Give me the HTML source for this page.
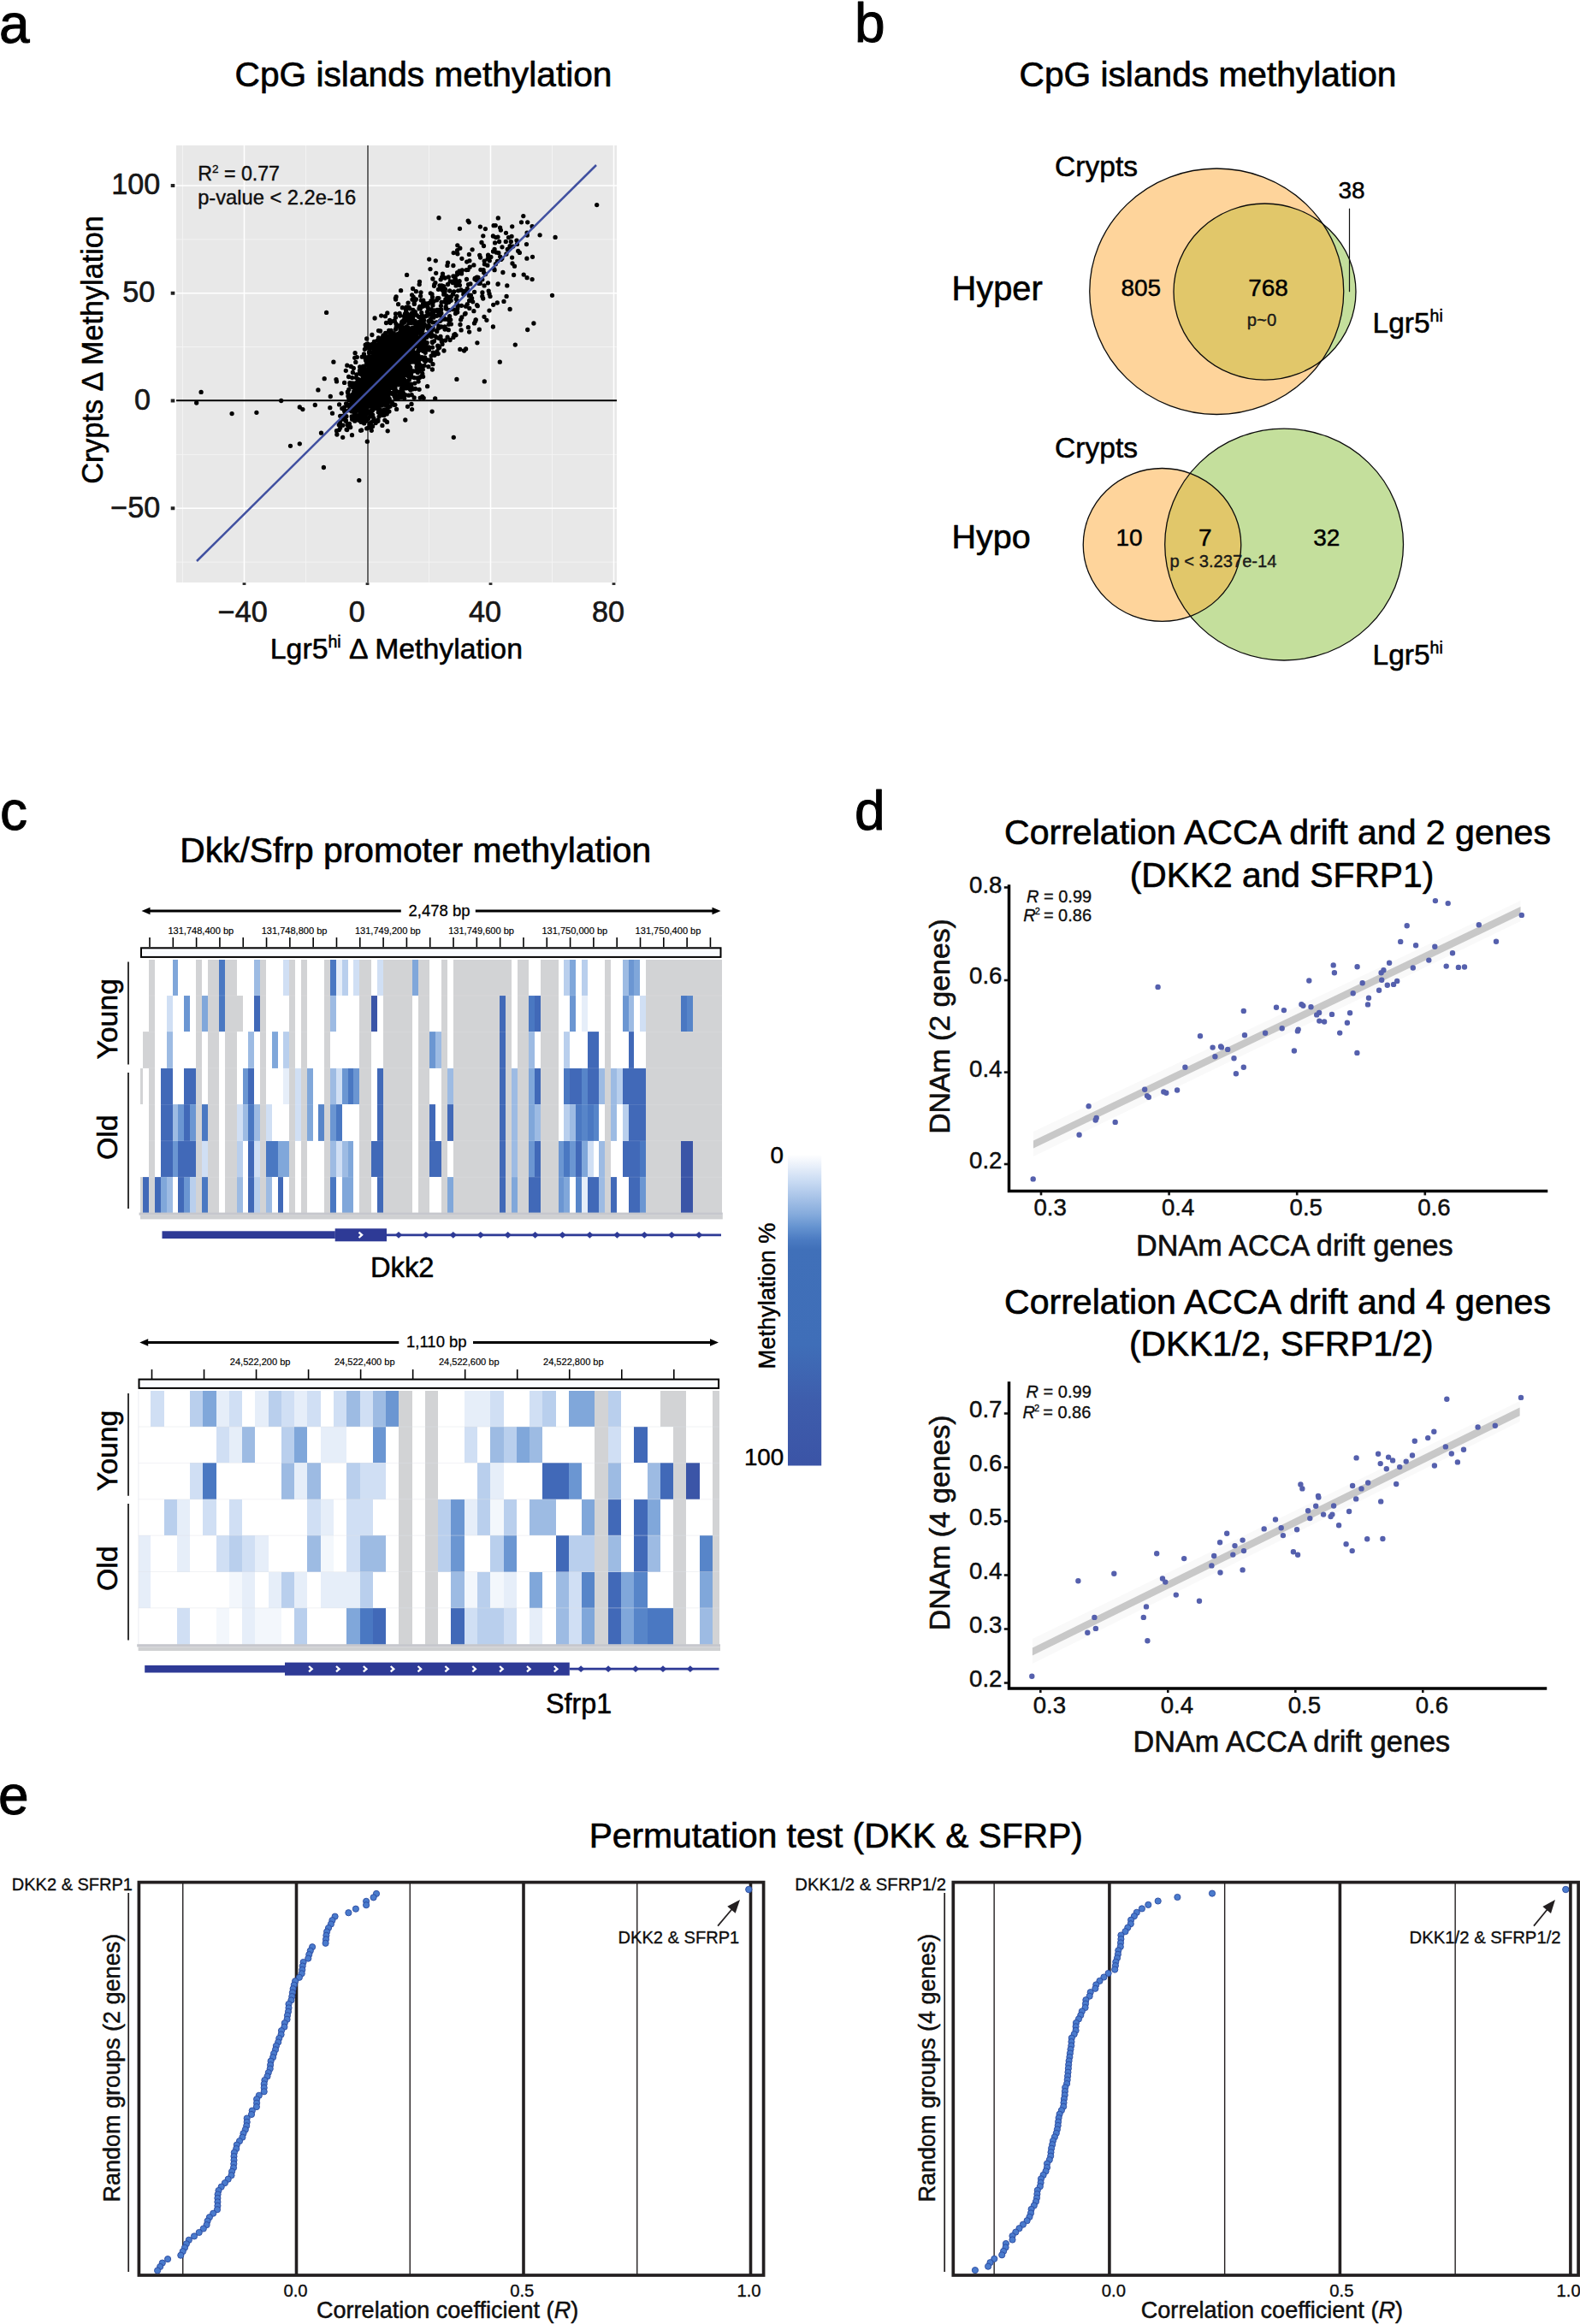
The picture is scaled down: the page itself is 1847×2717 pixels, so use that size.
<!DOCTYPE html>
<html><head><meta charset="utf-8"><title>Figure</title>
<style>html,body{margin:0;padding:0;background:#fff}svg{display:block}text{font-family:"Liberation Sans",Arial,Helvetica,sans-serif;stroke:#000;stroke-width:0.016em;stroke-linejoin:round}</style></head>
<body><svg width="1847" height="2717" viewBox="0 0 1847 2717">
<rect width="1847" height="2717" fill="#fff"/>
<text x="-1.00" y="50.00" font-size="64.00" text-anchor="start" fill="#000" >a</text>
<text x="495.00" y="100.60" font-size="40.70" text-anchor="middle" fill="#000" >CpG islands methylation</text>
<rect x="206.00" y="170.00" width="515.00" height="511.00" fill="#e8e8e8" />
<line x1="213.50" y1="170.00" x2="213.50" y2="681.00" stroke="#f4f4f4" stroke-width="0.90" />
<line x1="357.50" y1="170.00" x2="357.50" y2="681.00" stroke="#f4f4f4" stroke-width="0.90" />
<line x1="501.50" y1="170.00" x2="501.50" y2="681.00" stroke="#f4f4f4" stroke-width="0.90" />
<line x1="645.50" y1="170.00" x2="645.50" y2="681.00" stroke="#f4f4f4" stroke-width="0.90" />
<line x1="206.00" y1="279.88" x2="721.00" y2="279.88" stroke="#f4f4f4" stroke-width="0.90" />
<line x1="206.00" y1="405.62" x2="721.00" y2="405.62" stroke="#f4f4f4" stroke-width="0.90" />
<line x1="206.00" y1="531.38" x2="721.00" y2="531.38" stroke="#f4f4f4" stroke-width="0.90" />
<line x1="206.00" y1="657.12" x2="721.00" y2="657.12" stroke="#f4f4f4" stroke-width="0.90" />
<line x1="285.50" y1="170.00" x2="285.50" y2="681.00" stroke="#fff" stroke-width="1.50" />
<line x1="429.50" y1="170.00" x2="429.50" y2="681.00" stroke="#fff" stroke-width="1.50" />
<line x1="573.50" y1="170.00" x2="573.50" y2="681.00" stroke="#fff" stroke-width="1.50" />
<line x1="717.50" y1="170.00" x2="717.50" y2="681.00" stroke="#fff" stroke-width="1.50" />
<line x1="206.00" y1="217.00" x2="721.00" y2="217.00" stroke="#fff" stroke-width="1.50" />
<line x1="206.00" y1="342.75" x2="721.00" y2="342.75" stroke="#fff" stroke-width="1.50" />
<line x1="206.00" y1="468.50" x2="721.00" y2="468.50" stroke="#fff" stroke-width="1.50" />
<line x1="206.00" y1="594.25" x2="721.00" y2="594.25" stroke="#fff" stroke-width="1.50" />
<line x1="430.00" y1="170.00" x2="430.00" y2="681.00" stroke="#1a1a1a" stroke-width="1.30" />
<line x1="206.00" y1="468.30" x2="721.00" y2="468.30" stroke="#000" stroke-width="2.00" />
<path d="M442.2 429.9h0M442.7 446.4h0M430.0 456.8h0M466.8 407.4h0M465.4 412.3h0M453.9 425.0h0M416.8 447.9h0M455.9 416.6h0M407.6 440.5h0M480.9 390.5h0M444.3 427.2h0M458.2 412.7h0M451.4 443.3h0M424.4 472.4h0M431.0 432.8h0M452.6 427.4h0M454.2 398.6h0M432.7 441.9h0M429.8 464.3h0M436.9 410.7h0M442.5 454.7h0M427.2 466.6h0M467.4 439.1h0M434.9 391.5h0M460.6 407.7h0M447.2 447.3h0M441.7 440.5h0M431.7 481.3h0M413.8 487.1h0M436.0 417.3h0M427.1 470.5h0M413.6 457.9h0M466.0 424.9h0M443.5 445.4h0M439.0 472.0h0M480.2 404.6h0M442.9 419.8h0M444.9 441.6h0M436.2 443.4h0M451.4 426.5h0M447.9 445.6h0M447.0 415.1h0M451.9 437.0h0M425.2 449.0h0M471.5 437.0h0M456.3 439.0h0M432.2 440.5h0M480.6 437.0h0M453.3 419.0h0M448.3 419.5h0M422.9 456.9h0M446.6 434.2h0M431.7 441.1h0M406.1 496.7h0M438.9 466.8h0M426.8 476.5h0M483.2 385.2h0M453.6 470.4h0M452.1 450.3h0M440.0 436.9h0M442.5 445.6h0M458.0 419.0h0M455.4 411.4h0M447.1 435.4h0M451.6 423.3h0M444.1 435.0h0M464.3 438.8h0M454.9 415.2h0M436.9 429.5h0M471.9 383.2h0M466.9 417.0h0M439.2 442.5h0M460.0 411.5h0M443.6 400.4h0M448.8 430.1h0M467.8 422.8h0M460.4 401.9h0M468.5 410.1h0M482.4 406.3h0M442.1 455.6h0M439.5 433.8h0M449.8 458.1h0M449.7 451.1h0M452.3 393.3h0M481.8 405.1h0M458.3 460.3h0M446.0 451.5h0M430.0 454.6h0M451.0 430.8h0M444.2 422.7h0M430.9 499.9h0M406.8 459.6h0M491.5 395.6h0M438.4 433.2h0M448.5 420.7h0M453.9 401.2h0M474.7 431.5h0M420.8 457.7h0M449.1 441.8h0M425.7 494.9h0M452.8 463.6h0M435.6 445.1h0M450.7 450.0h0M461.9 473.3h0M432.3 437.5h0M474.1 419.8h0M451.3 422.0h0M469.5 377.1h0M450.3 443.3h0M470.1 464.1h0M437.6 461.0h0M437.7 448.2h0M494.5 383.9h0M433.8 469.1h0M464.3 427.5h0M470.1 440.7h0M450.1 417.4h0M443.2 424.7h0M434.8 455.9h0M438.4 438.8h0M461.0 432.2h0M423.8 451.5h0M462.3 432.8h0M465.2 429.7h0M425.3 462.1h0M466.0 414.3h0M447.4 433.6h0M450.1 444.6h0M418.2 458.6h0M431.8 457.1h0M424.0 461.4h0M448.6 443.6h0M434.1 454.1h0M441.6 406.1h0M423.7 460.0h0M449.3 478.9h0M423.6 448.9h0M425.2 458.0h0M439.8 463.9h0M426.7 460.6h0M472.8 421.7h0M477.5 440.1h0M445.4 410.9h0M479.1 417.8h0M452.7 422.0h0M440.3 439.5h0M447.2 427.5h0M431.5 482.5h0M455.1 434.9h0M441.2 471.0h0M470.0 379.5h0M459.2 426.6h0M464.1 424.9h0M451.1 425.5h0M437.5 467.6h0M455.8 434.2h0M456.8 439.7h0M473.0 384.0h0M449.6 436.8h0M448.0 448.8h0M468.7 421.7h0M446.3 400.2h0M443.8 429.3h0M445.3 437.9h0M451.9 427.9h0M432.7 434.9h0M460.5 390.0h0M429.2 453.9h0M457.0 402.4h0M435.4 449.9h0M439.4 413.8h0M456.5 433.4h0M449.9 405.7h0M437.1 442.7h0M439.6 438.2h0M441.5 426.3h0M431.7 464.6h0M466.1 402.2h0M440.5 424.8h0M462.8 419.4h0M455.4 423.8h0M451.7 425.7h0M461.6 433.0h0M475.4 413.7h0M467.3 407.3h0M461.7 405.6h0M448.3 401.0h0M449.6 445.8h0M443.1 487.1h0M453.4 399.4h0M467.4 437.5h0M455.5 416.8h0M431.3 482.6h0M445.6 418.2h0M445.0 421.7h0M422.3 473.9h0M433.0 453.5h0M451.7 425.6h0M451.8 431.8h0M433.0 445.0h0M453.2 406.9h0M416.2 474.1h0M433.9 447.7h0M461.8 432.8h0M449.4 448.5h0M451.5 377.5h0M435.3 462.0h0M442.9 422.4h0M443.5 439.8h0M447.4 452.5h0M460.6 436.0h0M446.6 438.1h0M446.7 436.7h0M454.6 433.1h0M449.9 415.4h0M448.9 430.8h0M470.5 446.2h0M441.3 459.2h0M422.9 444.6h0M434.5 475.5h0M493.0 370.7h0M470.1 416.7h0M442.6 417.8h0M414.1 491.5h0M425.8 452.3h0M437.7 469.0h0M443.6 420.1h0M418.8 450.9h0M425.6 432.3h0M429.8 457.9h0M434.6 437.1h0M448.7 440.3h0M453.3 415.9h0M427.0 475.5h0M428.6 463.9h0M427.9 417.7h0M447.5 435.5h0M425.5 486.4h0M441.0 410.8h0M458.6 424.3h0M453.9 432.1h0M475.7 397.9h0M475.2 384.1h0M443.6 456.5h0M460.6 436.5h0M418.7 485.6h0M429.5 442.7h0M451.5 432.0h0M476.5 415.5h0M468.7 406.9h0M447.3 439.0h0M473.5 420.5h0M421.5 467.1h0M467.8 437.7h0M451.2 399.4h0M472.6 392.5h0M494.0 385.6h0M445.5 474.1h0M455.3 405.4h0M442.9 441.4h0M459.0 410.4h0M442.6 449.9h0M441.9 491.1h0M440.1 416.8h0M471.5 454.5h0M444.7 442.2h0M434.3 429.2h0M434.3 446.5h0M447.0 458.2h0M447.8 438.5h0M456.2 436.6h0M459.8 422.4h0M445.9 436.6h0M412.4 435.5h0M474.9 418.3h0M409.1 478.1h0M463.6 478.4h0M487.9 411.8h0M437.7 459.7h0M453.1 420.5h0M449.3 424.8h0M434.1 434.1h0M441.4 443.6h0M468.2 407.4h0M463.0 378.7h0M436.6 434.9h0M423.3 417.2h0M424.6 489.1h0M438.0 412.6h0M455.7 459.9h0M455.9 437.3h0M435.1 402.4h0M459.2 407.3h0M461.4 431.1h0M459.4 427.3h0M397.7 486.3h0M473.0 418.2h0M468.6 424.2h0M453.5 421.8h0M457.2 405.5h0M435.0 439.1h0M485.3 375.3h0M446.3 427.7h0M455.8 411.1h0M455.7 414.3h0M454.0 430.2h0M470.1 386.8h0M427.3 473.3h0M456.5 446.1h0M444.1 442.4h0M452.3 439.8h0M493.2 372.8h0M461.9 449.1h0M420.7 458.2h0M460.8 421.9h0M465.0 466.2h0M461.7 396.8h0M417.0 460.0h0M447.4 446.3h0M409.7 499.5h0M450.8 411.4h0M446.8 401.3h0M431.9 416.7h0M408.8 473.3h0M455.4 413.2h0M464.8 438.4h0M407.7 479.7h0M421.2 459.0h0M427.0 461.0h0M445.2 434.5h0M434.0 422.5h0M434.3 451.8h0M455.7 427.4h0M472.4 413.8h0M438.5 421.4h0M456.2 444.3h0M437.9 440.0h0M470.8 394.7h0M447.8 485.4h0M457.9 451.2h0M417.3 479.9h0M448.8 432.9h0M492.6 395.7h0M432.0 426.5h0M449.7 442.9h0M430.1 453.8h0M473.5 396.4h0M440.9 423.4h0M450.3 459.9h0M459.8 411.2h0M477.2 407.5h0M425.5 441.8h0M492.5 405.1h0M477.6 403.7h0M459.4 422.3h0M431.8 427.7h0M440.5 436.4h0M458.6 450.7h0M460.0 411.8h0M443.6 450.2h0M454.5 417.0h0M445.2 430.6h0M448.8 468.4h0M470.7 387.4h0M427.2 407.4h0M446.1 442.8h0M456.9 394.5h0M435.1 417.6h0M452.1 445.1h0M458.8 430.2h0M456.3 409.7h0M447.0 466.3h0M482.9 362.3h0M479.4 398.6h0M463.1 403.1h0M416.7 471.6h0M449.1 453.2h0M449.7 421.2h0M441.1 470.4h0M475.7 386.5h0M450.3 419.1h0M418.4 458.6h0M448.0 391.9h0M462.3 422.1h0M476.6 391.3h0M437.0 452.8h0M491.6 403.5h0M437.4 448.9h0M431.4 451.3h0M448.3 432.7h0M414.6 465.3h0M467.1 366.5h0M434.8 459.6h0M455.7 448.8h0M455.7 415.3h0M441.8 429.9h0M418.9 447.8h0M419.0 477.7h0M436.8 454.0h0M462.2 418.9h0M439.6 431.7h0M475.2 407.6h0M453.4 403.8h0M451.6 457.6h0M491.6 346.1h0M411.1 472.0h0M454.3 408.6h0M458.8 429.6h0M427.8 452.5h0M465.4 440.0h0M428.3 454.6h0M411.9 475.7h0M438.9 434.3h0M434.1 466.5h0M439.7 443.9h0M434.8 447.4h0M460.3 398.1h0M477.5 421.7h0M439.2 494.5h0M481.0 417.1h0M446.2 425.7h0M422.3 450.5h0M446.3 474.0h0M452.0 406.1h0M413.2 452.4h0M450.5 422.4h0M454.7 401.1h0M442.8 421.8h0M439.4 428.2h0M432.1 452.6h0M477.9 395.9h0M443.9 462.3h0M432.6 445.9h0M463.7 410.4h0M456.2 427.4h0M471.1 419.9h0M436.9 427.3h0M447.9 440.5h0M436.4 451.4h0M458.0 417.5h0M425.0 448.6h0M450.0 453.3h0M460.7 427.9h0M440.7 425.4h0M470.6 426.6h0M454.7 446.2h0M488.4 404.9h0M468.3 428.0h0M461.4 375.7h0M401.0 490.0h0M455.8 428.9h0M434.7 403.4h0M448.2 468.4h0M462.2 456.2h0M467.5 427.3h0M449.4 407.3h0M448.9 462.5h0M416.3 441.6h0M460.1 439.5h0M462.3 410.4h0M458.4 471.0h0M441.3 422.7h0M460.0 404.7h0M402.5 476.1h0M455.6 374.5h0M429.6 459.6h0M447.4 417.0h0M438.8 420.1h0M432.6 444.4h0M437.3 442.0h0M434.3 481.1h0M466.5 410.2h0M436.7 441.7h0M464.6 438.4h0M444.8 426.7h0M456.3 433.4h0M408.9 447.7h0M452.7 429.8h0M441.8 435.4h0M439.1 464.6h0M433.5 461.3h0M435.8 470.7h0M458.2 451.6h0M458.7 445.1h0M453.1 401.3h0M450.4 447.3h0M447.6 432.0h0M415.6 479.2h0M449.7 442.7h0M448.2 419.3h0M460.6 403.6h0M457.4 431.4h0M446.4 441.8h0M441.1 445.2h0M415.7 473.4h0M446.3 456.4h0M446.3 425.7h0M443.8 396.0h0M399.9 486.5h0M413.9 448.1h0M494.6 440.3h0M449.1 422.9h0M441.3 429.9h0M406.4 458.2h0M453.5 428.8h0M436.2 433.2h0M438.0 439.9h0M437.6 491.3h0M446.2 432.3h0M460.4 440.5h0M446.2 423.7h0M449.4 407.7h0M482.6 419.2h0M412.2 452.4h0M474.3 389.7h0M461.4 434.2h0M433.9 430.2h0M430.4 489.5h0M428.8 402.2h0M481.4 415.9h0M433.7 444.1h0M433.3 422.2h0M445.4 459.7h0M470.3 424.6h0M450.8 432.2h0M441.1 434.8h0M434.3 486.2h0M433.1 444.0h0M446.8 419.0h0M466.9 438.6h0M455.7 418.4h0M440.9 437.4h0M472.7 408.8h0M447.0 441.7h0M453.5 438.4h0M456.8 449.8h0M434.7 439.6h0M470.9 423.0h0M448.3 420.2h0M441.6 435.6h0M453.3 456.4h0M419.0 459.2h0M428.9 453.8h0M449.5 449.4h0M428.5 471.4h0M467.7 460.7h0M461.4 423.0h0M433.2 444.2h0M443.7 459.6h0M443.2 438.9h0M453.0 429.2h0M444.0 485.2h0M433.3 440.6h0M456.1 445.7h0M433.3 473.0h0M421.2 453.1h0M460.6 424.3h0M452.2 402.9h0M426.6 456.3h0M444.8 418.8h0M422.1 493.4h0M453.2 443.7h0M450.6 420.3h0M454.8 409.8h0M450.7 432.1h0M419.0 444.9h0M423.3 461.7h0M469.5 446.9h0M459.2 439.7h0M444.7 471.5h0M410.5 463.0h0M483.1 384.1h0M448.1 431.6h0M476.4 374.5h0M436.6 465.6h0M479.6 410.7h0M458.5 400.0h0M432.8 460.4h0M421.8 437.5h0M444.1 421.5h0M423.2 445.3h0M431.7 455.0h0M423.7 463.7h0M458.4 430.4h0M441.7 431.1h0M441.4 431.5h0M448.2 417.4h0M439.6 439.8h0M450.2 401.9h0M453.9 450.1h0M426.0 457.0h0M440.2 458.9h0M437.6 429.3h0M416.4 459.9h0M442.6 409.2h0M417.3 455.8h0M443.8 436.0h0M455.2 388.5h0M454.3 417.4h0M423.2 446.0h0M424.1 460.5h0M454.8 399.6h0M464.3 413.6h0M461.9 424.7h0M448.5 434.9h0M461.4 425.6h0M429.9 475.4h0M488.7 434.8h0M446.0 440.5h0M443.7 457.8h0M456.8 423.2h0M430.3 459.3h0M425.3 448.5h0M481.8 369.1h0M464.8 417.6h0M447.6 424.7h0M475.9 405.2h0M446.5 460.1h0M448.0 430.9h0M435.8 465.8h0M447.3 427.4h0M434.6 432.1h0M441.7 433.9h0M474.0 418.9h0M446.9 441.3h0M441.2 433.9h0M419.7 455.9h0M422.1 473.1h0M461.1 455.9h0M470.1 375.9h0M466.2 402.9h0M448.7 437.7h0M485.4 417.9h0M446.6 424.8h0M438.0 469.2h0M452.2 429.6h0M416.7 477.2h0M433.5 454.5h0M456.0 410.0h0M424.7 458.3h0M435.8 479.6h0M458.4 433.8h0M442.3 482.0h0M455.6 426.1h0M458.5 434.5h0M473.4 403.0h0M438.1 435.8h0M458.1 436.3h0M466.2 407.0h0M460.4 401.6h0M492.2 392.3h0M438.5 434.8h0M444.8 482.1h0M481.2 392.6h0M418.7 476.1h0M451.5 437.6h0M440.3 436.8h0M464.0 398.6h0M450.6 424.0h0M420.0 491.5h0M446.7 447.1h0M449.1 450.3h0M435.7 449.4h0M407.5 499.0h0M456.8 426.1h0M428.0 450.0h0M475.3 381.8h0M425.5 469.3h0M413.3 481.6h0M423.5 476.0h0M451.2 438.0h0M440.9 473.2h0M462.0 427.5h0M422.1 460.3h0M465.7 444.8h0M453.8 455.0h0M461.3 409.6h0M441.9 460.9h0M421.0 479.7h0M460.2 416.9h0M446.0 448.4h0M443.9 429.0h0M404.9 486.7h0M445.8 459.8h0M436.6 450.9h0M425.7 481.6h0M420.8 482.5h0M444.3 425.0h0M442.8 448.1h0M430.3 451.3h0M437.6 425.7h0M445.1 422.0h0M451.8 433.7h0M448.5 453.0h0M456.0 432.9h0M430.9 453.0h0M459.6 425.9h0M404.2 492.3h0M444.6 431.5h0M429.8 450.1h0M456.0 420.5h0M414.5 483.2h0M431.6 464.5h0M441.9 422.0h0M443.0 464.1h0M421.3 451.7h0M428.3 461.3h0M468.6 386.7h0M470.9 436.6h0M474.6 410.6h0M464.2 419.2h0M465.7 416.6h0M448.0 437.6h0M432.4 449.5h0M462.0 442.5h0M449.2 453.2h0M426.7 486.5h0M478.2 400.5h0M441.9 419.6h0M412.2 467.6h0M437.1 431.2h0M424.5 454.7h0M447.0 406.9h0M438.9 443.6h0M455.1 418.3h0M457.0 422.6h0M430.4 426.4h0M478.7 401.1h0M436.2 424.4h0M431.2 445.3h0M420.5 433.2h0M427.2 448.0h0M436.7 454.8h0M426.1 457.5h0M427.5 435.5h0M431.4 452.5h0M459.9 407.6h0M462.9 398.4h0M454.0 414.0h0M463.3 445.3h0M447.0 434.1h0M445.2 424.9h0M429.8 480.9h0M436.6 435.2h0M432.1 496.2h0M469.1 387.7h0M458.5 427.6h0M443.5 463.2h0M429.4 436.2h0M440.1 418.0h0M444.3 482.1h0M450.5 400.2h0M452.8 443.1h0M435.2 434.6h0M433.7 473.7h0M450.3 430.6h0M434.5 467.9h0M454.2 464.9h0M435.6 457.3h0M479.3 423.8h0M458.9 427.2h0M468.0 385.3h0M442.7 435.1h0M431.2 458.4h0M460.6 447.3h0M433.6 447.7h0M441.8 448.2h0M409.8 478.7h0M445.2 438.2h0M448.7 416.9h0M484.5 422.0h0M430.1 441.3h0M408.5 495.5h0M430.7 474.0h0M426.9 481.1h0M431.3 444.0h0M472.7 444.0h0M454.8 417.5h0M453.6 394.6h0M453.9 403.0h0M433.3 475.3h0M471.3 405.6h0M424.3 459.0h0M462.0 436.8h0M454.2 455.3h0M457.7 418.8h0M444.3 443.6h0M444.7 410.4h0M469.1 455.0h0M428.4 457.3h0M447.8 455.9h0M462.5 366.8h0M427.5 476.0h0M449.6 409.3h0M462.3 417.8h0M456.8 424.0h0M447.0 440.0h0M438.4 435.5h0M445.2 430.1h0M439.9 410.0h0M450.0 431.1h0M476.0 404.5h0M452.1 425.7h0M418.6 443.1h0M423.8 433.5h0M459.6 429.0h0M427.4 440.6h0M441.1 409.5h0M440.4 438.6h0M447.0 457.9h0M419.8 446.9h0M454.2 430.1h0M436.0 431.2h0M430.9 433.2h0M453.1 449.4h0M438.0 449.7h0M437.8 439.1h0M430.4 469.9h0M426.7 473.4h0M455.5 416.0h0M404.6 471.8h0M424.0 460.3h0M452.9 398.1h0M442.2 431.7h0M432.5 494.7h0M416.2 452.4h0M425.5 464.8h0M464.5 403.0h0M435.5 458.2h0M424.4 428.3h0M426.9 455.7h0M447.8 436.6h0M465.6 449.8h0M429.6 448.2h0M443.3 420.5h0M418.3 446.0h0M429.4 459.0h0M481.5 390.6h0M421.2 444.9h0M438.2 421.8h0M458.4 420.3h0M435.3 447.2h0M405.1 474.2h0M471.3 421.8h0M428.7 449.5h0M460.1 422.5h0M414.9 475.9h0M448.7 421.6h0M417.8 461.6h0M470.3 378.4h0M424.2 481.4h0M444.0 450.0h0M440.6 437.4h0M457.4 431.3h0M430.5 471.2h0M439.6 454.6h0M445.7 369.1h0M463.8 425.9h0M452.8 454.3h0M423.3 443.6h0M467.0 430.0h0M464.8 412.7h0M447.4 394.0h0M444.6 464.6h0M448.8 436.5h0M478.0 449.7h0M466.3 412.5h0M413.7 453.2h0M443.6 425.6h0M449.6 429.4h0M453.6 404.2h0M454.0 413.0h0M432.3 407.4h0M433.9 423.0h0M456.3 434.8h0M452.2 415.1h0M443.3 466.5h0M436.6 416.4h0M439.5 460.6h0M459.0 395.0h0M486.2 382.4h0M446.1 421.1h0M450.1 459.2h0M477.9 372.7h0M427.4 420.3h0M456.0 434.3h0M421.6 453.7h0M446.2 415.2h0M470.6 383.6h0M436.7 454.1h0M469.7 412.7h0M438.3 451.4h0M459.2 406.8h0M461.3 414.1h0M458.4 405.1h0M468.0 382.3h0M449.0 431.8h0M451.4 418.3h0M441.2 403.5h0M432.2 441.6h0M440.4 451.0h0M449.4 397.5h0M431.8 466.3h0M432.5 470.5h0M475.1 436.6h0M450.3 423.3h0M456.7 395.5h0M456.7 437.0h0M443.5 428.0h0M436.5 456.2h0M452.3 435.7h0M480.9 408.5h0M456.2 444.6h0M447.7 426.7h0M441.7 433.9h0M446.0 412.5h0M430.4 446.4h0M466.7 419.8h0M460.3 416.6h0M463.1 346.9h0M443.2 431.1h0M443.1 450.3h0M483.9 368.1h0M457.0 441.2h0M494.8 351.2h0M450.1 438.8h0M455.1 388.7h0M447.2 448.5h0M444.9 479.5h0M462.5 415.1h0M469.7 404.8h0M455.4 423.2h0M418.6 460.9h0M453.7 405.0h0M459.7 439.7h0M447.2 427.7h0M470.6 422.2h0M415.0 479.2h0M440.8 411.1h0M458.5 451.9h0M462.5 385.0h0M458.0 445.0h0M476.5 390.7h0M431.0 406.4h0M450.6 473.5h0M452.1 432.0h0M458.3 414.9h0M431.8 440.4h0M461.6 422.9h0M445.8 459.1h0M444.4 448.7h0M445.9 445.1h0M414.4 455.8h0M434.9 452.5h0M429.7 452.7h0M440.4 406.5h0M414.8 492.2h0M447.5 460.3h0M442.5 386.6h0M452.9 427.7h0M458.0 412.2h0M455.0 425.7h0M442.7 413.6h0M462.7 418.9h0M450.0 454.7h0M433.0 481.3h0M442.8 406.6h0M468.7 415.6h0M441.4 424.0h0M461.4 438.1h0M446.7 420.8h0M459.5 405.3h0M465.0 410.4h0M439.0 474.2h0M433.6 429.1h0M475.7 388.4h0M440.0 477.3h0M463.3 440.0h0M443.9 405.4h0M435.5 455.1h0M458.1 435.9h0M463.3 382.5h0M443.0 407.3h0M429.5 449.0h0M441.9 492.3h0M441.8 426.5h0M441.3 467.0h0M458.8 440.8h0M463.4 399.5h0M454.9 432.1h0M446.7 401.1h0M483.3 391.7h0M405.1 502.2h0M422.4 455.8h0M443.6 449.2h0M435.8 453.9h0M433.8 493.9h0M436.0 457.8h0M437.3 467.0h0M444.3 422.1h0M442.3 450.5h0M471.2 391.6h0M463.4 395.7h0M440.9 444.4h0M466.8 427.5h0M444.6 430.2h0M453.5 435.0h0M464.5 422.1h0M459.8 400.9h0M458.6 409.0h0M425.9 483.5h0M435.6 437.1h0M473.8 434.4h0M452.3 448.0h0M433.6 454.6h0M459.2 419.2h0M468.0 435.2h0M462.8 400.9h0M448.0 424.8h0M436.6 468.4h0M439.5 456.3h0M498.8 394.5h0M476.5 402.4h0M452.4 415.0h0M432.8 430.8h0M453.6 460.5h0M457.6 413.8h0M454.9 395.2h0M439.3 432.7h0M460.3 441.1h0M468.4 444.5h0M423.4 448.2h0M427.2 457.6h0M417.2 463.7h0M426.4 449.0h0M419.2 453.9h0M442.0 439.3h0M445.6 434.4h0M447.4 466.7h0M462.3 400.9h0M429.1 469.8h0M460.3 454.4h0M454.3 433.9h0M464.0 437.9h0M440.7 457.7h0M475.3 393.6h0M429.6 465.2h0M450.7 435.8h0M456.3 450.7h0M435.9 407.1h0M468.0 432.7h0M477.8 377.9h0M408.1 467.9h0M465.0 415.3h0M445.4 411.8h0M453.6 475.5h0M447.5 431.4h0M424.6 432.9h0M446.6 467.3h0M443.8 453.7h0M457.6 441.1h0M437.4 415.8h0M438.1 453.8h0M445.5 451.9h0M459.7 448.1h0M437.9 405.8h0M414.9 489.5h0M448.4 483.0h0M404.5 491.7h0M465.2 412.6h0M436.7 469.5h0M492.1 379.7h0M427.6 421.2h0M471.2 425.9h0M415.8 423.4h0M444.5 448.7h0M451.8 437.1h0M467.7 428.6h0M446.4 424.3h0M469.9 428.4h0M436.6 416.6h0M445.8 416.4h0M451.6 426.9h0M431.8 451.3h0M445.3 450.6h0M479.4 430.0h0M433.0 441.5h0M466.7 431.5h0M442.1 455.8h0M429.1 426.4h0M446.4 445.2h0M451.6 411.8h0M472.1 403.5h0M451.9 418.8h0M466.0 404.3h0M424.6 455.3h0M440.7 406.6h0M449.2 447.9h0M472.4 418.2h0M455.5 428.3h0M455.0 405.4h0M433.3 462.3h0M462.8 425.3h0M450.8 410.9h0M431.7 429.3h0M441.9 452.1h0M437.4 399.3h0M458.1 413.7h0M434.4 417.6h0M427.1 464.6h0M469.9 389.7h0M441.5 426.4h0M442.6 465.3h0M465.1 414.6h0M462.0 404.0h0M432.2 446.2h0M433.8 439.7h0M461.8 399.7h0M491.0 398.9h0M469.1 394.7h0M461.5 437.1h0M458.8 414.3h0M450.5 423.4h0M431.9 450.2h0M458.5 427.5h0M459.7 393.4h0M452.6 436.7h0M455.6 429.7h0M439.1 448.2h0M480.7 386.9h0M460.8 402.8h0M418.9 453.0h0M460.9 425.4h0M429.5 439.3h0M443.6 415.7h0M440.3 439.1h0M466.3 394.6h0M467.4 418.5h0M485.3 414.7h0M437.8 444.1h0M471.4 401.8h0M482.3 383.1h0M461.8 436.8h0M443.0 436.8h0M429.2 467.9h0M427.3 462.8h0M463.4 408.4h0M452.6 419.4h0M434.0 453.6h0M439.4 461.2h0M440.3 459.6h0M446.7 419.6h0M453.0 428.1h0M456.0 430.2h0M432.4 487.1h0M469.3 407.0h0M410.0 465.2h0M439.4 444.0h0M451.1 444.6h0M422.8 472.3h0M461.7 438.4h0M423.3 458.7h0M481.6 418.8h0M467.1 411.6h0M454.9 399.2h0M431.5 452.4h0M441.7 429.0h0M449.4 427.6h0M461.3 425.8h0M450.2 443.4h0M470.6 395.5h0M477.9 434.8h0M434.6 448.6h0M466.0 424.6h0M431.5 411.9h0M447.0 432.9h0M432.2 411.3h0M456.2 431.6h0M443.3 439.0h0M455.5 423.6h0M434.8 418.2h0M431.4 423.8h0M461.1 448.6h0M465.3 409.7h0M433.9 406.5h0M470.1 455.1h0M465.9 429.1h0M419.3 449.1h0M424.6 464.4h0M448.5 441.1h0M428.7 500.9h0M443.7 414.6h0M468.7 383.3h0M454.4 422.9h0M433.6 501.0h0M433.1 466.2h0M429.6 452.8h0M453.1 443.0h0M461.2 416.3h0M461.6 400.1h0M468.1 422.1h0M435.1 446.1h0M468.4 460.0h0M461.1 432.1h0M459.0 415.3h0M440.2 459.5h0M440.5 431.7h0M426.0 455.6h0M435.8 460.6h0M425.7 490.8h0M454.2 423.6h0M439.0 448.3h0M463.3 417.6h0M452.9 432.5h0M458.5 431.1h0M428.1 440.5h0M457.2 444.8h0M450.1 428.7h0M452.8 365.9h0M450.6 432.1h0M439.2 455.2h0M397.4 493.7h0M443.4 461.2h0M448.1 425.0h0M467.7 369.0h0M448.9 451.6h0M426.8 428.0h0M436.4 446.2h0M460.3 419.4h0M450.0 426.6h0M412.7 473.3h0M457.8 450.7h0M420.2 450.9h0M441.9 432.3h0M413.7 469.5h0M430.8 436.3h0M477.6 413.9h0M462.4 439.3h0M441.3 433.8h0M435.2 421.6h0M452.7 456.4h0M422.7 471.9h0M409.2 450.3h0M439.7 455.0h0M446.8 444.2h0M469.4 386.0h0M460.1 411.3h0M463.5 410.6h0M445.3 415.8h0M451.6 419.1h0M473.6 369.8h0M447.4 413.0h0M421.8 475.6h0M453.4 442.4h0M428.4 470.5h0M454.6 456.5h0M456.8 405.5h0M412.2 461.2h0M459.7 448.0h0M454.9 435.7h0M456.5 410.6h0M454.9 481.1h0M458.6 389.5h0M427.2 403.2h0M439.4 470.6h0M424.3 429.3h0M456.7 439.5h0M437.2 491.3h0M427.6 484.4h0M449.9 438.6h0M462.5 416.7h0M444.0 427.0h0M471.9 419.3h0M449.2 444.1h0M432.1 469.1h0M437.7 471.0h0M442.4 448.3h0M452.2 412.3h0M481.1 411.7h0M444.2 428.2h0M436.3 425.3h0M459.2 423.8h0M467.6 429.2h0M442.5 449.2h0M442.9 467.1h0M444.8 419.4h0M455.7 407.2h0M455.4 410.3h0M429.6 460.5h0M417.3 417.6h0M483.1 401.7h0M438.6 434.1h0M431.1 426.6h0M487.0 429.0h0M434.8 424.4h0M470.4 398.4h0M451.5 433.8h0M449.0 445.5h0M439.8 452.7h0M473.6 448.0h0M463.7 449.5h0M421.6 503.3h0M431.3 434.4h0M472.7 429.3h0M472.4 426.8h0M416.3 451.7h0M458.9 427.9h0M403.1 480.1h0M441.5 448.6h0M441.8 476.3h0M437.0 409.9h0M473.5 416.7h0M434.5 440.2h0M465.1 403.4h0M426.6 452.6h0M449.2 405.0h0M467.5 405.1h0M467.8 423.0h0M473.4 418.1h0M453.6 411.0h0M431.0 465.4h0M416.4 462.6h0M445.8 443.3h0M455.4 469.3h0M446.4 434.6h0M442.2 424.7h0M477.1 414.8h0M430.5 463.9h0M448.4 422.7h0M431.9 430.8h0M429.1 437.0h0M454.2 419.4h0M484.1 404.3h0M443.9 429.3h0M461.7 447.7h0M451.5 445.9h0M457.7 398.0h0M447.7 437.1h0M449.9 491.3h0M460.1 411.6h0M449.6 440.9h0M434.2 451.9h0M467.7 417.2h0M470.1 463.8h0M438.8 438.3h0M446.5 469.0h0M435.3 422.5h0M424.5 477.5h0M427.8 465.5h0M457.9 413.2h0M411.7 441.6h0M436.5 457.6h0M475.6 409.0h0M425.4 469.7h0M434.2 468.3h0M441.0 424.2h0M452.8 457.2h0M494.9 407.9h0M448.8 433.3h0M459.9 429.4h0M454.7 386.4h0M448.4 455.7h0M452.5 446.2h0M440.4 438.5h0M452.6 435.8h0M461.4 425.2h0M424.2 440.8h0M440.5 418.1h0M435.5 435.7h0M452.2 483.9h0M421.0 483.5h0M471.1 449.3h0M462.6 398.7h0M455.3 414.1h0M438.2 444.6h0M450.7 423.7h0M459.0 427.9h0M434.7 459.0h0M453.9 461.8h0M425.1 465.4h0M437.2 450.7h0M400.8 488.1h0M442.4 424.8h0M412.6 475.7h0M455.0 418.1h0M467.5 394.6h0M428.6 441.2h0M441.0 457.5h0M473.3 422.2h0M432.0 458.6h0M432.0 430.5h0M453.4 401.6h0M453.9 441.1h0M464.9 431.0h0M438.8 447.1h0M447.5 411.5h0M436.3 439.3h0M446.3 461.3h0M427.8 459.0h0M453.8 422.6h0M455.1 426.7h0M439.0 435.1h0M429.4 479.7h0M441.0 470.0h0M437.9 459.5h0M437.2 446.3h0M432.9 458.0h0M417.1 462.3h0M431.5 442.9h0M397.7 500.3h0M451.0 480.3h0M440.5 440.2h0M448.6 463.9h0M450.8 429.0h0M429.9 437.7h0M445.9 436.4h0M439.0 432.7h0M448.5 411.6h0M454.6 440.4h0M442.9 421.4h0M440.4 434.5h0M455.9 430.5h0M406.3 473.2h0M450.5 429.5h0M433.6 424.8h0M444.4 450.6h0M434.3 441.1h0M427.8 474.6h0M481.6 375.4h0M465.1 390.5h0M457.1 459.3h0M467.6 390.6h0M455.3 466.5h0M468.4 387.3h0M438.2 441.8h0M460.3 424.2h0M465.9 415.4h0M458.8 422.3h0M421.0 481.2h0M502.0 375.8h0M469.6 390.6h0M476.7 395.3h0M436.4 445.8h0M413.3 472.7h0M462.6 463.5h0M450.2 416.0h0M470.0 431.5h0M435.4 484.6h0M429.0 442.8h0M482.9 423.1h0M470.9 403.6h0M438.1 400.5h0M402.7 480.7h0M450.6 389.4h0M478.2 359.5h0M449.1 413.9h0M470.6 402.1h0M453.1 433.3h0M439.6 467.6h0M480.9 411.2h0M410.4 466.5h0M446.2 432.9h0M478.5 406.7h0M442.1 455.4h0M446.4 445.1h0M450.4 369.7h0M453.7 446.3h0M480.6 385.2h0M461.1 407.4h0M461.1 408.2h0M471.5 391.3h0M470.4 422.6h0M446.7 450.6h0M463.6 402.6h0M438.6 432.2h0M492.8 365.6h0M427.2 457.0h0M457.9 425.6h0M453.6 405.5h0M452.5 452.2h0M459.3 425.5h0M448.8 445.3h0M422.5 484.9h0M440.6 463.5h0M399.2 459.8h0M426.4 470.5h0M456.1 475.1h0M470.3 428.1h0M458.4 434.1h0M452.1 428.5h0M446.8 472.6h0M421.0 462.2h0M471.5 422.4h0M456.1 423.4h0M455.3 407.6h0M420.5 456.3h0M443.7 445.2h0M431.8 466.5h0M428.7 475.8h0M490.8 358.3h0M447.0 420.8h0M414.8 490.8h0M425.2 480.8h0M466.4 436.3h0M460.4 446.0h0M429.2 466.0h0M469.6 427.5h0M443.4 451.6h0M437.6 425.3h0M435.7 451.3h0M425.3 471.6h0M448.6 404.4h0M478.9 428.9h0M442.8 477.0h0M441.1 440.6h0M457.8 415.0h0M428.8 478.2h0M420.7 429.0h0M424.4 438.5h0M451.5 412.4h0M417.9 455.9h0M454.0 428.8h0M455.2 450.7h0M472.2 433.2h0M444.1 420.9h0M456.3 394.7h0M446.3 458.8h0M453.2 419.1h0M417.8 446.2h0M468.8 430.9h0M463.0 418.3h0M464.1 429.7h0M461.7 407.5h0M448.1 441.0h0M444.1 424.2h0M472.6 413.2h0M462.5 418.3h0M480.9 377.6h0M460.7 413.4h0M437.4 477.5h0M461.6 435.9h0M435.1 426.0h0M452.1 452.5h0M467.8 421.0h0M464.5 440.9h0M420.4 474.1h0M461.0 463.1h0M427.3 435.4h0M491.6 396.4h0M429.9 461.9h0M432.9 418.3h0M459.8 441.3h0M461.9 465.3h0M447.6 434.9h0M442.7 459.1h0M435.7 485.1h0M454.9 448.0h0M457.2 408.5h0M434.5 472.7h0M448.0 420.8h0M422.9 460.8h0M428.6 423.7h0M453.6 462.4h0M436.5 444.7h0M437.8 443.2h0M453.9 425.0h0M439.2 414.1h0M462.6 426.6h0M444.4 451.9h0M421.0 468.2h0M447.4 443.0h0M429.3 516.2h0M414.7 459.5h0M439.5 455.7h0M465.6 355.7h0M448.8 436.4h0M460.7 428.3h0M459.5 406.7h0M429.0 474.9h0M445.5 420.5h0M451.6 406.2h0M422.7 449.8h0M435.9 444.6h0M452.4 449.8h0M442.8 463.1h0M451.4 448.3h0M438.2 440.0h0M435.4 424.2h0M435.6 429.9h0M451.7 451.7h0M443.0 456.4h0M440.5 447.5h0M478.5 412.9h0M474.2 399.9h0M458.6 419.1h0M442.5 467.1h0M457.2 386.5h0M457.6 400.2h0M457.4 405.6h0M483.6 433.8h0M434.7 478.7h0M447.1 443.4h0M433.4 439.6h0M480.1 374.9h0M478.7 401.8h0M454.8 398.1h0M464.5 398.0h0M441.1 450.1h0M435.1 421.4h0M431.5 447.0h0M451.9 432.9h0M441.8 431.9h0M433.9 445.6h0M470.4 423.6h0M467.7 389.4h0M479.5 421.4h0M477.6 384.1h0M473.1 389.5h0M444.5 418.4h0M450.4 441.6h0M436.9 454.4h0M444.5 470.6h0M453.2 457.6h0M458.4 395.3h0M469.0 380.3h0M475.1 359.1h0M445.7 453.8h0M444.3 458.1h0M471.3 459.2h0M447.7 415.2h0M458.2 406.3h0M428.5 462.6h0M444.8 427.3h0M457.8 393.8h0M425.1 450.6h0M487.3 368.6h0M451.7 412.5h0M443.4 410.9h0M437.8 427.1h0M451.8 445.7h0M451.0 432.3h0M435.5 443.0h0M432.1 426.5h0M456.5 404.7h0M459.7 416.6h0M423.2 464.4h0M447.9 444.1h0M446.1 443.2h0M439.1 460.4h0M438.9 465.2h0M465.6 410.8h0M456.2 409.3h0M441.0 418.6h0M416.2 477.7h0M448.0 399.4h0M467.4 397.6h0M460.9 432.0h0M444.8 450.0h0M448.9 457.7h0M442.1 449.7h0M455.6 438.6h0M453.7 418.4h0M456.3 409.6h0M431.4 448.3h0M444.8 415.5h0M439.5 436.2h0M424.2 463.8h0M434.7 447.8h0M436.4 446.6h0M451.3 451.0h0M460.3 433.8h0M483.3 376.4h0M458.7 421.3h0M470.9 405.2h0M419.1 448.9h0M451.9 478.6h0M416.8 437.8h0M453.2 443.1h0M415.9 486.9h0M474.3 453.9h0M456.4 377.5h0M449.7 451.0h0M456.4 413.2h0M453.9 432.1h0M419.8 451.5h0M460.2 413.9h0M456.0 423.3h0M462.6 350.1h0M437.5 439.0h0M426.9 491.4h0M447.3 406.5h0M430.4 461.1h0M437.7 473.0h0M422.1 458.1h0M439.1 447.4h0M430.4 423.9h0M486.6 412.5h0M420.4 436.3h0M472.1 369.6h0M431.8 452.0h0M412.8 460.6h0M424.0 493.7h0M460.1 413.8h0M411.2 486.9h0M490.5 441.6h0M438.2 403.9h0M478.3 401.1h0M433.4 441.2h0M435.7 439.5h0M465.6 415.2h0M467.7 389.0h0M431.8 455.7h0M429.4 445.3h0M415.5 486.9h0M407.6 464.9h0M430.4 426.4h0M460.4 412.7h0M432.7 482.2h0M427.6 454.3h0M445.1 441.2h0M447.0 406.7h0M467.9 439.6h0M458.8 442.0h0M451.1 427.3h0M463.2 403.7h0M426.0 458.7h0M454.2 432.7h0M474.5 436.8h0M456.2 422.9h0M438.2 446.8h0M442.0 434.8h0M436.5 453.0h0M491.6 401.1h0M456.5 404.4h0M431.0 435.2h0M435.6 498.4h0M446.9 497.4h0M444.5 423.7h0M478.3 391.6h0M465.5 404.5h0M446.8 414.5h0M440.1 436.8h0M434.0 454.2h0M453.4 468.2h0M435.1 467.4h0M445.3 398.0h0M430.2 456.3h0M440.6 457.9h0M433.1 430.6h0M442.3 455.7h0M425.2 475.0h0M462.2 440.7h0M411.6 490.2h0M447.0 428.7h0M445.9 420.9h0M423.3 480.1h0M439.9 442.4h0M408.9 477.9h0M417.1 447.4h0M450.3 399.2h0M480.5 393.6h0M440.4 465.2h0M434.4 428.4h0M452.0 431.2h0M421.0 468.1h0M476.7 412.9h0M468.6 464.4h0M470.6 434.5h0M420.6 470.7h0M431.0 419.9h0M440.3 448.4h0M433.3 435.0h0M466.8 399.3h0M418.4 470.4h0M454.9 469.9h0M443.1 421.8h0M471.9 402.6h0M460.5 406.0h0M451.8 470.9h0M478.3 391.8h0M444.0 456.6h0M487.0 390.3h0M461.8 430.2h0M450.0 434.0h0M464.8 458.1h0M477.3 407.2h0M458.9 405.0h0M436.1 431.1h0M424.9 454.3h0M431.4 431.1h0M471.5 437.4h0M451.1 448.1h0M420.4 465.1h0M463.7 397.2h0M435.8 453.6h0M471.4 413.7h0M477.6 368.1h0M455.4 445.0h0M440.0 427.6h0M441.6 440.7h0M527.6 346.6h0M556.3 324.9h0M493.8 406.2h0M560.3 385.2h0M577.1 263.7h0M504.3 393.5h0M522.9 346.9h0M497.6 420.0h0M533.1 333.9h0M532.3 322.9h0M554.5 377.9h0M519.6 324.8h0M615.9 302.2h0M563.9 341.9h0M466.1 435.7h0M483.3 363.1h0M500.1 359.5h0M466.8 419.9h0M543.9 340.1h0M490.2 433.2h0M484.5 387.7h0M497.8 408.1h0M525.6 369.7h0M520.2 325.0h0M570.6 299.0h0M505.2 399.8h0M605.7 293.4h0M496.5 357.0h0M474.4 395.6h0M557.5 356.6h0M480.7 396.8h0M491.0 398.0h0M510.4 413.3h0M563.8 326.8h0M563.0 283.5h0M579.2 263.6h0M544.1 366.5h0M499.6 451.7h0M493.7 463.7h0M479.1 360.8h0M512.7 406.9h0M471.2 408.2h0M600.6 321.5h0M471.4 435.6h0M510.2 376.9h0M503.2 373.5h0M456.7 442.8h0M534.6 292.6h0M596.1 287.6h0M462.5 434.6h0M495.8 392.6h0M546.3 337.3h0M503.0 314.6h0M535.7 339.8h0M534.6 318.7h0M564.8 275.8h0M464.2 400.4h0M505.3 385.9h0M548.8 360.4h0M515.2 335.1h0M465.5 442.9h0M504.2 361.7h0M469.6 455.8h0M463.4 401.9h0M554.6 341.3h0M546.1 341.8h0M457.9 409.3h0M470.8 419.7h0M521.4 384.3h0M596.5 288.7h0M616.1 272.2h0M541.8 340.7h0M464.2 433.2h0M492.0 341.8h0M459.2 423.7h0M482.6 371.4h0M471.6 442.0h0M469.6 424.2h0M470.5 432.3h0M476.0 359.2h0M472.0 444.5h0M512.8 395.3h0M539.9 302.3h0M601.5 311.2h0M460.4 405.3h0M564.7 349.0h0M493.1 399.0h0M511.0 362.5h0M549.9 331.9h0M490.1 455.3h0M506.9 371.2h0M524.8 348.9h0M543.4 367.2h0M525.7 340.0h0M548.9 304.8h0M483.2 398.1h0M488.5 400.1h0M510.3 394.6h0M581.3 354.0h0M560.0 331.4h0M547.2 258.2h0M550.4 345.1h0M457.1 453.4h0M558.9 324.3h0M470.3 455.6h0M511.3 348.7h0M469.7 448.3h0M460.4 375.2h0M484.7 385.6h0M480.7 449.2h0M477.1 447.9h0M479.7 430.0h0M470.0 449.4h0M531.5 324.1h0M500.9 366.8h0M502.8 367.8h0M484.5 395.2h0M500.8 354.7h0M515.2 326.8h0M460.2 410.7h0M472.3 416.6h0M472.5 426.6h0M478.9 421.3h0M466.2 413.5h0M514.8 382.6h0M484.3 405.4h0M530.2 295.6h0M471.6 428.4h0M523.5 332.5h0M483.2 347.2h0M489.1 446.1h0M467.1 406.0h0M495.1 406.2h0M472.7 438.2h0M516.7 323.8h0M521.9 361.1h0M515.0 393.4h0M519.3 372.1h0M549.2 312.2h0M576.4 382.0h0M501.1 375.4h0M537.1 328.7h0M468.1 384.4h0M475.1 402.8h0M579.7 277.6h0M516.0 381.9h0M483.6 365.1h0M513.0 254.7h0M506.1 383.1h0M501.9 389.9h0M539.1 385.9h0M566.4 308.8h0M486.3 382.1h0M474.7 415.2h0M533.8 331.0h0M478.2 399.3h0M512.4 338.3h0M489.5 426.1h0M506.2 367.0h0M457.8 435.1h0M491.8 371.4h0M524.3 385.7h0M607.4 295.4h0M486.7 400.3h0M534.8 286.8h0M481.0 452.4h0M479.8 406.6h0M500.9 361.8h0M576.7 356.3h0M515.7 362.0h0M565.5 287.5h0M509.3 304.8h0M482.6 337.5h0M485.4 416.4h0M500.1 384.0h0M484.3 417.7h0M474.6 422.0h0M534.0 346.3h0M532.9 362.9h0M479.1 438.8h0M457.8 411.5h0M545.2 315.6h0M586.8 302.2h0M537.8 290.2h0M525.2 362.6h0M485.1 388.7h0M566.2 305.1h0M476.1 407.6h0M523.1 394.2h0M488.3 379.6h0M468.3 380.2h0M561.6 301.1h0M599.0 308.0h0M480.5 374.4h0M529.8 329.0h0M503.3 342.8h0M485.1 396.1h0M534.7 364.8h0M565.1 315.7h0M469.5 438.0h0M530.7 340.9h0M471.3 375.3h0M486.4 433.7h0M570.6 298.2h0M492.0 409.4h0M494.3 431.9h0M488.6 389.1h0M494.2 393.5h0M539.5 357.3h0M463.5 379.6h0M481.6 344.8h0M520.6 398.0h0M524.3 324.0h0M503.6 383.1h0M484.2 354.7h0M515.9 366.2h0M511.6 404.5h0M470.9 431.1h0M461.6 443.0h0M514.3 375.4h0M580.4 295.2h0M510.2 386.7h0M491.7 385.4h0M474.5 394.0h0M524.7 353.3h0M478.4 404.1h0M497.5 421.3h0M486.6 381.0h0M576.5 294.0h0M491.7 404.8h0M473.9 461.6h0M476.1 391.0h0M495.5 391.2h0M480.4 433.9h0M616.3 275.0h0M585.6 303.4h0M496.2 379.2h0M500.9 407.4h0M499.3 369.2h0M545.5 326.5h0M582.3 254.9h0M582.0 332.3h0M487.7 442.0h0M474.3 370.2h0M497.3 422.6h0M475.0 360.5h0M577.8 314.7h0M512.8 381.2h0M594.5 277.6h0M497.8 403.9h0M470.4 359.7h0M484.8 391.7h0M466.1 408.1h0M505.5 347.3h0M544.6 408.0h0M573.9 300.4h0M471.1 396.3h0M517.0 402.4h0M482.7 454.8h0M561.4 265.1h0M535.7 357.4h0M469.4 448.7h0M615.5 285.6h0M578.1 291.3h0M483.9 368.2h0M502.7 384.7h0M493.2 394.8h0M527.3 378.9h0M529.9 394.4h0M480.0 456.0h0M459.0 443.1h0M475.5 399.2h0M538.0 379.5h0M490.3 430.6h0M497.8 391.0h0M579.4 308.7h0M479.1 368.6h0M534.6 351.9h0M566.0 370.3h0M464.0 433.9h0M466.4 414.3h0M556.1 373.9h0M587.0 288.8h0M481.7 440.8h0M493.4 369.0h0M483.9 392.2h0M520.2 340.2h0M516.4 333.9h0M481.6 410.1h0M475.6 366.1h0M499.4 364.7h0M499.2 400.7h0M454.8 419.1h0M572.0 363.1h0M505.4 432.0h0M492.8 419.6h0M500.9 428.7h0M598.6 301.1h0M505.6 406.1h0M472.2 411.0h0M495.7 397.0h0M518.8 344.2h0M524.7 379.3h0M546.3 355.6h0M539.5 319.9h0M488.6 419.9h0M490.3 376.1h0M481.1 398.5h0M484.9 417.4h0M488.9 409.7h0M481.0 472.4h0M469.5 415.0h0M464.5 463.3h0M458.7 437.1h0M477.6 419.2h0M539.5 317.7h0M504.0 387.5h0M485.4 351.1h0M479.1 408.1h0M476.5 410.0h0M524.4 372.6h0M460.9 414.0h0M512.2 413.6h0M537.8 408.4h0M529.9 310.5h0M479.0 407.6h0M604.5 285.4h0M521.9 354.6h0M553.9 363.7h0M494.9 410.4h0M489.5 381.7h0M616.1 324.7h0M559.1 326.3h0M539.8 371.0h0M490.2 332.6h0M584.6 266.2h0M508.9 330.6h0M470.7 386.4h0M472.0 460.8h0M488.1 379.5h0M548.6 388.1h0M483.4 400.3h0M490.5 329.3h0M531.9 390.6h0M583.6 282.5h0M472.6 437.0h0M475.6 321.4h0M526.3 328.9h0M474.1 428.4h0M516.1 353.3h0M461.1 473.4h0M572.3 304.8h0M474.7 396.1h0M519.5 352.8h0M477.8 462.2h0M487.4 389.3h0M484.2 465.0h0M589.0 352.4h0M524.9 374.7h0M557.4 324.2h0M485.4 364.7h0M557.9 400.8h0M505.9 356.9h0M518.4 340.8h0M501.1 381.6h0M477.6 449.8h0M501.1 367.6h0M534.0 354.3h0M503.3 385.5h0M482.3 396.3h0M491.2 465.1h0M558.3 357.7h0M526.7 373.8h0M538.6 373.8h0M455.9 419.2h0M472.5 377.0h0M556.3 373.8h0M508.8 392.9h0M455.6 392.1h0M482.1 396.3h0M495.8 402.7h0M505.9 326.0h0M578.6 283.9h0M476.0 450.5h0M542.6 410.0h0M477.5 436.2h0M475.3 419.6h0M476.2 403.6h0M519.9 383.8h0M529.8 361.7h0M464.8 422.1h0M485.9 396.8h0M486.4 340.7h0M516.0 397.4h0M484.3 355.4h0M520.0 381.9h0M496.7 401.1h0M548.6 351.4h0M476.8 373.6h0M495.9 399.0h0M473.0 444.5h0M548.4 345.8h0M520.6 373.2h0M470.6 422.6h0M478.3 444.1h0M509.7 319.3h0M505.0 344.0h0M468.8 388.3h0M489.2 397.6h0M484.3 413.9h0M476.9 439.6h0M526.7 346.9h0M519.9 373.2h0M481.2 461.6h0M492.1 392.1h0M611.8 252.6h0M473.6 383.9h0M561.9 315.3h0M567.5 320.6h0M471.9 374.4h0M570.1 302.8h0M561.3 331.3h0M571.2 340.1h0M545.7 306.1h0M472.2 449.3h0M462.4 348.7h0M495.2 465.3h0M596.1 361.5h0M547.4 382.7h0M530.8 391.3h0M497.4 392.6h0M521.2 360.6h0M520.0 341.2h0M507.7 363.0h0M490.3 359.9h0M563.8 346.5h0M502.1 386.4h0M505.5 365.4h0M573.0 346.6h0M512.3 384.0h0M582.0 277.1h0M482.6 393.2h0M555.7 375.6h0M560.7 298.3h0M460.7 413.5h0M523.5 307.1h0M485.1 412.4h0M471.4 417.0h0M501.3 420.8h0M517.5 320.2h0M508.0 415.3h0M477.1 354.1h0M496.7 418.0h0M481.0 415.8h0M504.9 369.8h0M503.9 351.7h0M584.7 300.1h0M556.7 327.5h0M555.2 325.4h0M492.3 351.1h0M485.5 454.5h0M532.5 326.6h0M547.5 332.6h0M521.1 358.7h0M507.4 352.1h0M534.9 296.8h0M591.3 282.4h0M502.7 421.8h0M503.6 420.9h0M470.9 414.0h0M513.7 406.2h0M469.2 450.4h0M491.8 378.5h0M522.1 345.8h0M518.5 334.7h0M497.2 412.3h0M468.4 427.0h0M501.3 406.0h0M496.3 421.8h0M507.5 398.9h0M477.6 383.5h0M552.7 352.8h0M598.1 276.3h0M484.0 421.1h0M519.0 410.0h0M481.5 433.7h0M488.3 435.6h0M474.6 393.2h0M494.7 358.0h0M474.4 423.7h0M494.0 403.0h0M527.2 351.3h0M484.3 441.6h0M622.1 264.7h0M511.8 404.1h0M460.9 397.7h0M489.3 370.3h0M522.9 310.4h0M622.1 326.6h0M482.2 416.3h0M497.6 394.2h0M466.8 408.7h0M472.8 419.4h0M510.6 350.8h0M490.9 375.9h0M484.9 448.1h0M540.2 316.0h0M514.0 333.8h0M512.9 348.6h0M578.1 315.7h0M487.1 416.3h0M483.7 388.3h0M501.2 392.0h0M581.5 305.4h0M482.9 407.9h0M506.0 425.7h0M476.7 445.7h0M569.9 310.2h0M490.3 425.8h0M533.2 349.6h0M622.5 300.3h0M473.4 438.4h0M492.1 382.9h0M612.2 321.1h0M555.0 326.2h0M506.8 365.7h0M476.1 388.6h0M476.1 432.6h0M533.0 391.8h0M510.6 369.3h0M461.7 459.0h0M483.8 418.5h0M493.8 386.4h0M548.4 297.4h0M516.4 399.6h0M476.6 446.7h0M463.7 401.0h0M468.6 404.7h0M487.4 427.7h0M597.3 282.5h0M472.0 385.4h0M471.3 412.7h0M593.3 291.5h0M582.9 295.7h0M494.5 355.6h0M510.7 387.4h0M587.9 318.5h0M506.0 376.9h0M506.2 412.2h0M532.5 366.6h0M529.2 330.5h0M456.8 414.0h0M544.6 358.2h0M493.1 389.6h0M572.0 343.5h0M510.8 411.0h0M537.0 316.9h0M491.5 360.4h0M493.7 386.5h0M570.5 330.8h0M479.6 438.6h0M473.0 412.7h0M493.1 417.7h0M484.9 378.2h0M495.6 374.6h0M582.2 331.9h0M511.9 364.3h0M585.4 269.1h0M476.5 475.3h0M529.9 322.8h0M461.0 401.3h0M534.7 365.1h0M465.5 399.3h0M502.1 366.9h0M515.4 357.6h0M468.0 399.3h0M481.2 366.4h0M507.5 334.3h0M486.4 349.8h0M470.0 400.4h0M506.3 370.2h0M465.6 430.7h0M535.0 357.7h0M480.3 369.0h0M490.9 402.4h0M547.0 315.4h0M604.0 281.1h0M520.9 349.8h0M568.9 374.3h0M490.0 360.9h0M529.4 344.1h0M488.4 412.1h0M481.2 407.7h0M551.6 348.7h0M515.8 373.9h0M480.8 413.4h0M504.1 416.1h0M576.4 276.0h0M505.5 400.6h0M591.9 297.0h0M514.3 368.7h0M567.4 267.6h0M489.4 423.2h0M501.2 380.4h0M553.9 309.9h0M483.2 368.7h0M470.6 419.4h0M489.3 418.3h0M456.5 432.5h0M451.9 429.9h0M485.0 386.5h0M565.7 318.8h0M520.1 385.0h0M501.7 303.1h0M566.1 333.9h0M526.1 397.5h0M505.1 391.4h0M592.8 333.9h0M537.4 333.4h0M496.1 427.3h0M501.5 408.9h0M552.1 291.8h0M592.1 346.4h0M495.1 378.1h0M541.8 344.1h0M474.6 363.2h0M497.1 354.6h0M599.7 288.1h0M478.9 401.0h0M512.4 362.5h0M516.5 338.4h0M534.8 360.7h0M493.6 428.0h0M520.4 338.0h0M539.0 339.0h0M464.4 393.8h0M534.7 320.8h0M488.7 394.6h0M465.8 445.5h0M505.8 354.3h0M434.3 503.3h0M428.6 463.7h0M488.7 400.0h0M497.0 370.0h0M428.5 476.1h0M487.5 424.1h0M457.5 440.5h0M415.4 481.8h0M426.4 408.3h0M421.1 480.7h0M471.7 406.4h0M396.4 502.6h0M479.8 412.8h0M399.8 477.6h0M396.3 496.8h0M444.9 440.7h0M415.1 412.7h0M487.7 377.2h0M481.1 394.8h0M446.9 458.2h0M425.1 443.8h0M430.4 488.9h0M420.2 479.9h0M453.2 503.8h0M440.9 406.6h0M420.3 445.0h0M446.2 455.4h0M393.9 508.0h0M445.4 440.8h0M435.9 413.0h0M456.1 434.9h0M455.9 453.6h0M464.0 409.6h0M448.9 421.6h0M425.5 413.9h0M427.5 463.7h0M451.2 466.8h0M473.5 367.0h0M449.0 454.0h0M489.1 415.8h0M440.5 442.0h0M476.5 449.6h0M480.5 374.3h0M446.2 480.0h0M481.6 478.6h0M414.7 418.3h0M462.3 434.3h0M422.6 503.0h0M462.0 453.9h0M436.8 424.3h0M425.3 462.6h0M478.7 454.5h0M442.5 394.8h0M433.5 463.9h0M449.0 485.6h0M435.8 435.2h0M430.5 402.4h0M388.5 483.2h0M447.7 424.2h0M405.8 427.2h0M446.2 427.7h0M440.5 456.5h0M434.4 460.4h0M441.1 398.2h0M461.0 445.2h0M433.4 448.0h0M428.7 436.0h0M451.3 479.1h0M447.9 472.3h0M435.6 463.1h0M422.3 444.7h0M430.8 404.4h0M446.0 411.8h0M428.7 396.0h0M419.0 490.9h0M393.0 443.6h0M469.5 426.9h0M439.4 421.1h0M467.4 395.3h0M442.2 459.1h0M412.2 467.8h0M472.7 465.5h0M429.8 443.1h0M477.8 427.1h0M428.0 421.7h0M432.9 418.9h0M494.9 428.0h0M482.0 350.2h0M495.5 379.9h0M452.1 458.4h0M449.8 452.6h0M440.8 477.0h0M424.1 448.9h0M454.7 475.8h0M507.8 332.7h0M445.3 409.8h0M407.8 455.4h0M493.8 436.9h0M421.9 483.1h0M448.8 428.0h0M402.5 485.6h0M417.4 451.7h0M424.9 449.6h0M476.0 423.3h0M411.1 480.9h0M440.3 417.3h0M409.0 473.1h0M477.0 412.3h0M442.9 431.4h0M454.6 406.0h0M452.5 493.4h0M444.6 387.0h0M406.9 463.1h0M432.0 453.6h0M479.4 386.8h0M429.8 481.3h0M486.9 424.8h0M436.9 436.3h0M400.7 497.2h0M441.7 433.3h0M432.7 450.4h0M436.9 489.0h0M434.6 416.9h0M442.3 422.3h0M462.4 371.3h0M396.6 472.9h0M410.3 428.4h0M405.7 502.6h0M411.4 447.9h0M468.6 339.7h0M423.6 492.9h0M431.8 462.6h0M429.7 435.1h0M442.9 445.1h0M385.8 476.7h0M449.6 481.4h0M433.6 429.3h0M433.4 474.7h0M435.8 475.6h0M442.8 480.4h0M473.8 491.0h0M379.2 442.7h0M499.2 381.5h0M475.8 401.4h0M402.6 447.4h0M432.5 432.3h0M448.0 473.2h0M441.5 477.3h0M488.5 384.2h0M446.8 403.7h0M462.6 421.4h0M419.9 488.4h0M435.7 492.7h0M450.0 398.0h0M448.3 411.0h0M433.2 439.3h0M413.3 430.5h0M424.6 467.7h0M438.6 460.1h0M440.4 460.5h0M458.3 412.6h0M417.6 468.3h0M491.0 440.9h0M430.3 404.3h0M427.9 492.3h0M438.1 372.0h0M444.8 440.4h0M428.1 432.3h0M450.0 403.6h0M445.4 442.5h0M381.6 365.4h0M530.3 511.3h0M419.8 561.6h0M378.4 546.5h0M350.3 518.8h0M339.5 521.3h0M271.1 483.6h0M299.9 482.3h0M229.7 471.0h0M235.1 458.4h0M697.7 239.6h0M649.1 277.4h0M645.5 345.3h0M623.9 378.0h0M616.7 385.5h0M602.3 403.1h0M584.3 423.2h0M548.3 259.8h0M537.5 267.3h0M328.7 468.5h0M350.3 476.0h0M353.9 478.6h0M375.5 506.2h0M393.5 503.7h0M400.7 511.3h0M411.5 508.7h0M368.3 473.5h0M386.3 463.5h0M393.5 445.9h0M371.9 455.9h0M389.9 423.2h0M404.3 433.3h0M566.3 445.9h0M533.9 443.4h0M508.7 466.0h0M505.1 481.1h0M631.1 274.8h0M616.7 259.8h0M609.5 259.8h0M598.7 264.8h0M591.5 272.3h0" stroke="#000" stroke-width="5.3" stroke-linecap="round" fill="none"/>
<line x1="230.00" y1="656.00" x2="697.00" y2="193.00" stroke="#4050a0" stroke-width="2.50" />
<rect x="199.70" y="215.00" width="4.60" height="4.00" fill="#222" />
<rect x="199.70" y="340.75" width="4.60" height="4.00" fill="#222" />
<rect x="199.70" y="466.50" width="4.60" height="4.00" fill="#222" />
<rect x="199.70" y="592.25" width="4.60" height="4.00" fill="#222" />
<rect x="283.60" y="681.30" width="3.80" height="2.60" fill="#222" />
<rect x="427.60" y="681.30" width="3.80" height="2.60" fill="#222" />
<rect x="571.60" y="681.30" width="3.80" height="2.60" fill="#222" />
<rect x="715.60" y="681.30" width="3.80" height="2.60" fill="#222" />
<text x="187.30" y="227.40" font-size="34.20" text-anchor="end" fill="#1a1a1a" >100</text>
<text x="181.30" y="353.15" font-size="34.20" text-anchor="end" fill="#1a1a1a" >50</text>
<text x="175.90" y="478.90" font-size="34.20" text-anchor="end" fill="#1a1a1a" >0</text>
<text x="187.30" y="604.65" font-size="34.20" text-anchor="end" fill="#1a1a1a" >−50</text>
<text x="283.75" y="727.00" font-size="34.20" text-anchor="middle" fill="#1a1a1a" >−40</text>
<text x="417.20" y="727.00" font-size="34.20" text-anchor="middle" fill="#1a1a1a" >0</text>
<text x="567.00" y="727.00" font-size="34.20" text-anchor="middle" fill="#1a1a1a" >40</text>
<text x="711.00" y="727.00" font-size="34.20" text-anchor="middle" fill="#1a1a1a" >80</text>
<text x="315.8" y="770" font-size="33.8" fill="#000" >Lgr5<tspan font-size="19.5" dy="-13">hi</tspan><tspan dy="13"> Δ Methylation</tspan></text>
<text x="119.60" y="409.00" font-size="34.20" text-anchor="middle" fill="#000" transform="rotate(-90 119.60 409.00)" >Crypts Δ Methylation</text>
<text x="231.2" y="210.8" font-size="23.2" fill="#111">R<tspan font-size="13.5" dy="-9">2</tspan><tspan dy="9"> = 0.77</tspan></text>
<text x="231.20" y="238.80" font-size="23.20" text-anchor="start" fill="#111" textLength="185.0" lengthAdjust="spacingAndGlyphs" >p-value &lt; 2.2e-16</text>
<text x="999.00" y="48.50" font-size="64.00" text-anchor="start" fill="#000" >b</text>
<text x="1412.00" y="100.50" font-size="40.70" text-anchor="middle" fill="#000" >CpG islands methylation</text>
<defs><clipPath id="cv1"><ellipse cx="1478.5" cy="341.1" rx="106.5" ry="103.1"/></clipPath><clipPath id="cv2"><ellipse cx="1501.1" cy="636.6" rx="139.4" ry="135.4"/></clipPath></defs>
<ellipse cx="1478.5" cy="341.1" rx="106.5" ry="103.1" fill="#c4df9c"/>
<ellipse cx="1422.25" cy="340.75" rx="148.5" ry="143.75" fill="#fed49b"/>
<ellipse cx="1422.25" cy="340.75" rx="148.5" ry="143.75" fill="#e1c76a" clip-path="url(#cv1)"/>
<ellipse cx="1422.25" cy="340.75" rx="148.5" ry="143.75" fill="none" stroke="#0a0a0a" stroke-width="1.3"/>
<ellipse cx="1478.5" cy="341.1" rx="106.5" ry="103.1" fill="none" stroke="#0a0a0a" stroke-width="1.3"/>
<ellipse cx="1501.1" cy="636.6" rx="139.4" ry="135.4" fill="#c4df9c"/>
<ellipse cx="1358.5" cy="636.9" rx="92.25" ry="89.4" fill="#fed49b"/>
<ellipse cx="1358.5" cy="636.9" rx="92.25" ry="89.4" fill="#e1c76a" clip-path="url(#cv2)"/>
<ellipse cx="1358.5" cy="636.9" rx="92.25" ry="89.4" fill="none" stroke="#0a0a0a" stroke-width="1.3"/>
<ellipse cx="1501.1" cy="636.6" rx="139.4" ry="135.4" fill="none" stroke="#0a0a0a" stroke-width="1.3"/>
<text x="1330.00" y="205.80" font-size="33.60" text-anchor="end" fill="#000" >Crypts</text>
<text x="1330.00" y="535.00" font-size="33.60" text-anchor="end" fill="#000" >Crypts</text>
<text x="1112.50" y="351.00" font-size="39.80" text-anchor="start" fill="#000" >Hyper</text>
<text x="1112.50" y="641.40" font-size="39.50" text-anchor="start" fill="#000" >Hypo</text>
<text x="1604.5" y="388.5" font-size="33.5" fill="#000">Lgr5<tspan font-size="19.5" dy="-13">hi</tspan></text>
<text x="1604.5" y="777" font-size="33.5" fill="#000">Lgr5<tspan font-size="19.5" dy="-13">hi</tspan></text>
<text x="1580.00" y="232.00" font-size="28.00" text-anchor="middle" fill="#000" >38</text>
<line x1="1577.50" y1="243.70" x2="1577.50" y2="341.20" stroke="#111" stroke-width="1.20" />
<text x="1333.80" y="345.50" font-size="28.00" text-anchor="middle" fill="#000" >805</text>
<text x="1482.50" y="345.50" font-size="28.00" text-anchor="middle" fill="#000" >768</text>
<text x="1475.00" y="381.00" font-size="20.30" text-anchor="middle" fill="#222" >p~0</text>
<text x="1320.00" y="637.50" font-size="28.00" text-anchor="middle" fill="#000" >10</text>
<text x="1408.80" y="637.50" font-size="28.00" text-anchor="middle" fill="#000" >7</text>
<text x="1550.80" y="637.50" font-size="28.00" text-anchor="middle" fill="#000" >32</text>
<text x="1367.50" y="663.00" font-size="20.00" text-anchor="start" fill="#222" textLength="125.0" lengthAdjust="spacingAndGlyphs" >p &lt; 3.237e-14</text>
<text x="0.00" y="970.00" font-size="64.00" text-anchor="start" fill="#000" >c</text>
<text x="485.70" y="1007.50" font-size="40.80" text-anchor="middle" fill="#000" >Dkk/Sfrp promoter methylation</text>
<line x1="173.50" y1="1065.00" x2="468.80" y2="1065.00" stroke="#000" stroke-width="3.00" />
<line x1="555.80" y1="1065.00" x2="834.50" y2="1065.00" stroke="#000" stroke-width="3.00" />
<path d="M165.5 1065.0 l10 -4.2 v8.4z M842.5 1065.0 l-10 -4.2 v8.4z" fill="#000"/>
<text x="477.50" y="1070.50" font-size="18.50" text-anchor="start" fill="#000" >2,478 bp</text>
<line x1="175.00" y1="1096.00" x2="175.00" y2="1107.00" stroke="#000" stroke-width="1.60" />
<line x1="202.31" y1="1096.00" x2="202.31" y2="1107.00" stroke="#000" stroke-width="1.60" />
<line x1="229.62" y1="1096.00" x2="229.62" y2="1107.00" stroke="#000" stroke-width="1.60" />
<line x1="256.93" y1="1096.00" x2="256.93" y2="1107.00" stroke="#000" stroke-width="1.60" />
<line x1="284.24" y1="1096.00" x2="284.24" y2="1107.00" stroke="#000" stroke-width="1.60" />
<line x1="311.55" y1="1096.00" x2="311.55" y2="1107.00" stroke="#000" stroke-width="1.60" />
<line x1="338.86" y1="1096.00" x2="338.86" y2="1107.00" stroke="#000" stroke-width="1.60" />
<line x1="366.17" y1="1096.00" x2="366.17" y2="1107.00" stroke="#000" stroke-width="1.60" />
<line x1="393.48" y1="1096.00" x2="393.48" y2="1107.00" stroke="#000" stroke-width="1.60" />
<line x1="420.79" y1="1096.00" x2="420.79" y2="1107.00" stroke="#000" stroke-width="1.60" />
<line x1="448.10" y1="1096.00" x2="448.10" y2="1107.00" stroke="#000" stroke-width="1.60" />
<line x1="475.41" y1="1096.00" x2="475.41" y2="1107.00" stroke="#000" stroke-width="1.60" />
<line x1="502.72" y1="1096.00" x2="502.72" y2="1107.00" stroke="#000" stroke-width="1.60" />
<line x1="530.03" y1="1096.00" x2="530.03" y2="1107.00" stroke="#000" stroke-width="1.60" />
<line x1="557.34" y1="1096.00" x2="557.34" y2="1107.00" stroke="#000" stroke-width="1.60" />
<line x1="584.65" y1="1096.00" x2="584.65" y2="1107.00" stroke="#000" stroke-width="1.60" />
<line x1="611.96" y1="1096.00" x2="611.96" y2="1107.00" stroke="#000" stroke-width="1.60" />
<line x1="639.27" y1="1096.00" x2="639.27" y2="1107.00" stroke="#000" stroke-width="1.60" />
<line x1="666.58" y1="1096.00" x2="666.58" y2="1107.00" stroke="#000" stroke-width="1.60" />
<line x1="693.89" y1="1096.00" x2="693.89" y2="1107.00" stroke="#000" stroke-width="1.60" />
<line x1="721.20" y1="1096.00" x2="721.20" y2="1107.00" stroke="#000" stroke-width="1.60" />
<line x1="748.51" y1="1096.00" x2="748.51" y2="1107.00" stroke="#000" stroke-width="1.60" />
<line x1="775.82" y1="1096.00" x2="775.82" y2="1107.00" stroke="#000" stroke-width="1.60" />
<line x1="803.13" y1="1096.00" x2="803.13" y2="1107.00" stroke="#000" stroke-width="1.60" />
<line x1="830.44" y1="1096.00" x2="830.44" y2="1107.00" stroke="#000" stroke-width="1.60" />
<text x="234.82" y="1091.80" font-size="11.05" text-anchor="middle" fill="#000" >131,748,400 bp</text>
<text x="344.06" y="1091.80" font-size="11.05" text-anchor="middle" fill="#000" >131,748,800 bp</text>
<text x="453.30" y="1091.80" font-size="11.05" text-anchor="middle" fill="#000" >131,749,200 bp</text>
<text x="562.54" y="1091.80" font-size="11.05" text-anchor="middle" fill="#000" >131,749,600 bp</text>
<text x="671.78" y="1091.80" font-size="11.05" text-anchor="middle" fill="#000" >131,750,000 bp</text>
<text x="781.02" y="1091.80" font-size="11.05" text-anchor="middle" fill="#000" >131,750,400 bp</text>
<rect x="165" y="1108.3" width="677.5" height="10.6" fill="#f9fbfe" stroke="#000" stroke-width="2"/>
<rect x="164.40" y="1121.50" width="10.08" height="42.75" fill="#ffffff" shape-rendering="crispEdges"/>
<rect x="174.18" y="1121.50" width="7.13" height="42.75" fill="#d2d3d5" shape-rendering="crispEdges"/>
<rect x="181.01" y="1121.50" width="20.80" height="42.75" fill="#ffffff" shape-rendering="crispEdges"/>
<rect x="201.51" y="1121.50" width="7.14" height="42.75" fill="#80a7da" shape-rendering="crispEdges"/>
<rect x="208.35" y="1121.50" width="20.81" height="42.75" fill="#ffffff" shape-rendering="crispEdges"/>
<rect x="228.86" y="1121.50" width="7.13" height="42.75" fill="#d2d3d5" shape-rendering="crispEdges"/>
<rect x="235.69" y="1121.50" width="7.14" height="42.75" fill="#ffffff" shape-rendering="crispEdges"/>
<rect x="242.53" y="1121.50" width="13.97" height="42.75" fill="#d2d3d5" shape-rendering="crispEdges"/>
<rect x="256.19" y="1121.50" width="7.13" height="42.75" fill="#4a78c2" shape-rendering="crispEdges"/>
<rect x="263.03" y="1121.50" width="13.97" height="42.75" fill="#d2d3d5" shape-rendering="crispEdges"/>
<rect x="276.70" y="1121.50" width="20.81" height="42.75" fill="#ffffff" shape-rendering="crispEdges"/>
<rect x="297.21" y="1121.50" width="7.13" height="42.75" fill="#9dbbe3" shape-rendering="crispEdges"/>
<rect x="304.04" y="1121.50" width="7.14" height="42.75" fill="#d2d3d5" shape-rendering="crispEdges"/>
<rect x="310.88" y="1121.50" width="20.80" height="42.75" fill="#ffffff" shape-rendering="crispEdges"/>
<rect x="331.38" y="1121.50" width="7.14" height="42.75" fill="#d0dff4" shape-rendering="crispEdges"/>
<rect x="338.22" y="1121.50" width="7.13" height="42.75" fill="#d2d3d5" shape-rendering="crispEdges"/>
<rect x="345.05" y="1121.50" width="7.13" height="42.75" fill="#ffffff" shape-rendering="crispEdges"/>
<rect x="351.88" y="1121.50" width="7.14" height="42.75" fill="#d2d3d5" shape-rendering="crispEdges"/>
<rect x="358.72" y="1121.50" width="20.80" height="42.75" fill="#ffffff" shape-rendering="crispEdges"/>
<rect x="379.23" y="1121.50" width="7.13" height="42.75" fill="#d2d3d5" shape-rendering="crispEdges"/>
<rect x="386.06" y="1121.50" width="7.13" height="42.75" fill="#4a78c2" shape-rendering="crispEdges"/>
<rect x="392.89" y="1121.50" width="7.14" height="42.75" fill="#e6eef9" shape-rendering="crispEdges"/>
<rect x="399.73" y="1121.50" width="7.13" height="42.75" fill="#b9cfed" shape-rendering="crispEdges"/>
<rect x="406.56" y="1121.50" width="7.13" height="42.75" fill="#ffffff" shape-rendering="crispEdges"/>
<rect x="413.40" y="1121.50" width="7.14" height="42.75" fill="#d0dff4" shape-rendering="crispEdges"/>
<rect x="420.24" y="1121.50" width="13.97" height="42.75" fill="#d2d3d5" shape-rendering="crispEdges"/>
<rect x="433.90" y="1121.50" width="7.14" height="42.75" fill="#ffffff" shape-rendering="crispEdges"/>
<rect x="440.74" y="1121.50" width="7.14" height="42.75" fill="#d0dff4" shape-rendering="crispEdges"/>
<rect x="447.58" y="1121.50" width="34.47" height="42.75" fill="#d2d3d5" shape-rendering="crispEdges"/>
<rect x="481.75" y="1121.50" width="7.14" height="42.75" fill="#80a7da" shape-rendering="crispEdges"/>
<rect x="488.59" y="1121.50" width="13.97" height="42.75" fill="#d2d3d5" shape-rendering="crispEdges"/>
<rect x="502.25" y="1121.50" width="13.97" height="42.75" fill="#ffffff" shape-rendering="crispEdges"/>
<rect x="515.92" y="1121.50" width="7.14" height="42.75" fill="#d2d3d5" shape-rendering="crispEdges"/>
<rect x="522.76" y="1121.50" width="7.14" height="42.75" fill="#ffffff" shape-rendering="crispEdges"/>
<rect x="529.60" y="1121.50" width="68.65" height="42.75" fill="#d2d3d5" shape-rendering="crispEdges"/>
<rect x="597.95" y="1121.50" width="7.13" height="42.75" fill="#ffffff" shape-rendering="crispEdges"/>
<rect x="604.78" y="1121.50" width="13.97" height="42.75" fill="#d2d3d5" shape-rendering="crispEdges"/>
<rect x="618.45" y="1121.50" width="13.97" height="42.75" fill="#ffffff" shape-rendering="crispEdges"/>
<rect x="632.12" y="1121.50" width="20.80" height="42.75" fill="#d2d3d5" shape-rendering="crispEdges"/>
<rect x="652.62" y="1121.50" width="7.14" height="42.75" fill="#ffffff" shape-rendering="crispEdges"/>
<rect x="659.46" y="1121.50" width="7.13" height="42.75" fill="#b9cfed" shape-rendering="crispEdges"/>
<rect x="666.29" y="1121.50" width="7.14" height="42.75" fill="#80a7da" shape-rendering="crispEdges"/>
<rect x="673.13" y="1121.50" width="7.14" height="42.75" fill="#ffffff" shape-rendering="crispEdges"/>
<rect x="679.97" y="1121.50" width="7.14" height="42.75" fill="#b9cfed" shape-rendering="crispEdges"/>
<rect x="686.80" y="1121.50" width="20.80" height="42.75" fill="#ffffff" shape-rendering="crispEdges"/>
<rect x="707.31" y="1121.50" width="7.13" height="42.75" fill="#d2d3d5" shape-rendering="crispEdges"/>
<rect x="714.14" y="1121.50" width="13.97" height="42.75" fill="#ffffff" shape-rendering="crispEdges"/>
<rect x="727.81" y="1121.50" width="7.13" height="42.75" fill="#9dbbe3" shape-rendering="crispEdges"/>
<rect x="734.64" y="1121.50" width="7.14" height="42.75" fill="#6b96d2" shape-rendering="crispEdges"/>
<rect x="741.48" y="1121.50" width="7.14" height="42.75" fill="#80a7da" shape-rendering="crispEdges"/>
<rect x="748.32" y="1121.50" width="7.13" height="42.75" fill="#ffffff" shape-rendering="crispEdges"/>
<rect x="755.15" y="1121.50" width="89.15" height="42.75" fill="#d2d3d5" shape-rendering="crispEdges"/>
<rect x="164.40" y="1163.95" width="10.08" height="42.75" fill="#ffffff" shape-rendering="crispEdges"/>
<rect x="174.18" y="1163.95" width="7.13" height="42.75" fill="#d2d3d5" shape-rendering="crispEdges"/>
<rect x="181.01" y="1163.95" width="13.97" height="42.75" fill="#ffffff" shape-rendering="crispEdges"/>
<rect x="194.68" y="1163.95" width="7.13" height="42.75" fill="#d0dff4" shape-rendering="crispEdges"/>
<rect x="201.51" y="1163.95" width="13.97" height="42.75" fill="#ffffff" shape-rendering="crispEdges"/>
<rect x="215.19" y="1163.95" width="7.14" height="42.75" fill="#6b96d2" shape-rendering="crispEdges"/>
<rect x="222.02" y="1163.95" width="7.14" height="42.75" fill="#ffffff" shape-rendering="crispEdges"/>
<rect x="228.86" y="1163.95" width="7.13" height="42.75" fill="#d2d3d5" shape-rendering="crispEdges"/>
<rect x="235.69" y="1163.95" width="7.14" height="42.75" fill="#80a7da" shape-rendering="crispEdges"/>
<rect x="242.53" y="1163.95" width="13.97" height="42.75" fill="#d2d3d5" shape-rendering="crispEdges"/>
<rect x="256.19" y="1163.95" width="7.13" height="42.75" fill="#4a78c2" shape-rendering="crispEdges"/>
<rect x="263.03" y="1163.95" width="20.80" height="42.75" fill="#d2d3d5" shape-rendering="crispEdges"/>
<rect x="283.53" y="1163.95" width="13.97" height="42.75" fill="#ffffff" shape-rendering="crispEdges"/>
<rect x="297.21" y="1163.95" width="7.13" height="42.75" fill="#4169b8" shape-rendering="crispEdges"/>
<rect x="304.04" y="1163.95" width="7.14" height="42.75" fill="#d2d3d5" shape-rendering="crispEdges"/>
<rect x="310.88" y="1163.95" width="27.64" height="42.75" fill="#ffffff" shape-rendering="crispEdges"/>
<rect x="338.22" y="1163.95" width="7.13" height="42.75" fill="#d2d3d5" shape-rendering="crispEdges"/>
<rect x="345.05" y="1163.95" width="7.13" height="42.75" fill="#ffffff" shape-rendering="crispEdges"/>
<rect x="351.88" y="1163.95" width="7.14" height="42.75" fill="#d2d3d5" shape-rendering="crispEdges"/>
<rect x="358.72" y="1163.95" width="20.80" height="42.75" fill="#ffffff" shape-rendering="crispEdges"/>
<rect x="379.23" y="1163.95" width="7.13" height="42.75" fill="#d2d3d5" shape-rendering="crispEdges"/>
<rect x="386.06" y="1163.95" width="7.13" height="42.75" fill="#9dbbe3" shape-rendering="crispEdges"/>
<rect x="392.89" y="1163.95" width="27.64" height="42.75" fill="#ffffff" shape-rendering="crispEdges"/>
<rect x="420.24" y="1163.95" width="13.97" height="42.75" fill="#d2d3d5" shape-rendering="crispEdges"/>
<rect x="433.90" y="1163.95" width="7.14" height="42.75" fill="#3b55a7" shape-rendering="crispEdges"/>
<rect x="440.74" y="1163.95" width="7.14" height="42.75" fill="#ffffff" shape-rendering="crispEdges"/>
<rect x="447.58" y="1163.95" width="34.47" height="42.75" fill="#d2d3d5" shape-rendering="crispEdges"/>
<rect x="481.75" y="1163.95" width="7.14" height="42.75" fill="#ffffff" shape-rendering="crispEdges"/>
<rect x="488.59" y="1163.95" width="13.97" height="42.75" fill="#d2d3d5" shape-rendering="crispEdges"/>
<rect x="502.25" y="1163.95" width="13.97" height="42.75" fill="#ffffff" shape-rendering="crispEdges"/>
<rect x="515.92" y="1163.95" width="7.14" height="42.75" fill="#d2d3d5" shape-rendering="crispEdges"/>
<rect x="522.76" y="1163.95" width="7.14" height="42.75" fill="#ffffff" shape-rendering="crispEdges"/>
<rect x="529.60" y="1163.95" width="54.98" height="42.75" fill="#d2d3d5" shape-rendering="crispEdges"/>
<rect x="584.27" y="1163.95" width="7.14" height="42.75" fill="#4169b8" shape-rendering="crispEdges"/>
<rect x="591.11" y="1163.95" width="7.14" height="42.75" fill="#d2d3d5" shape-rendering="crispEdges"/>
<rect x="597.95" y="1163.95" width="7.13" height="42.75" fill="#ffffff" shape-rendering="crispEdges"/>
<rect x="604.78" y="1163.95" width="13.97" height="42.75" fill="#d2d3d5" shape-rendering="crispEdges"/>
<rect x="618.45" y="1163.95" width="7.13" height="42.75" fill="#4a78c2" shape-rendering="crispEdges"/>
<rect x="625.28" y="1163.95" width="7.14" height="42.75" fill="#4169b8" shape-rendering="crispEdges"/>
<rect x="632.12" y="1163.95" width="20.80" height="42.75" fill="#d2d3d5" shape-rendering="crispEdges"/>
<rect x="652.62" y="1163.95" width="13.97" height="42.75" fill="#ffffff" shape-rendering="crispEdges"/>
<rect x="666.29" y="1163.95" width="7.14" height="42.75" fill="#6b96d2" shape-rendering="crispEdges"/>
<rect x="673.13" y="1163.95" width="7.14" height="42.75" fill="#ffffff" shape-rendering="crispEdges"/>
<rect x="679.97" y="1163.95" width="7.14" height="42.75" fill="#e6eef9" shape-rendering="crispEdges"/>
<rect x="686.80" y="1163.95" width="20.80" height="42.75" fill="#ffffff" shape-rendering="crispEdges"/>
<rect x="707.31" y="1163.95" width="7.13" height="42.75" fill="#d2d3d5" shape-rendering="crispEdges"/>
<rect x="714.14" y="1163.95" width="13.97" height="42.75" fill="#ffffff" shape-rendering="crispEdges"/>
<rect x="727.81" y="1163.95" width="7.13" height="42.75" fill="#6b96d2" shape-rendering="crispEdges"/>
<rect x="734.64" y="1163.95" width="7.14" height="42.75" fill="#9dbbe3" shape-rendering="crispEdges"/>
<rect x="741.48" y="1163.95" width="7.14" height="42.75" fill="#ffffff" shape-rendering="crispEdges"/>
<rect x="748.32" y="1163.95" width="7.13" height="42.75" fill="#d0dff4" shape-rendering="crispEdges"/>
<rect x="755.15" y="1163.95" width="41.31" height="42.75" fill="#d2d3d5" shape-rendering="crispEdges"/>
<rect x="796.16" y="1163.95" width="7.13" height="42.75" fill="#4a78c2" shape-rendering="crispEdges"/>
<rect x="803.00" y="1163.95" width="7.14" height="42.75" fill="#5785c9" shape-rendering="crispEdges"/>
<rect x="809.83" y="1163.95" width="34.47" height="42.75" fill="#d2d3d5" shape-rendering="crispEdges"/>
<rect x="164.40" y="1206.40" width="3.24" height="42.75" fill="#ffffff" shape-rendering="crispEdges"/>
<rect x="167.34" y="1206.40" width="13.97" height="42.75" fill="#d2d3d5" shape-rendering="crispEdges"/>
<rect x="181.01" y="1206.40" width="13.97" height="42.75" fill="#ffffff" shape-rendering="crispEdges"/>
<rect x="194.68" y="1206.40" width="7.13" height="42.75" fill="#9dbbe3" shape-rendering="crispEdges"/>
<rect x="201.51" y="1206.40" width="27.64" height="42.75" fill="#ffffff" shape-rendering="crispEdges"/>
<rect x="228.86" y="1206.40" width="7.13" height="42.75" fill="#d2d3d5" shape-rendering="crispEdges"/>
<rect x="235.69" y="1206.40" width="7.14" height="42.75" fill="#ffffff" shape-rendering="crispEdges"/>
<rect x="242.53" y="1206.40" width="13.97" height="42.75" fill="#d2d3d5" shape-rendering="crispEdges"/>
<rect x="256.19" y="1206.40" width="7.13" height="42.75" fill="#ffffff" shape-rendering="crispEdges"/>
<rect x="263.03" y="1206.40" width="13.97" height="42.75" fill="#d2d3d5" shape-rendering="crispEdges"/>
<rect x="276.70" y="1206.40" width="13.97" height="42.75" fill="#ffffff" shape-rendering="crispEdges"/>
<rect x="290.37" y="1206.40" width="7.14" height="42.75" fill="#9dbbe3" shape-rendering="crispEdges"/>
<rect x="297.21" y="1206.40" width="7.13" height="42.75" fill="#ffffff" shape-rendering="crispEdges"/>
<rect x="304.04" y="1206.40" width="7.14" height="42.75" fill="#d2d3d5" shape-rendering="crispEdges"/>
<rect x="310.88" y="1206.40" width="7.14" height="42.75" fill="#ffffff" shape-rendering="crispEdges"/>
<rect x="317.71" y="1206.40" width="7.13" height="42.75" fill="#80a7da" shape-rendering="crispEdges"/>
<rect x="324.55" y="1206.40" width="7.13" height="42.75" fill="#ffffff" shape-rendering="crispEdges"/>
<rect x="331.38" y="1206.40" width="7.14" height="42.75" fill="#b9cfed" shape-rendering="crispEdges"/>
<rect x="338.22" y="1206.40" width="7.13" height="42.75" fill="#d2d3d5" shape-rendering="crispEdges"/>
<rect x="345.05" y="1206.40" width="7.13" height="42.75" fill="#ffffff" shape-rendering="crispEdges"/>
<rect x="351.88" y="1206.40" width="7.14" height="42.75" fill="#d2d3d5" shape-rendering="crispEdges"/>
<rect x="358.72" y="1206.40" width="20.80" height="42.75" fill="#ffffff" shape-rendering="crispEdges"/>
<rect x="379.23" y="1206.40" width="7.13" height="42.75" fill="#d2d3d5" shape-rendering="crispEdges"/>
<rect x="386.06" y="1206.40" width="34.48" height="42.75" fill="#ffffff" shape-rendering="crispEdges"/>
<rect x="420.24" y="1206.40" width="13.97" height="42.75" fill="#d2d3d5" shape-rendering="crispEdges"/>
<rect x="433.90" y="1206.40" width="13.97" height="42.75" fill="#ffffff" shape-rendering="crispEdges"/>
<rect x="447.58" y="1206.40" width="34.47" height="42.75" fill="#d2d3d5" shape-rendering="crispEdges"/>
<rect x="481.75" y="1206.40" width="7.14" height="42.75" fill="#ffffff" shape-rendering="crispEdges"/>
<rect x="488.59" y="1206.40" width="13.97" height="42.75" fill="#d2d3d5" shape-rendering="crispEdges"/>
<rect x="502.25" y="1206.40" width="7.14" height="42.75" fill="#6b96d2" shape-rendering="crispEdges"/>
<rect x="509.09" y="1206.40" width="7.13" height="42.75" fill="#9dbbe3" shape-rendering="crispEdges"/>
<rect x="515.92" y="1206.40" width="7.14" height="42.75" fill="#d2d3d5" shape-rendering="crispEdges"/>
<rect x="522.76" y="1206.40" width="7.14" height="42.75" fill="#ffffff" shape-rendering="crispEdges"/>
<rect x="529.60" y="1206.40" width="54.98" height="42.75" fill="#d2d3d5" shape-rendering="crispEdges"/>
<rect x="584.27" y="1206.40" width="7.14" height="42.75" fill="#4169b8" shape-rendering="crispEdges"/>
<rect x="591.11" y="1206.40" width="7.14" height="42.75" fill="#d2d3d5" shape-rendering="crispEdges"/>
<rect x="597.95" y="1206.40" width="7.13" height="42.75" fill="#ffffff" shape-rendering="crispEdges"/>
<rect x="604.78" y="1206.40" width="13.97" height="42.75" fill="#d2d3d5" shape-rendering="crispEdges"/>
<rect x="618.45" y="1206.40" width="7.13" height="42.75" fill="#9dbbe3" shape-rendering="crispEdges"/>
<rect x="625.28" y="1206.40" width="7.14" height="42.75" fill="#ffffff" shape-rendering="crispEdges"/>
<rect x="632.12" y="1206.40" width="20.80" height="42.75" fill="#d2d3d5" shape-rendering="crispEdges"/>
<rect x="652.62" y="1206.40" width="7.14" height="42.75" fill="#ffffff" shape-rendering="crispEdges"/>
<rect x="659.46" y="1206.40" width="7.13" height="42.75" fill="#b9cfed" shape-rendering="crispEdges"/>
<rect x="666.29" y="1206.40" width="20.81" height="42.75" fill="#ffffff" shape-rendering="crispEdges"/>
<rect x="686.80" y="1206.40" width="13.97" height="42.75" fill="#4169b8" shape-rendering="crispEdges"/>
<rect x="700.47" y="1206.40" width="7.14" height="42.75" fill="#ffffff" shape-rendering="crispEdges"/>
<rect x="707.31" y="1206.40" width="7.13" height="42.75" fill="#d2d3d5" shape-rendering="crispEdges"/>
<rect x="714.14" y="1206.40" width="20.80" height="42.75" fill="#ffffff" shape-rendering="crispEdges"/>
<rect x="734.64" y="1206.40" width="7.14" height="42.75" fill="#4169b8" shape-rendering="crispEdges"/>
<rect x="741.48" y="1206.40" width="13.97" height="42.75" fill="#ffffff" shape-rendering="crispEdges"/>
<rect x="755.15" y="1206.40" width="89.15" height="42.75" fill="#d2d3d5" shape-rendering="crispEdges"/>
<rect x="164.40" y="1248.85" width="3.24" height="42.75" fill="#d2d3d5" shape-rendering="crispEdges"/>
<rect x="167.34" y="1248.85" width="7.14" height="42.75" fill="#ffffff" shape-rendering="crispEdges"/>
<rect x="174.18" y="1248.85" width="7.13" height="42.75" fill="#d2d3d5" shape-rendering="crispEdges"/>
<rect x="181.01" y="1248.85" width="7.14" height="42.75" fill="#ffffff" shape-rendering="crispEdges"/>
<rect x="187.84" y="1248.85" width="13.97" height="42.75" fill="#4169b8" shape-rendering="crispEdges"/>
<rect x="201.51" y="1248.85" width="13.97" height="42.75" fill="#ffffff" shape-rendering="crispEdges"/>
<rect x="215.19" y="1248.85" width="13.97" height="42.75" fill="#4169b8" shape-rendering="crispEdges"/>
<rect x="228.86" y="1248.85" width="7.13" height="42.75" fill="#d2d3d5" shape-rendering="crispEdges"/>
<rect x="235.69" y="1248.85" width="7.14" height="42.75" fill="#ffffff" shape-rendering="crispEdges"/>
<rect x="242.53" y="1248.85" width="13.97" height="42.75" fill="#d2d3d5" shape-rendering="crispEdges"/>
<rect x="256.19" y="1248.85" width="7.13" height="42.75" fill="#ffffff" shape-rendering="crispEdges"/>
<rect x="263.03" y="1248.85" width="13.97" height="42.75" fill="#d2d3d5" shape-rendering="crispEdges"/>
<rect x="276.70" y="1248.85" width="7.13" height="42.75" fill="#ffffff" shape-rendering="crispEdges"/>
<rect x="283.53" y="1248.85" width="7.14" height="42.75" fill="#6b96d2" shape-rendering="crispEdges"/>
<rect x="290.37" y="1248.85" width="7.14" height="42.75" fill="#4169b8" shape-rendering="crispEdges"/>
<rect x="297.21" y="1248.85" width="7.13" height="42.75" fill="#ffffff" shape-rendering="crispEdges"/>
<rect x="304.04" y="1248.85" width="7.14" height="42.75" fill="#d2d3d5" shape-rendering="crispEdges"/>
<rect x="310.88" y="1248.85" width="20.80" height="42.75" fill="#ffffff" shape-rendering="crispEdges"/>
<rect x="331.38" y="1248.85" width="7.14" height="42.75" fill="#e6eef9" shape-rendering="crispEdges"/>
<rect x="338.22" y="1248.85" width="7.13" height="42.75" fill="#d2d3d5" shape-rendering="crispEdges"/>
<rect x="345.05" y="1248.85" width="7.13" height="42.75" fill="#d0dff4" shape-rendering="crispEdges"/>
<rect x="351.88" y="1248.85" width="7.14" height="42.75" fill="#d2d3d5" shape-rendering="crispEdges"/>
<rect x="358.72" y="1248.85" width="7.13" height="42.75" fill="#80a7da" shape-rendering="crispEdges"/>
<rect x="365.56" y="1248.85" width="13.97" height="42.75" fill="#ffffff" shape-rendering="crispEdges"/>
<rect x="379.23" y="1248.85" width="7.13" height="42.75" fill="#d2d3d5" shape-rendering="crispEdges"/>
<rect x="386.06" y="1248.85" width="7.13" height="42.75" fill="#9dbbe3" shape-rendering="crispEdges"/>
<rect x="392.89" y="1248.85" width="7.14" height="42.75" fill="#d0dff4" shape-rendering="crispEdges"/>
<rect x="399.73" y="1248.85" width="7.13" height="42.75" fill="#6b96d2" shape-rendering="crispEdges"/>
<rect x="406.56" y="1248.85" width="7.13" height="42.75" fill="#4a78c2" shape-rendering="crispEdges"/>
<rect x="413.40" y="1248.85" width="7.14" height="42.75" fill="#6b96d2" shape-rendering="crispEdges"/>
<rect x="420.24" y="1248.85" width="13.97" height="42.75" fill="#d2d3d5" shape-rendering="crispEdges"/>
<rect x="433.90" y="1248.85" width="7.14" height="42.75" fill="#ffffff" shape-rendering="crispEdges"/>
<rect x="440.74" y="1248.85" width="7.14" height="42.75" fill="#4169b8" shape-rendering="crispEdges"/>
<rect x="447.58" y="1248.85" width="34.47" height="42.75" fill="#d2d3d5" shape-rendering="crispEdges"/>
<rect x="481.75" y="1248.85" width="7.14" height="42.75" fill="#ffffff" shape-rendering="crispEdges"/>
<rect x="488.59" y="1248.85" width="13.97" height="42.75" fill="#d2d3d5" shape-rendering="crispEdges"/>
<rect x="502.25" y="1248.85" width="13.97" height="42.75" fill="#ffffff" shape-rendering="crispEdges"/>
<rect x="515.92" y="1248.85" width="7.14" height="42.75" fill="#d2d3d5" shape-rendering="crispEdges"/>
<rect x="522.76" y="1248.85" width="7.14" height="42.75" fill="#9dbbe3" shape-rendering="crispEdges"/>
<rect x="529.60" y="1248.85" width="54.98" height="42.75" fill="#d2d3d5" shape-rendering="crispEdges"/>
<rect x="584.27" y="1248.85" width="7.14" height="42.75" fill="#4169b8" shape-rendering="crispEdges"/>
<rect x="591.11" y="1248.85" width="7.14" height="42.75" fill="#d2d3d5" shape-rendering="crispEdges"/>
<rect x="597.95" y="1248.85" width="7.13" height="42.75" fill="#9dbbe3" shape-rendering="crispEdges"/>
<rect x="604.78" y="1248.85" width="13.97" height="42.75" fill="#d2d3d5" shape-rendering="crispEdges"/>
<rect x="618.45" y="1248.85" width="7.13" height="42.75" fill="#80a7da" shape-rendering="crispEdges"/>
<rect x="625.28" y="1248.85" width="7.14" height="42.75" fill="#4169b8" shape-rendering="crispEdges"/>
<rect x="632.12" y="1248.85" width="20.80" height="42.75" fill="#d2d3d5" shape-rendering="crispEdges"/>
<rect x="652.62" y="1248.85" width="7.14" height="42.75" fill="#ffffff" shape-rendering="crispEdges"/>
<rect x="659.46" y="1248.85" width="7.13" height="42.75" fill="#4a78c2" shape-rendering="crispEdges"/>
<rect x="666.29" y="1248.85" width="13.97" height="42.75" fill="#4169b8" shape-rendering="crispEdges"/>
<rect x="679.97" y="1248.85" width="7.14" height="42.75" fill="#5785c9" shape-rendering="crispEdges"/>
<rect x="686.80" y="1248.85" width="13.97" height="42.75" fill="#4169b8" shape-rendering="crispEdges"/>
<rect x="700.47" y="1248.85" width="7.14" height="42.75" fill="#9dbbe3" shape-rendering="crispEdges"/>
<rect x="707.31" y="1248.85" width="7.13" height="42.75" fill="#d2d3d5" shape-rendering="crispEdges"/>
<rect x="714.14" y="1248.85" width="7.14" height="42.75" fill="#9dbbe3" shape-rendering="crispEdges"/>
<rect x="720.98" y="1248.85" width="7.14" height="42.75" fill="#b9cfed" shape-rendering="crispEdges"/>
<rect x="727.81" y="1248.85" width="27.64" height="42.75" fill="#4169b8" shape-rendering="crispEdges"/>
<rect x="755.15" y="1248.85" width="89.15" height="42.75" fill="#d2d3d5" shape-rendering="crispEdges"/>
<rect x="164.40" y="1291.30" width="10.08" height="42.75" fill="#ffffff" shape-rendering="crispEdges"/>
<rect x="174.18" y="1291.30" width="7.13" height="42.75" fill="#d2d3d5" shape-rendering="crispEdges"/>
<rect x="181.01" y="1291.30" width="7.14" height="42.75" fill="#ffffff" shape-rendering="crispEdges"/>
<rect x="187.84" y="1291.30" width="13.97" height="42.75" fill="#4169b8" shape-rendering="crispEdges"/>
<rect x="201.51" y="1291.30" width="7.14" height="42.75" fill="#9dbbe3" shape-rendering="crispEdges"/>
<rect x="208.35" y="1291.30" width="7.14" height="42.75" fill="#6b96d2" shape-rendering="crispEdges"/>
<rect x="215.19" y="1291.30" width="7.14" height="42.75" fill="#4169b8" shape-rendering="crispEdges"/>
<rect x="222.02" y="1291.30" width="7.14" height="42.75" fill="#6b96d2" shape-rendering="crispEdges"/>
<rect x="228.86" y="1291.30" width="7.13" height="42.75" fill="#d2d3d5" shape-rendering="crispEdges"/>
<rect x="235.69" y="1291.30" width="7.14" height="42.75" fill="#4a78c2" shape-rendering="crispEdges"/>
<rect x="242.53" y="1291.30" width="13.97" height="42.75" fill="#d2d3d5" shape-rendering="crispEdges"/>
<rect x="256.19" y="1291.30" width="7.13" height="42.75" fill="#ffffff" shape-rendering="crispEdges"/>
<rect x="263.03" y="1291.30" width="13.97" height="42.75" fill="#d2d3d5" shape-rendering="crispEdges"/>
<rect x="276.70" y="1291.30" width="7.13" height="42.75" fill="#d0dff4" shape-rendering="crispEdges"/>
<rect x="283.53" y="1291.30" width="7.14" height="42.75" fill="#9dbbe3" shape-rendering="crispEdges"/>
<rect x="290.37" y="1291.30" width="7.14" height="42.75" fill="#4a78c2" shape-rendering="crispEdges"/>
<rect x="297.21" y="1291.30" width="7.13" height="42.75" fill="#9dbbe3" shape-rendering="crispEdges"/>
<rect x="304.04" y="1291.30" width="7.14" height="42.75" fill="#d2d3d5" shape-rendering="crispEdges"/>
<rect x="310.88" y="1291.30" width="7.14" height="42.75" fill="#d0dff4" shape-rendering="crispEdges"/>
<rect x="317.71" y="1291.30" width="20.80" height="42.75" fill="#ffffff" shape-rendering="crispEdges"/>
<rect x="338.22" y="1291.30" width="7.13" height="42.75" fill="#d2d3d5" shape-rendering="crispEdges"/>
<rect x="345.05" y="1291.30" width="7.13" height="42.75" fill="#d0dff4" shape-rendering="crispEdges"/>
<rect x="351.88" y="1291.30" width="7.14" height="42.75" fill="#d2d3d5" shape-rendering="crispEdges"/>
<rect x="358.72" y="1291.30" width="7.13" height="42.75" fill="#80a7da" shape-rendering="crispEdges"/>
<rect x="365.56" y="1291.30" width="7.13" height="42.75" fill="#ffffff" shape-rendering="crispEdges"/>
<rect x="372.39" y="1291.30" width="7.14" height="42.75" fill="#5785c9" shape-rendering="crispEdges"/>
<rect x="379.23" y="1291.30" width="7.13" height="42.75" fill="#d2d3d5" shape-rendering="crispEdges"/>
<rect x="386.06" y="1291.30" width="7.13" height="42.75" fill="#6b96d2" shape-rendering="crispEdges"/>
<rect x="392.89" y="1291.30" width="7.14" height="42.75" fill="#4a78c2" shape-rendering="crispEdges"/>
<rect x="399.73" y="1291.30" width="20.80" height="42.75" fill="#ffffff" shape-rendering="crispEdges"/>
<rect x="420.24" y="1291.30" width="13.97" height="42.75" fill="#d2d3d5" shape-rendering="crispEdges"/>
<rect x="433.90" y="1291.30" width="7.14" height="42.75" fill="#ffffff" shape-rendering="crispEdges"/>
<rect x="440.74" y="1291.30" width="7.14" height="42.75" fill="#4169b8" shape-rendering="crispEdges"/>
<rect x="447.58" y="1291.30" width="34.47" height="42.75" fill="#d2d3d5" shape-rendering="crispEdges"/>
<rect x="481.75" y="1291.30" width="7.14" height="42.75" fill="#ffffff" shape-rendering="crispEdges"/>
<rect x="488.59" y="1291.30" width="13.97" height="42.75" fill="#d2d3d5" shape-rendering="crispEdges"/>
<rect x="502.25" y="1291.30" width="7.14" height="42.75" fill="#4169b8" shape-rendering="crispEdges"/>
<rect x="509.09" y="1291.30" width="7.13" height="42.75" fill="#ffffff" shape-rendering="crispEdges"/>
<rect x="515.92" y="1291.30" width="7.14" height="42.75" fill="#d2d3d5" shape-rendering="crispEdges"/>
<rect x="522.76" y="1291.30" width="7.14" height="42.75" fill="#4169b8" shape-rendering="crispEdges"/>
<rect x="529.60" y="1291.30" width="54.98" height="42.75" fill="#d2d3d5" shape-rendering="crispEdges"/>
<rect x="584.27" y="1291.30" width="7.14" height="42.75" fill="#4169b8" shape-rendering="crispEdges"/>
<rect x="591.11" y="1291.30" width="7.14" height="42.75" fill="#d2d3d5" shape-rendering="crispEdges"/>
<rect x="597.95" y="1291.30" width="7.13" height="42.75" fill="#9dbbe3" shape-rendering="crispEdges"/>
<rect x="604.78" y="1291.30" width="13.97" height="42.75" fill="#d2d3d5" shape-rendering="crispEdges"/>
<rect x="618.45" y="1291.30" width="7.13" height="42.75" fill="#80a7da" shape-rendering="crispEdges"/>
<rect x="625.28" y="1291.30" width="7.14" height="42.75" fill="#9dbbe3" shape-rendering="crispEdges"/>
<rect x="632.12" y="1291.30" width="20.80" height="42.75" fill="#d2d3d5" shape-rendering="crispEdges"/>
<rect x="652.62" y="1291.30" width="7.14" height="42.75" fill="#ffffff" shape-rendering="crispEdges"/>
<rect x="659.46" y="1291.30" width="7.13" height="42.75" fill="#b9cfed" shape-rendering="crispEdges"/>
<rect x="666.29" y="1291.30" width="7.14" height="42.75" fill="#9dbbe3" shape-rendering="crispEdges"/>
<rect x="673.13" y="1291.30" width="7.14" height="42.75" fill="#4a78c2" shape-rendering="crispEdges"/>
<rect x="679.97" y="1291.30" width="7.14" height="42.75" fill="#5785c9" shape-rendering="crispEdges"/>
<rect x="686.80" y="1291.30" width="7.13" height="42.75" fill="#4a78c2" shape-rendering="crispEdges"/>
<rect x="693.63" y="1291.30" width="7.14" height="42.75" fill="#5785c9" shape-rendering="crispEdges"/>
<rect x="700.47" y="1291.30" width="7.14" height="42.75" fill="#ffffff" shape-rendering="crispEdges"/>
<rect x="707.31" y="1291.30" width="7.13" height="42.75" fill="#d2d3d5" shape-rendering="crispEdges"/>
<rect x="714.14" y="1291.30" width="7.14" height="42.75" fill="#9dbbe3" shape-rendering="crispEdges"/>
<rect x="720.98" y="1291.30" width="7.14" height="42.75" fill="#ffffff" shape-rendering="crispEdges"/>
<rect x="727.81" y="1291.30" width="7.13" height="42.75" fill="#b9cfed" shape-rendering="crispEdges"/>
<rect x="734.64" y="1291.30" width="20.80" height="42.75" fill="#4169b8" shape-rendering="crispEdges"/>
<rect x="755.15" y="1291.30" width="89.15" height="42.75" fill="#d2d3d5" shape-rendering="crispEdges"/>
<rect x="164.40" y="1333.75" width="10.08" height="42.75" fill="#ffffff" shape-rendering="crispEdges"/>
<rect x="174.18" y="1333.75" width="7.13" height="42.75" fill="#d2d3d5" shape-rendering="crispEdges"/>
<rect x="181.01" y="1333.75" width="7.14" height="42.75" fill="#ffffff" shape-rendering="crispEdges"/>
<rect x="187.84" y="1333.75" width="13.97" height="42.75" fill="#4169b8" shape-rendering="crispEdges"/>
<rect x="201.51" y="1333.75" width="7.14" height="42.75" fill="#6b96d2" shape-rendering="crispEdges"/>
<rect x="208.35" y="1333.75" width="20.81" height="42.75" fill="#4169b8" shape-rendering="crispEdges"/>
<rect x="228.86" y="1333.75" width="7.13" height="42.75" fill="#d2d3d5" shape-rendering="crispEdges"/>
<rect x="235.69" y="1333.75" width="7.14" height="42.75" fill="#d0dff4" shape-rendering="crispEdges"/>
<rect x="242.53" y="1333.75" width="13.97" height="42.75" fill="#d2d3d5" shape-rendering="crispEdges"/>
<rect x="256.19" y="1333.75" width="7.13" height="42.75" fill="#ffffff" shape-rendering="crispEdges"/>
<rect x="263.03" y="1333.75" width="13.97" height="42.75" fill="#d2d3d5" shape-rendering="crispEdges"/>
<rect x="276.70" y="1333.75" width="7.13" height="42.75" fill="#b9cfed" shape-rendering="crispEdges"/>
<rect x="283.53" y="1333.75" width="7.14" height="42.75" fill="#ffffff" shape-rendering="crispEdges"/>
<rect x="290.37" y="1333.75" width="7.14" height="42.75" fill="#4169b8" shape-rendering="crispEdges"/>
<rect x="297.21" y="1333.75" width="7.13" height="42.75" fill="#d0dff4" shape-rendering="crispEdges"/>
<rect x="304.04" y="1333.75" width="7.14" height="42.75" fill="#d2d3d5" shape-rendering="crispEdges"/>
<rect x="310.88" y="1333.75" width="13.97" height="42.75" fill="#4a78c2" shape-rendering="crispEdges"/>
<rect x="324.55" y="1333.75" width="13.97" height="42.75" fill="#80a7da" shape-rendering="crispEdges"/>
<rect x="338.22" y="1333.75" width="7.13" height="42.75" fill="#d2d3d5" shape-rendering="crispEdges"/>
<rect x="345.05" y="1333.75" width="7.13" height="42.75" fill="#ffffff" shape-rendering="crispEdges"/>
<rect x="351.88" y="1333.75" width="7.14" height="42.75" fill="#d2d3d5" shape-rendering="crispEdges"/>
<rect x="358.72" y="1333.75" width="20.80" height="42.75" fill="#ffffff" shape-rendering="crispEdges"/>
<rect x="379.23" y="1333.75" width="7.13" height="42.75" fill="#d2d3d5" shape-rendering="crispEdges"/>
<rect x="386.06" y="1333.75" width="7.13" height="42.75" fill="#9dbbe3" shape-rendering="crispEdges"/>
<rect x="392.89" y="1333.75" width="7.14" height="42.75" fill="#d0dff4" shape-rendering="crispEdges"/>
<rect x="399.73" y="1333.75" width="7.13" height="42.75" fill="#9dbbe3" shape-rendering="crispEdges"/>
<rect x="406.56" y="1333.75" width="7.13" height="42.75" fill="#80a7da" shape-rendering="crispEdges"/>
<rect x="413.40" y="1333.75" width="7.14" height="42.75" fill="#ffffff" shape-rendering="crispEdges"/>
<rect x="420.24" y="1333.75" width="13.97" height="42.75" fill="#d2d3d5" shape-rendering="crispEdges"/>
<rect x="433.90" y="1333.75" width="13.97" height="42.75" fill="#4169b8" shape-rendering="crispEdges"/>
<rect x="447.58" y="1333.75" width="34.47" height="42.75" fill="#d2d3d5" shape-rendering="crispEdges"/>
<rect x="481.75" y="1333.75" width="7.14" height="42.75" fill="#ffffff" shape-rendering="crispEdges"/>
<rect x="488.59" y="1333.75" width="13.97" height="42.75" fill="#d2d3d5" shape-rendering="crispEdges"/>
<rect x="502.25" y="1333.75" width="13.97" height="42.75" fill="#4169b8" shape-rendering="crispEdges"/>
<rect x="515.92" y="1333.75" width="7.14" height="42.75" fill="#d2d3d5" shape-rendering="crispEdges"/>
<rect x="522.76" y="1333.75" width="7.14" height="42.75" fill="#ffffff" shape-rendering="crispEdges"/>
<rect x="529.60" y="1333.75" width="54.98" height="42.75" fill="#d2d3d5" shape-rendering="crispEdges"/>
<rect x="584.27" y="1333.75" width="7.14" height="42.75" fill="#4169b8" shape-rendering="crispEdges"/>
<rect x="591.11" y="1333.75" width="7.14" height="42.75" fill="#d2d3d5" shape-rendering="crispEdges"/>
<rect x="597.95" y="1333.75" width="7.13" height="42.75" fill="#9dbbe3" shape-rendering="crispEdges"/>
<rect x="604.78" y="1333.75" width="13.97" height="42.75" fill="#d2d3d5" shape-rendering="crispEdges"/>
<rect x="618.45" y="1333.75" width="7.13" height="42.75" fill="#6b96d2" shape-rendering="crispEdges"/>
<rect x="625.28" y="1333.75" width="7.14" height="42.75" fill="#4169b8" shape-rendering="crispEdges"/>
<rect x="632.12" y="1333.75" width="20.80" height="42.75" fill="#d2d3d5" shape-rendering="crispEdges"/>
<rect x="652.62" y="1333.75" width="7.14" height="42.75" fill="#6b96d2" shape-rendering="crispEdges"/>
<rect x="659.46" y="1333.75" width="7.13" height="42.75" fill="#4a78c2" shape-rendering="crispEdges"/>
<rect x="666.29" y="1333.75" width="7.14" height="42.75" fill="#6b96d2" shape-rendering="crispEdges"/>
<rect x="673.13" y="1333.75" width="7.14" height="42.75" fill="#4169b8" shape-rendering="crispEdges"/>
<rect x="679.97" y="1333.75" width="7.14" height="42.75" fill="#80a7da" shape-rendering="crispEdges"/>
<rect x="686.80" y="1333.75" width="7.13" height="42.75" fill="#d0dff4" shape-rendering="crispEdges"/>
<rect x="693.63" y="1333.75" width="7.14" height="42.75" fill="#ffffff" shape-rendering="crispEdges"/>
<rect x="700.47" y="1333.75" width="7.14" height="42.75" fill="#9dbbe3" shape-rendering="crispEdges"/>
<rect x="707.31" y="1333.75" width="7.13" height="42.75" fill="#d2d3d5" shape-rendering="crispEdges"/>
<rect x="714.14" y="1333.75" width="13.97" height="42.75" fill="#ffffff" shape-rendering="crispEdges"/>
<rect x="727.81" y="1333.75" width="20.80" height="42.75" fill="#4169b8" shape-rendering="crispEdges"/>
<rect x="748.32" y="1333.75" width="7.13" height="42.75" fill="#4a78c2" shape-rendering="crispEdges"/>
<rect x="755.15" y="1333.75" width="41.31" height="42.75" fill="#d2d3d5" shape-rendering="crispEdges"/>
<rect x="796.16" y="1333.75" width="13.97" height="42.75" fill="#3b55a7" shape-rendering="crispEdges"/>
<rect x="809.83" y="1333.75" width="34.47" height="42.75" fill="#d2d3d5" shape-rendering="crispEdges"/>
<rect x="164.40" y="1376.20" width="3.24" height="42.75" fill="#d2d3d5" shape-rendering="crispEdges"/>
<rect x="167.34" y="1376.20" width="7.14" height="42.75" fill="#4169b8" shape-rendering="crispEdges"/>
<rect x="174.18" y="1376.20" width="7.13" height="42.75" fill="#d2d3d5" shape-rendering="crispEdges"/>
<rect x="181.01" y="1376.20" width="7.14" height="42.75" fill="#4169b8" shape-rendering="crispEdges"/>
<rect x="187.84" y="1376.20" width="7.14" height="42.75" fill="#80a7da" shape-rendering="crispEdges"/>
<rect x="194.68" y="1376.20" width="7.13" height="42.75" fill="#9dbbe3" shape-rendering="crispEdges"/>
<rect x="201.51" y="1376.20" width="7.14" height="42.75" fill="#ffffff" shape-rendering="crispEdges"/>
<rect x="208.35" y="1376.20" width="7.14" height="42.75" fill="#4169b8" shape-rendering="crispEdges"/>
<rect x="215.19" y="1376.20" width="7.14" height="42.75" fill="#6b96d2" shape-rendering="crispEdges"/>
<rect x="222.02" y="1376.20" width="7.14" height="42.75" fill="#b9cfed" shape-rendering="crispEdges"/>
<rect x="228.86" y="1376.20" width="7.13" height="42.75" fill="#d2d3d5" shape-rendering="crispEdges"/>
<rect x="235.69" y="1376.20" width="7.14" height="42.75" fill="#4a78c2" shape-rendering="crispEdges"/>
<rect x="242.53" y="1376.20" width="13.97" height="42.75" fill="#d2d3d5" shape-rendering="crispEdges"/>
<rect x="256.19" y="1376.20" width="7.13" height="42.75" fill="#ffffff" shape-rendering="crispEdges"/>
<rect x="263.03" y="1376.20" width="13.97" height="42.75" fill="#d2d3d5" shape-rendering="crispEdges"/>
<rect x="276.70" y="1376.20" width="7.13" height="42.75" fill="#9dbbe3" shape-rendering="crispEdges"/>
<rect x="283.53" y="1376.20" width="7.14" height="42.75" fill="#ffffff" shape-rendering="crispEdges"/>
<rect x="290.37" y="1376.20" width="7.14" height="42.75" fill="#4169b8" shape-rendering="crispEdges"/>
<rect x="297.21" y="1376.20" width="7.13" height="42.75" fill="#b9cfed" shape-rendering="crispEdges"/>
<rect x="304.04" y="1376.20" width="7.14" height="42.75" fill="#d2d3d5" shape-rendering="crispEdges"/>
<rect x="310.88" y="1376.20" width="7.14" height="42.75" fill="#9dbbe3" shape-rendering="crispEdges"/>
<rect x="317.71" y="1376.20" width="7.13" height="42.75" fill="#ffffff" shape-rendering="crispEdges"/>
<rect x="324.55" y="1376.20" width="7.13" height="42.75" fill="#4169b8" shape-rendering="crispEdges"/>
<rect x="331.38" y="1376.20" width="7.14" height="42.75" fill="#ffffff" shape-rendering="crispEdges"/>
<rect x="338.22" y="1376.20" width="7.13" height="42.75" fill="#d2d3d5" shape-rendering="crispEdges"/>
<rect x="345.05" y="1376.20" width="7.13" height="42.75" fill="#ffffff" shape-rendering="crispEdges"/>
<rect x="351.88" y="1376.20" width="7.14" height="42.75" fill="#d2d3d5" shape-rendering="crispEdges"/>
<rect x="358.72" y="1376.20" width="20.80" height="42.75" fill="#ffffff" shape-rendering="crispEdges"/>
<rect x="379.23" y="1376.20" width="7.13" height="42.75" fill="#d2d3d5" shape-rendering="crispEdges"/>
<rect x="386.06" y="1376.20" width="7.13" height="42.75" fill="#4a78c2" shape-rendering="crispEdges"/>
<rect x="392.89" y="1376.20" width="7.14" height="42.75" fill="#ffffff" shape-rendering="crispEdges"/>
<rect x="399.73" y="1376.20" width="13.97" height="42.75" fill="#80a7da" shape-rendering="crispEdges"/>
<rect x="413.40" y="1376.20" width="7.14" height="42.75" fill="#ffffff" shape-rendering="crispEdges"/>
<rect x="420.24" y="1376.20" width="13.97" height="42.75" fill="#d2d3d5" shape-rendering="crispEdges"/>
<rect x="433.90" y="1376.20" width="7.14" height="42.75" fill="#ffffff" shape-rendering="crispEdges"/>
<rect x="440.74" y="1376.20" width="7.14" height="42.75" fill="#4169b8" shape-rendering="crispEdges"/>
<rect x="447.58" y="1376.20" width="34.47" height="42.75" fill="#d2d3d5" shape-rendering="crispEdges"/>
<rect x="481.75" y="1376.20" width="7.14" height="42.75" fill="#ffffff" shape-rendering="crispEdges"/>
<rect x="488.59" y="1376.20" width="13.97" height="42.75" fill="#d2d3d5" shape-rendering="crispEdges"/>
<rect x="502.25" y="1376.20" width="13.97" height="42.75" fill="#ffffff" shape-rendering="crispEdges"/>
<rect x="515.92" y="1376.20" width="7.14" height="42.75" fill="#d2d3d5" shape-rendering="crispEdges"/>
<rect x="522.76" y="1376.20" width="7.14" height="42.75" fill="#80a7da" shape-rendering="crispEdges"/>
<rect x="529.60" y="1376.20" width="54.98" height="42.75" fill="#d2d3d5" shape-rendering="crispEdges"/>
<rect x="584.27" y="1376.20" width="7.14" height="42.75" fill="#4169b8" shape-rendering="crispEdges"/>
<rect x="591.11" y="1376.20" width="7.14" height="42.75" fill="#d2d3d5" shape-rendering="crispEdges"/>
<rect x="597.95" y="1376.20" width="7.13" height="42.75" fill="#80a7da" shape-rendering="crispEdges"/>
<rect x="604.78" y="1376.20" width="13.97" height="42.75" fill="#d2d3d5" shape-rendering="crispEdges"/>
<rect x="618.45" y="1376.20" width="13.97" height="42.75" fill="#4169b8" shape-rendering="crispEdges"/>
<rect x="632.12" y="1376.20" width="20.80" height="42.75" fill="#d2d3d5" shape-rendering="crispEdges"/>
<rect x="652.62" y="1376.20" width="7.14" height="42.75" fill="#6b96d2" shape-rendering="crispEdges"/>
<rect x="659.46" y="1376.20" width="7.13" height="42.75" fill="#80a7da" shape-rendering="crispEdges"/>
<rect x="666.29" y="1376.20" width="7.14" height="42.75" fill="#ffffff" shape-rendering="crispEdges"/>
<rect x="673.13" y="1376.20" width="7.14" height="42.75" fill="#5785c9" shape-rendering="crispEdges"/>
<rect x="679.97" y="1376.20" width="7.14" height="42.75" fill="#e6eef9" shape-rendering="crispEdges"/>
<rect x="686.80" y="1376.20" width="13.97" height="42.75" fill="#4169b8" shape-rendering="crispEdges"/>
<rect x="700.47" y="1376.20" width="7.14" height="42.75" fill="#9dbbe3" shape-rendering="crispEdges"/>
<rect x="707.31" y="1376.20" width="7.13" height="42.75" fill="#d2d3d5" shape-rendering="crispEdges"/>
<rect x="714.14" y="1376.20" width="7.14" height="42.75" fill="#4169b8" shape-rendering="crispEdges"/>
<rect x="720.98" y="1376.20" width="13.97" height="42.75" fill="#ffffff" shape-rendering="crispEdges"/>
<rect x="734.64" y="1376.20" width="13.97" height="42.75" fill="#4169b8" shape-rendering="crispEdges"/>
<rect x="748.32" y="1376.20" width="7.13" height="42.75" fill="#6b96d2" shape-rendering="crispEdges"/>
<rect x="755.15" y="1376.20" width="41.31" height="42.75" fill="#d2d3d5" shape-rendering="crispEdges"/>
<rect x="796.16" y="1376.20" width="13.97" height="42.75" fill="#3b55a7" shape-rendering="crispEdges"/>
<rect x="809.83" y="1376.20" width="34.47" height="42.75" fill="#d2d3d5" shape-rendering="crispEdges"/>
<line x1="164.40" y1="1163.95" x2="844.00" y2="1163.95" stroke="#ffffff" stroke-width="0.60" opacity="0.2"/>
<line x1="164.40" y1="1206.40" x2="844.00" y2="1206.40" stroke="#ffffff" stroke-width="0.60" opacity="0.2"/>
<line x1="164.40" y1="1248.85" x2="844.00" y2="1248.85" stroke="#ffffff" stroke-width="0.60" opacity="0.2"/>
<line x1="164.40" y1="1291.30" x2="844.00" y2="1291.30" stroke="#ffffff" stroke-width="0.60" opacity="0.2"/>
<line x1="164.40" y1="1333.75" x2="844.00" y2="1333.75" stroke="#ffffff" stroke-width="0.60" opacity="0.2"/>
<line x1="164.40" y1="1376.20" x2="844.00" y2="1376.20" stroke="#ffffff" stroke-width="0.60" opacity="0.2"/>
<rect x="162.60" y="1417.60" width="682.20" height="3.20" fill="#c6c7cd" />
<rect x="164.00" y="1420.80" width="680.80" height="4.60" fill="#cfd0d2" />
<line x1="150.00" y1="1124.60" x2="150.00" y2="1244.60" stroke="#000" stroke-width="1.60" />
<line x1="150.00" y1="1254.00" x2="150.00" y2="1413.00" stroke="#000" stroke-width="1.60" />
<text x="136.80" y="1191.30" font-size="33.80" text-anchor="middle" fill="#000" transform="rotate(-90 136.80 1191.30)" >Young</text>
<text x="136.80" y="1329.70" font-size="33.80" text-anchor="middle" fill="#000" transform="rotate(-90 136.80 1329.70)" >Old</text>
<rect x="189.50" y="1439.30" width="202.30" height="8.70" fill="#2e3a96" />
<rect x="391.70" y="1436.30" width="60.30" height="15.00" fill="#2e3a96" />
<line x1="452.00" y1="1443.80" x2="843.00" y2="1443.80" stroke="#2e3a96" stroke-width="2.70" />
<path d="M419.5 1440.6l3.6 3.2l-3.6 3.2" stroke="#fff" stroke-width="2.3" fill="none"/>
<path d="M461.8 1443.8l4.2 -3.9l4.2 3.9l-4.2 3.9zM493.7 1443.8l4.2 -3.9l4.2 3.9l-4.2 3.9zM525.6 1443.8l4.2 -3.9l4.2 3.9l-4.2 3.9zM557.6 1443.8l4.2 -3.9l4.2 3.9l-4.2 3.9zM589.5 1443.8l4.2 -3.9l4.2 3.9l-4.2 3.9zM621.4 1443.8l4.2 -3.9l4.2 3.9l-4.2 3.9zM653.3 1443.8l4.2 -3.9l4.2 3.9l-4.2 3.9zM685.2 1443.8l4.2 -3.9l4.2 3.9l-4.2 3.9zM717.2 1443.8l4.2 -3.9l4.2 3.9l-4.2 3.9zM749.1 1443.8l4.2 -3.9l4.2 3.9l-4.2 3.9zM781.0 1443.8l4.2 -3.9l4.2 3.9l-4.2 3.9zM812.9 1443.8l4.2 -3.9l4.2 3.9l-4.2 3.9z" fill="#2e3a96"/>
<text x="433.00" y="1493.00" font-size="32.70" text-anchor="start" fill="#000" >Dkk2</text>
<line x1="171.20" y1="1569.50" x2="466.30" y2="1569.50" stroke="#000" stroke-width="3.00" />
<line x1="553.00" y1="1569.50" x2="832.00" y2="1569.50" stroke="#000" stroke-width="3.00" />
<path d="M163.2 1569.5 l10 -4.2 v8.4z M840.0 1569.5 l-10 -4.2 v8.4z" fill="#000"/>
<text x="475.00" y="1575.00" font-size="18.50" text-anchor="start" fill="#000" >1,110 bp</text>
<line x1="177.50" y1="1601.00" x2="177.50" y2="1612.00" stroke="#000" stroke-width="1.60" />
<line x1="238.53" y1="1601.00" x2="238.53" y2="1612.00" stroke="#000" stroke-width="1.60" />
<line x1="299.56" y1="1601.00" x2="299.56" y2="1612.00" stroke="#000" stroke-width="1.60" />
<line x1="360.59" y1="1601.00" x2="360.59" y2="1612.00" stroke="#000" stroke-width="1.60" />
<line x1="421.62" y1="1601.00" x2="421.62" y2="1612.00" stroke="#000" stroke-width="1.60" />
<line x1="482.65" y1="1601.00" x2="482.65" y2="1612.00" stroke="#000" stroke-width="1.60" />
<line x1="543.68" y1="1601.00" x2="543.68" y2="1612.00" stroke="#000" stroke-width="1.60" />
<line x1="604.71" y1="1601.00" x2="604.71" y2="1612.00" stroke="#000" stroke-width="1.60" />
<line x1="665.74" y1="1601.00" x2="665.74" y2="1612.00" stroke="#000" stroke-width="1.60" />
<line x1="726.77" y1="1601.00" x2="726.77" y2="1612.00" stroke="#000" stroke-width="1.60" />
<line x1="787.80" y1="1601.00" x2="787.80" y2="1612.00" stroke="#000" stroke-width="1.60" />
<text x="304.16" y="1595.60" font-size="11.05" text-anchor="middle" fill="#000" >24,522,200 bp</text>
<text x="426.22" y="1595.60" font-size="11.05" text-anchor="middle" fill="#000" >24,522,400 bp</text>
<text x="548.28" y="1595.60" font-size="11.05" text-anchor="middle" fill="#000" >24,522,600 bp</text>
<text x="670.34" y="1595.60" font-size="11.05" text-anchor="middle" fill="#000" >24,522,800 bp</text>
<rect x="162.5" y="1612.6" width="677.6" height="10.3" fill="#f9fbfe" stroke="#000" stroke-width="2"/>
<rect x="161.75" y="1625.70" width="14.80" height="42.66" fill="#ffffff" shape-rendering="crispEdges"/>
<rect x="176.25" y="1625.70" width="15.57" height="42.66" fill="#d0dff4" shape-rendering="crispEdges"/>
<rect x="191.52" y="1625.70" width="30.84" height="42.66" fill="#ffffff" shape-rendering="crispEdges"/>
<rect x="222.06" y="1625.70" width="15.57" height="42.66" fill="#b9cfed" shape-rendering="crispEdges"/>
<rect x="237.33" y="1625.70" width="15.57" height="42.66" fill="#80a7da" shape-rendering="crispEdges"/>
<rect x="252.60" y="1625.70" width="15.57" height="42.66" fill="#e6eef9" shape-rendering="crispEdges"/>
<rect x="267.87" y="1625.70" width="15.57" height="42.66" fill="#d0dff4" shape-rendering="crispEdges"/>
<rect x="283.14" y="1625.70" width="15.57" height="42.66" fill="#ffffff" shape-rendering="crispEdges"/>
<rect x="298.41" y="1625.70" width="15.57" height="42.66" fill="#e6eef9" shape-rendering="crispEdges"/>
<rect x="313.68" y="1625.70" width="15.57" height="42.66" fill="#b9cfed" shape-rendering="crispEdges"/>
<rect x="328.95" y="1625.70" width="15.57" height="42.66" fill="#d0dff4" shape-rendering="crispEdges"/>
<rect x="344.22" y="1625.70" width="15.57" height="42.66" fill="#e6eef9" shape-rendering="crispEdges"/>
<rect x="359.49" y="1625.70" width="15.57" height="42.66" fill="#d0dff4" shape-rendering="crispEdges"/>
<rect x="374.76" y="1625.70" width="15.57" height="42.66" fill="#ffffff" shape-rendering="crispEdges"/>
<rect x="390.03" y="1625.70" width="15.57" height="42.66" fill="#d0dff4" shape-rendering="crispEdges"/>
<rect x="405.30" y="1625.70" width="15.57" height="42.66" fill="#9dbbe3" shape-rendering="crispEdges"/>
<rect x="420.57" y="1625.70" width="15.57" height="42.66" fill="#d0dff4" shape-rendering="crispEdges"/>
<rect x="435.84" y="1625.70" width="15.57" height="42.66" fill="#9dbbe3" shape-rendering="crispEdges"/>
<rect x="451.11" y="1625.70" width="15.57" height="42.66" fill="#6b96d2" shape-rendering="crispEdges"/>
<rect x="466.38" y="1625.70" width="15.57" height="42.66" fill="#d2d3d5" shape-rendering="crispEdges"/>
<rect x="481.65" y="1625.70" width="15.57" height="42.66" fill="#ffffff" shape-rendering="crispEdges"/>
<rect x="496.92" y="1625.70" width="15.57" height="42.66" fill="#d2d3d5" shape-rendering="crispEdges"/>
<rect x="512.19" y="1625.70" width="30.84" height="42.66" fill="#ffffff" shape-rendering="crispEdges"/>
<rect x="542.73" y="1625.70" width="30.84" height="42.66" fill="#e6eef9" shape-rendering="crispEdges"/>
<rect x="573.27" y="1625.70" width="15.57" height="42.66" fill="#d0dff4" shape-rendering="crispEdges"/>
<rect x="588.54" y="1625.70" width="30.84" height="42.66" fill="#ffffff" shape-rendering="crispEdges"/>
<rect x="619.08" y="1625.70" width="15.57" height="42.66" fill="#d0dff4" shape-rendering="crispEdges"/>
<rect x="634.35" y="1625.70" width="15.57" height="42.66" fill="#b9cfed" shape-rendering="crispEdges"/>
<rect x="649.62" y="1625.70" width="15.57" height="42.66" fill="#ffffff" shape-rendering="crispEdges"/>
<rect x="664.89" y="1625.70" width="30.84" height="42.66" fill="#80a7da" shape-rendering="crispEdges"/>
<rect x="695.43" y="1625.70" width="15.57" height="42.66" fill="#d2d3d5" shape-rendering="crispEdges"/>
<rect x="710.70" y="1625.70" width="15.57" height="42.66" fill="#b9cfed" shape-rendering="crispEdges"/>
<rect x="725.97" y="1625.70" width="46.11" height="42.66" fill="#ffffff" shape-rendering="crispEdges"/>
<rect x="771.78" y="1625.70" width="30.84" height="42.66" fill="#d2d3d5" shape-rendering="crispEdges"/>
<rect x="802.32" y="1625.70" width="30.84" height="42.66" fill="#ffffff" shape-rendering="crispEdges"/>
<rect x="832.86" y="1625.70" width="8.19" height="42.66" fill="#d2d3d5" shape-rendering="crispEdges"/>
<rect x="161.75" y="1668.06" width="91.15" height="42.66" fill="#ffffff" shape-rendering="crispEdges"/>
<rect x="252.60" y="1668.06" width="15.57" height="42.66" fill="#d0dff4" shape-rendering="crispEdges"/>
<rect x="267.87" y="1668.06" width="15.57" height="42.66" fill="#e6eef9" shape-rendering="crispEdges"/>
<rect x="283.14" y="1668.06" width="15.57" height="42.66" fill="#9dbbe3" shape-rendering="crispEdges"/>
<rect x="298.41" y="1668.06" width="30.84" height="42.66" fill="#ffffff" shape-rendering="crispEdges"/>
<rect x="328.95" y="1668.06" width="15.57" height="42.66" fill="#b9cfed" shape-rendering="crispEdges"/>
<rect x="344.22" y="1668.06" width="15.57" height="42.66" fill="#80a7da" shape-rendering="crispEdges"/>
<rect x="359.49" y="1668.06" width="15.57" height="42.66" fill="#ffffff" shape-rendering="crispEdges"/>
<rect x="374.76" y="1668.06" width="30.84" height="42.66" fill="#e6eef9" shape-rendering="crispEdges"/>
<rect x="405.30" y="1668.06" width="30.84" height="42.66" fill="#ffffff" shape-rendering="crispEdges"/>
<rect x="435.84" y="1668.06" width="15.57" height="42.66" fill="#6b96d2" shape-rendering="crispEdges"/>
<rect x="451.11" y="1668.06" width="15.57" height="42.66" fill="#ffffff" shape-rendering="crispEdges"/>
<rect x="466.38" y="1668.06" width="15.57" height="42.66" fill="#d2d3d5" shape-rendering="crispEdges"/>
<rect x="481.65" y="1668.06" width="15.57" height="42.66" fill="#ffffff" shape-rendering="crispEdges"/>
<rect x="496.92" y="1668.06" width="15.57" height="42.66" fill="#d2d3d5" shape-rendering="crispEdges"/>
<rect x="512.19" y="1668.06" width="30.84" height="42.66" fill="#ffffff" shape-rendering="crispEdges"/>
<rect x="542.73" y="1668.06" width="15.57" height="42.66" fill="#d0dff4" shape-rendering="crispEdges"/>
<rect x="558.00" y="1668.06" width="15.57" height="42.66" fill="#ffffff" shape-rendering="crispEdges"/>
<rect x="573.27" y="1668.06" width="15.57" height="42.66" fill="#9dbbe3" shape-rendering="crispEdges"/>
<rect x="588.54" y="1668.06" width="15.57" height="42.66" fill="#b9cfed" shape-rendering="crispEdges"/>
<rect x="603.81" y="1668.06" width="15.57" height="42.66" fill="#80a7da" shape-rendering="crispEdges"/>
<rect x="619.08" y="1668.06" width="15.57" height="42.66" fill="#9dbbe3" shape-rendering="crispEdges"/>
<rect x="634.35" y="1668.06" width="61.38" height="42.66" fill="#ffffff" shape-rendering="crispEdges"/>
<rect x="695.43" y="1668.06" width="15.57" height="42.66" fill="#d2d3d5" shape-rendering="crispEdges"/>
<rect x="710.70" y="1668.06" width="15.57" height="42.66" fill="#d0dff4" shape-rendering="crispEdges"/>
<rect x="725.97" y="1668.06" width="15.57" height="42.66" fill="#ffffff" shape-rendering="crispEdges"/>
<rect x="741.24" y="1668.06" width="15.57" height="42.66" fill="#4169b8" shape-rendering="crispEdges"/>
<rect x="756.51" y="1668.06" width="30.84" height="42.66" fill="#ffffff" shape-rendering="crispEdges"/>
<rect x="787.05" y="1668.06" width="15.57" height="42.66" fill="#d2d3d5" shape-rendering="crispEdges"/>
<rect x="802.32" y="1668.06" width="30.84" height="42.66" fill="#ffffff" shape-rendering="crispEdges"/>
<rect x="832.86" y="1668.06" width="8.19" height="42.66" fill="#d2d3d5" shape-rendering="crispEdges"/>
<rect x="161.75" y="1710.42" width="60.61" height="42.66" fill="#ffffff" shape-rendering="crispEdges"/>
<rect x="222.06" y="1710.42" width="15.57" height="42.66" fill="#d0dff4" shape-rendering="crispEdges"/>
<rect x="237.33" y="1710.42" width="15.57" height="42.66" fill="#4a78c2" shape-rendering="crispEdges"/>
<rect x="252.60" y="1710.42" width="76.65" height="42.66" fill="#ffffff" shape-rendering="crispEdges"/>
<rect x="328.95" y="1710.42" width="15.57" height="42.66" fill="#9dbbe3" shape-rendering="crispEdges"/>
<rect x="344.22" y="1710.42" width="15.57" height="42.66" fill="#e6eef9" shape-rendering="crispEdges"/>
<rect x="359.49" y="1710.42" width="15.57" height="42.66" fill="#9dbbe3" shape-rendering="crispEdges"/>
<rect x="374.76" y="1710.42" width="30.84" height="42.66" fill="#ffffff" shape-rendering="crispEdges"/>
<rect x="405.30" y="1710.42" width="15.57" height="42.66" fill="#b9cfed" shape-rendering="crispEdges"/>
<rect x="420.57" y="1710.42" width="30.84" height="42.66" fill="#d0dff4" shape-rendering="crispEdges"/>
<rect x="451.11" y="1710.42" width="15.57" height="42.66" fill="#ffffff" shape-rendering="crispEdges"/>
<rect x="466.38" y="1710.42" width="15.57" height="42.66" fill="#d2d3d5" shape-rendering="crispEdges"/>
<rect x="481.65" y="1710.42" width="15.57" height="42.66" fill="#ffffff" shape-rendering="crispEdges"/>
<rect x="496.92" y="1710.42" width="15.57" height="42.66" fill="#d2d3d5" shape-rendering="crispEdges"/>
<rect x="512.19" y="1710.42" width="46.11" height="42.66" fill="#ffffff" shape-rendering="crispEdges"/>
<rect x="558.00" y="1710.42" width="15.57" height="42.66" fill="#b9cfed" shape-rendering="crispEdges"/>
<rect x="573.27" y="1710.42" width="15.57" height="42.66" fill="#e6eef9" shape-rendering="crispEdges"/>
<rect x="588.54" y="1710.42" width="46.11" height="42.66" fill="#ffffff" shape-rendering="crispEdges"/>
<rect x="634.35" y="1710.42" width="30.84" height="42.66" fill="#4169b8" shape-rendering="crispEdges"/>
<rect x="664.89" y="1710.42" width="15.57" height="42.66" fill="#6b96d2" shape-rendering="crispEdges"/>
<rect x="680.16" y="1710.42" width="15.57" height="42.66" fill="#ffffff" shape-rendering="crispEdges"/>
<rect x="695.43" y="1710.42" width="15.57" height="42.66" fill="#d2d3d5" shape-rendering="crispEdges"/>
<rect x="710.70" y="1710.42" width="15.57" height="42.66" fill="#9dbbe3" shape-rendering="crispEdges"/>
<rect x="725.97" y="1710.42" width="30.84" height="42.66" fill="#ffffff" shape-rendering="crispEdges"/>
<rect x="756.51" y="1710.42" width="15.57" height="42.66" fill="#9dbbe3" shape-rendering="crispEdges"/>
<rect x="771.78" y="1710.42" width="15.57" height="42.66" fill="#4169b8" shape-rendering="crispEdges"/>
<rect x="787.05" y="1710.42" width="15.57" height="42.66" fill="#d2d3d5" shape-rendering="crispEdges"/>
<rect x="802.32" y="1710.42" width="15.57" height="42.66" fill="#3b55a7" shape-rendering="crispEdges"/>
<rect x="817.59" y="1710.42" width="15.57" height="42.66" fill="#ffffff" shape-rendering="crispEdges"/>
<rect x="832.86" y="1710.42" width="8.19" height="42.66" fill="#d2d3d5" shape-rendering="crispEdges"/>
<rect x="161.75" y="1752.78" width="30.07" height="42.66" fill="#ffffff" shape-rendering="crispEdges"/>
<rect x="191.52" y="1752.78" width="15.57" height="42.66" fill="#b9cfed" shape-rendering="crispEdges"/>
<rect x="206.79" y="1752.78" width="15.57" height="42.66" fill="#e6eef9" shape-rendering="crispEdges"/>
<rect x="222.06" y="1752.78" width="15.57" height="42.66" fill="#ffffff" shape-rendering="crispEdges"/>
<rect x="237.33" y="1752.78" width="15.57" height="42.66" fill="#d0dff4" shape-rendering="crispEdges"/>
<rect x="252.60" y="1752.78" width="15.57" height="42.66" fill="#ffffff" shape-rendering="crispEdges"/>
<rect x="267.87" y="1752.78" width="15.57" height="42.66" fill="#d0dff4" shape-rendering="crispEdges"/>
<rect x="283.14" y="1752.78" width="76.65" height="42.66" fill="#ffffff" shape-rendering="crispEdges"/>
<rect x="359.49" y="1752.78" width="15.57" height="42.66" fill="#d0dff4" shape-rendering="crispEdges"/>
<rect x="374.76" y="1752.78" width="15.57" height="42.66" fill="#e6eef9" shape-rendering="crispEdges"/>
<rect x="390.03" y="1752.78" width="15.57" height="42.66" fill="#ffffff" shape-rendering="crispEdges"/>
<rect x="405.30" y="1752.78" width="30.84" height="42.66" fill="#d0dff4" shape-rendering="crispEdges"/>
<rect x="435.84" y="1752.78" width="30.84" height="42.66" fill="#ffffff" shape-rendering="crispEdges"/>
<rect x="466.38" y="1752.78" width="15.57" height="42.66" fill="#d2d3d5" shape-rendering="crispEdges"/>
<rect x="481.65" y="1752.78" width="15.57" height="42.66" fill="#ffffff" shape-rendering="crispEdges"/>
<rect x="496.92" y="1752.78" width="15.57" height="42.66" fill="#d2d3d5" shape-rendering="crispEdges"/>
<rect x="512.19" y="1752.78" width="15.57" height="42.66" fill="#b9cfed" shape-rendering="crispEdges"/>
<rect x="527.46" y="1752.78" width="15.57" height="42.66" fill="#6b96d2" shape-rendering="crispEdges"/>
<rect x="542.73" y="1752.78" width="15.57" height="42.66" fill="#e6eef9" shape-rendering="crispEdges"/>
<rect x="558.00" y="1752.78" width="15.57" height="42.66" fill="#b9cfed" shape-rendering="crispEdges"/>
<rect x="573.27" y="1752.78" width="15.57" height="42.66" fill="#f3f7fc" shape-rendering="crispEdges"/>
<rect x="588.54" y="1752.78" width="15.57" height="42.66" fill="#b9cfed" shape-rendering="crispEdges"/>
<rect x="603.81" y="1752.78" width="15.57" height="42.66" fill="#ffffff" shape-rendering="crispEdges"/>
<rect x="619.08" y="1752.78" width="30.84" height="42.66" fill="#9dbbe3" shape-rendering="crispEdges"/>
<rect x="649.62" y="1752.78" width="30.84" height="42.66" fill="#ffffff" shape-rendering="crispEdges"/>
<rect x="680.16" y="1752.78" width="15.57" height="42.66" fill="#80a7da" shape-rendering="crispEdges"/>
<rect x="695.43" y="1752.78" width="15.57" height="42.66" fill="#d2d3d5" shape-rendering="crispEdges"/>
<rect x="710.70" y="1752.78" width="15.57" height="42.66" fill="#4169b8" shape-rendering="crispEdges"/>
<rect x="725.97" y="1752.78" width="15.57" height="42.66" fill="#ffffff" shape-rendering="crispEdges"/>
<rect x="741.24" y="1752.78" width="15.57" height="42.66" fill="#4169b8" shape-rendering="crispEdges"/>
<rect x="756.51" y="1752.78" width="15.57" height="42.66" fill="#80a7da" shape-rendering="crispEdges"/>
<rect x="771.78" y="1752.78" width="15.57" height="42.66" fill="#ffffff" shape-rendering="crispEdges"/>
<rect x="787.05" y="1752.78" width="15.57" height="42.66" fill="#d2d3d5" shape-rendering="crispEdges"/>
<rect x="802.32" y="1752.78" width="30.84" height="42.66" fill="#ffffff" shape-rendering="crispEdges"/>
<rect x="832.86" y="1752.78" width="8.19" height="42.66" fill="#d2d3d5" shape-rendering="crispEdges"/>
<rect x="161.75" y="1795.14" width="14.80" height="42.66" fill="#e6eef9" shape-rendering="crispEdges"/>
<rect x="176.25" y="1795.14" width="30.84" height="42.66" fill="#ffffff" shape-rendering="crispEdges"/>
<rect x="206.79" y="1795.14" width="15.57" height="42.66" fill="#e6eef9" shape-rendering="crispEdges"/>
<rect x="222.06" y="1795.14" width="30.84" height="42.66" fill="#ffffff" shape-rendering="crispEdges"/>
<rect x="252.60" y="1795.14" width="15.57" height="42.66" fill="#d0dff4" shape-rendering="crispEdges"/>
<rect x="267.87" y="1795.14" width="15.57" height="42.66" fill="#b9cfed" shape-rendering="crispEdges"/>
<rect x="283.14" y="1795.14" width="15.57" height="42.66" fill="#d0dff4" shape-rendering="crispEdges"/>
<rect x="298.41" y="1795.14" width="15.57" height="42.66" fill="#e6eef9" shape-rendering="crispEdges"/>
<rect x="313.68" y="1795.14" width="46.11" height="42.66" fill="#ffffff" shape-rendering="crispEdges"/>
<rect x="359.49" y="1795.14" width="15.57" height="42.66" fill="#9dbbe3" shape-rendering="crispEdges"/>
<rect x="374.76" y="1795.14" width="15.57" height="42.66" fill="#f3f7fc" shape-rendering="crispEdges"/>
<rect x="390.03" y="1795.14" width="15.57" height="42.66" fill="#ffffff" shape-rendering="crispEdges"/>
<rect x="405.30" y="1795.14" width="15.57" height="42.66" fill="#d0dff4" shape-rendering="crispEdges"/>
<rect x="420.57" y="1795.14" width="30.84" height="42.66" fill="#9dbbe3" shape-rendering="crispEdges"/>
<rect x="451.11" y="1795.14" width="15.57" height="42.66" fill="#ffffff" shape-rendering="crispEdges"/>
<rect x="466.38" y="1795.14" width="15.57" height="42.66" fill="#d2d3d5" shape-rendering="crispEdges"/>
<rect x="481.65" y="1795.14" width="15.57" height="42.66" fill="#ffffff" shape-rendering="crispEdges"/>
<rect x="496.92" y="1795.14" width="15.57" height="42.66" fill="#d2d3d5" shape-rendering="crispEdges"/>
<rect x="512.19" y="1795.14" width="15.57" height="42.66" fill="#b9cfed" shape-rendering="crispEdges"/>
<rect x="527.46" y="1795.14" width="15.57" height="42.66" fill="#6b96d2" shape-rendering="crispEdges"/>
<rect x="542.73" y="1795.14" width="30.84" height="42.66" fill="#ffffff" shape-rendering="crispEdges"/>
<rect x="573.27" y="1795.14" width="15.57" height="42.66" fill="#b9cfed" shape-rendering="crispEdges"/>
<rect x="588.54" y="1795.14" width="15.57" height="42.66" fill="#6b96d2" shape-rendering="crispEdges"/>
<rect x="603.81" y="1795.14" width="46.11" height="42.66" fill="#ffffff" shape-rendering="crispEdges"/>
<rect x="649.62" y="1795.14" width="15.57" height="42.66" fill="#4169b8" shape-rendering="crispEdges"/>
<rect x="664.89" y="1795.14" width="30.84" height="42.66" fill="#b9cfed" shape-rendering="crispEdges"/>
<rect x="695.43" y="1795.14" width="15.57" height="42.66" fill="#d2d3d5" shape-rendering="crispEdges"/>
<rect x="710.70" y="1795.14" width="15.57" height="42.66" fill="#9dbbe3" shape-rendering="crispEdges"/>
<rect x="725.97" y="1795.14" width="15.57" height="42.66" fill="#ffffff" shape-rendering="crispEdges"/>
<rect x="741.24" y="1795.14" width="15.57" height="42.66" fill="#4169b8" shape-rendering="crispEdges"/>
<rect x="756.51" y="1795.14" width="15.57" height="42.66" fill="#9dbbe3" shape-rendering="crispEdges"/>
<rect x="771.78" y="1795.14" width="15.57" height="42.66" fill="#ffffff" shape-rendering="crispEdges"/>
<rect x="787.05" y="1795.14" width="15.57" height="42.66" fill="#d2d3d5" shape-rendering="crispEdges"/>
<rect x="802.32" y="1795.14" width="15.57" height="42.66" fill="#ffffff" shape-rendering="crispEdges"/>
<rect x="817.59" y="1795.14" width="15.57" height="42.66" fill="#5785c9" shape-rendering="crispEdges"/>
<rect x="832.86" y="1795.14" width="8.19" height="42.66" fill="#d2d3d5" shape-rendering="crispEdges"/>
<rect x="161.75" y="1837.50" width="14.80" height="42.66" fill="#e6eef9" shape-rendering="crispEdges"/>
<rect x="176.25" y="1837.50" width="91.92" height="42.66" fill="#ffffff" shape-rendering="crispEdges"/>
<rect x="267.87" y="1837.50" width="15.57" height="42.66" fill="#f3f7fc" shape-rendering="crispEdges"/>
<rect x="283.14" y="1837.50" width="15.57" height="42.66" fill="#e6eef9" shape-rendering="crispEdges"/>
<rect x="298.41" y="1837.50" width="15.57" height="42.66" fill="#ffffff" shape-rendering="crispEdges"/>
<rect x="313.68" y="1837.50" width="15.57" height="42.66" fill="#e6eef9" shape-rendering="crispEdges"/>
<rect x="328.95" y="1837.50" width="15.57" height="42.66" fill="#b9cfed" shape-rendering="crispEdges"/>
<rect x="344.22" y="1837.50" width="15.57" height="42.66" fill="#e6eef9" shape-rendering="crispEdges"/>
<rect x="359.49" y="1837.50" width="15.57" height="42.66" fill="#ffffff" shape-rendering="crispEdges"/>
<rect x="374.76" y="1837.50" width="46.11" height="42.66" fill="#e6eef9" shape-rendering="crispEdges"/>
<rect x="420.57" y="1837.50" width="15.57" height="42.66" fill="#b9cfed" shape-rendering="crispEdges"/>
<rect x="435.84" y="1837.50" width="30.84" height="42.66" fill="#ffffff" shape-rendering="crispEdges"/>
<rect x="466.38" y="1837.50" width="15.57" height="42.66" fill="#d2d3d5" shape-rendering="crispEdges"/>
<rect x="481.65" y="1837.50" width="15.57" height="42.66" fill="#ffffff" shape-rendering="crispEdges"/>
<rect x="496.92" y="1837.50" width="15.57" height="42.66" fill="#d2d3d5" shape-rendering="crispEdges"/>
<rect x="512.19" y="1837.50" width="15.57" height="42.66" fill="#ffffff" shape-rendering="crispEdges"/>
<rect x="527.46" y="1837.50" width="15.57" height="42.66" fill="#9dbbe3" shape-rendering="crispEdges"/>
<rect x="542.73" y="1837.50" width="15.57" height="42.66" fill="#f3f7fc" shape-rendering="crispEdges"/>
<rect x="558.00" y="1837.50" width="15.57" height="42.66" fill="#b9cfed" shape-rendering="crispEdges"/>
<rect x="573.27" y="1837.50" width="15.57" height="42.66" fill="#f3f7fc" shape-rendering="crispEdges"/>
<rect x="588.54" y="1837.50" width="15.57" height="42.66" fill="#e6eef9" shape-rendering="crispEdges"/>
<rect x="603.81" y="1837.50" width="15.57" height="42.66" fill="#ffffff" shape-rendering="crispEdges"/>
<rect x="619.08" y="1837.50" width="15.57" height="42.66" fill="#80a7da" shape-rendering="crispEdges"/>
<rect x="634.35" y="1837.50" width="15.57" height="42.66" fill="#ffffff" shape-rendering="crispEdges"/>
<rect x="649.62" y="1837.50" width="15.57" height="42.66" fill="#9dbbe3" shape-rendering="crispEdges"/>
<rect x="664.89" y="1837.50" width="15.57" height="42.66" fill="#d0dff4" shape-rendering="crispEdges"/>
<rect x="680.16" y="1837.50" width="15.57" height="42.66" fill="#5785c9" shape-rendering="crispEdges"/>
<rect x="695.43" y="1837.50" width="15.57" height="42.66" fill="#d2d3d5" shape-rendering="crispEdges"/>
<rect x="710.70" y="1837.50" width="15.57" height="42.66" fill="#4169b8" shape-rendering="crispEdges"/>
<rect x="725.97" y="1837.50" width="15.57" height="42.66" fill="#80a7da" shape-rendering="crispEdges"/>
<rect x="741.24" y="1837.50" width="15.57" height="42.66" fill="#5785c9" shape-rendering="crispEdges"/>
<rect x="756.51" y="1837.50" width="30.84" height="42.66" fill="#ffffff" shape-rendering="crispEdges"/>
<rect x="787.05" y="1837.50" width="15.57" height="42.66" fill="#d2d3d5" shape-rendering="crispEdges"/>
<rect x="802.32" y="1837.50" width="15.57" height="42.66" fill="#ffffff" shape-rendering="crispEdges"/>
<rect x="817.59" y="1837.50" width="15.57" height="42.66" fill="#80a7da" shape-rendering="crispEdges"/>
<rect x="832.86" y="1837.50" width="8.19" height="42.66" fill="#d2d3d5" shape-rendering="crispEdges"/>
<rect x="161.75" y="1879.86" width="45.34" height="42.66" fill="#ffffff" shape-rendering="crispEdges"/>
<rect x="206.79" y="1879.86" width="15.57" height="42.66" fill="#d0dff4" shape-rendering="crispEdges"/>
<rect x="222.06" y="1879.86" width="30.84" height="42.66" fill="#ffffff" shape-rendering="crispEdges"/>
<rect x="252.60" y="1879.86" width="15.57" height="42.66" fill="#f3f7fc" shape-rendering="crispEdges"/>
<rect x="267.87" y="1879.86" width="15.57" height="42.66" fill="#ffffff" shape-rendering="crispEdges"/>
<rect x="283.14" y="1879.86" width="15.57" height="42.66" fill="#e6eef9" shape-rendering="crispEdges"/>
<rect x="298.41" y="1879.86" width="30.84" height="42.66" fill="#f3f7fc" shape-rendering="crispEdges"/>
<rect x="328.95" y="1879.86" width="15.57" height="42.66" fill="#ffffff" shape-rendering="crispEdges"/>
<rect x="344.22" y="1879.86" width="15.57" height="42.66" fill="#b9cfed" shape-rendering="crispEdges"/>
<rect x="359.49" y="1879.86" width="46.11" height="42.66" fill="#ffffff" shape-rendering="crispEdges"/>
<rect x="405.30" y="1879.86" width="15.57" height="42.66" fill="#80a7da" shape-rendering="crispEdges"/>
<rect x="420.57" y="1879.86" width="15.57" height="42.66" fill="#4a78c2" shape-rendering="crispEdges"/>
<rect x="435.84" y="1879.86" width="15.57" height="42.66" fill="#4169b8" shape-rendering="crispEdges"/>
<rect x="451.11" y="1879.86" width="15.57" height="42.66" fill="#ffffff" shape-rendering="crispEdges"/>
<rect x="466.38" y="1879.86" width="15.57" height="42.66" fill="#d2d3d5" shape-rendering="crispEdges"/>
<rect x="481.65" y="1879.86" width="15.57" height="42.66" fill="#ffffff" shape-rendering="crispEdges"/>
<rect x="496.92" y="1879.86" width="15.57" height="42.66" fill="#d2d3d5" shape-rendering="crispEdges"/>
<rect x="512.19" y="1879.86" width="15.57" height="42.66" fill="#ffffff" shape-rendering="crispEdges"/>
<rect x="527.46" y="1879.86" width="15.57" height="42.66" fill="#4169b8" shape-rendering="crispEdges"/>
<rect x="542.73" y="1879.86" width="15.57" height="42.66" fill="#d0dff4" shape-rendering="crispEdges"/>
<rect x="558.00" y="1879.86" width="30.84" height="42.66" fill="#b9cfed" shape-rendering="crispEdges"/>
<rect x="588.54" y="1879.86" width="15.57" height="42.66" fill="#d0dff4" shape-rendering="crispEdges"/>
<rect x="603.81" y="1879.86" width="15.57" height="42.66" fill="#ffffff" shape-rendering="crispEdges"/>
<rect x="619.08" y="1879.86" width="15.57" height="42.66" fill="#e6eef9" shape-rendering="crispEdges"/>
<rect x="634.35" y="1879.86" width="15.57" height="42.66" fill="#ffffff" shape-rendering="crispEdges"/>
<rect x="649.62" y="1879.86" width="15.57" height="42.66" fill="#9dbbe3" shape-rendering="crispEdges"/>
<rect x="664.89" y="1879.86" width="15.57" height="42.66" fill="#d0dff4" shape-rendering="crispEdges"/>
<rect x="680.16" y="1879.86" width="15.57" height="42.66" fill="#80a7da" shape-rendering="crispEdges"/>
<rect x="695.43" y="1879.86" width="15.57" height="42.66" fill="#d2d3d5" shape-rendering="crispEdges"/>
<rect x="710.70" y="1879.86" width="15.57" height="42.66" fill="#4169b8" shape-rendering="crispEdges"/>
<rect x="725.97" y="1879.86" width="15.57" height="42.66" fill="#80a7da" shape-rendering="crispEdges"/>
<rect x="741.24" y="1879.86" width="15.57" height="42.66" fill="#5785c9" shape-rendering="crispEdges"/>
<rect x="756.51" y="1879.86" width="30.84" height="42.66" fill="#4a78c2" shape-rendering="crispEdges"/>
<rect x="787.05" y="1879.86" width="15.57" height="42.66" fill="#d2d3d5" shape-rendering="crispEdges"/>
<rect x="802.32" y="1879.86" width="15.57" height="42.66" fill="#ffffff" shape-rendering="crispEdges"/>
<rect x="817.59" y="1879.86" width="15.57" height="42.66" fill="#9dbbe3" shape-rendering="crispEdges"/>
<rect x="832.86" y="1879.86" width="8.19" height="42.66" fill="#d2d3d5" shape-rendering="crispEdges"/>
<line x1="161.75" y1="1668.06" x2="840.75" y2="1668.06" stroke="#dfe3ea" stroke-width="0.70" opacity="0.6"/>
<line x1="161.75" y1="1710.42" x2="840.75" y2="1710.42" stroke="#dfe3ea" stroke-width="0.70" opacity="0.6"/>
<line x1="161.75" y1="1752.78" x2="840.75" y2="1752.78" stroke="#dfe3ea" stroke-width="0.70" opacity="0.6"/>
<line x1="161.75" y1="1795.14" x2="840.75" y2="1795.14" stroke="#dfe3ea" stroke-width="0.70" opacity="0.6"/>
<line x1="161.75" y1="1837.50" x2="840.75" y2="1837.50" stroke="#dfe3ea" stroke-width="0.70" opacity="0.6"/>
<line x1="161.75" y1="1879.86" x2="840.75" y2="1879.86" stroke="#dfe3ea" stroke-width="0.70" opacity="0.6"/>
<line x1="161.90" y1="1625.70" x2="161.90" y2="1922.20" stroke="#e6e9ee" stroke-width="0.80" />
<rect x="160.20" y="1922.20" width="681.80" height="3.20" fill="#c6c7cd" />
<rect x="161.60" y="1925.40" width="680.40" height="4.60" fill="#cfd0d2" />
<line x1="150.00" y1="1628.90" x2="150.00" y2="1748.70" stroke="#000" stroke-width="1.60" />
<line x1="150.00" y1="1758.00" x2="150.00" y2="1917.40" stroke="#000" stroke-width="1.60" />
<text x="137.00" y="1695.90" font-size="33.80" text-anchor="middle" fill="#000" transform="rotate(-90 137.00 1695.90)" >Young</text>
<text x="137.00" y="1833.70" font-size="33.80" text-anchor="middle" fill="#000" transform="rotate(-90 137.00 1833.70)" >Old</text>
<rect x="169.20" y="1947.00" width="163.80" height="8.50" fill="#2e3a96" />
<rect x="333.00" y="1943.60" width="332.80" height="15.20" fill="#2e3a96" />
<line x1="665.80" y1="1951.20" x2="840.50" y2="1951.20" stroke="#2e3a96" stroke-width="2.70" />
<path d="M361.1 1948l3.6 3.2l-3.6 3.2M393.0 1948l3.6 3.2l-3.6 3.2M424.8 1948l3.6 3.2l-3.6 3.2M456.7 1948l3.6 3.2l-3.6 3.2M488.5 1948l3.6 3.2l-3.6 3.2M520.4 1948l3.6 3.2l-3.6 3.2M552.3 1948l3.6 3.2l-3.6 3.2M584.1 1948l3.6 3.2l-3.6 3.2M616.0 1948l3.6 3.2l-3.6 3.2M647.8 1948l3.6 3.2l-3.6 3.2" stroke="#fff" stroke-width="2.3" fill="none"/>
<path d="M674.9 1951.2l4.2 -3.9l4.2 3.9l-4.2 3.9zM706.9 1951.2l4.2 -3.9l4.2 3.9l-4.2 3.9zM738.8 1951.2l4.2 -3.9l4.2 3.9l-4.2 3.9zM770.8 1951.2l4.2 -3.9l4.2 3.9l-4.2 3.9zM802.7 1951.2l4.2 -3.9l4.2 3.9l-4.2 3.9z" fill="#2e3a96"/>
<text x="638.00" y="2003.00" font-size="32.30" text-anchor="start" fill="#000" >Sfrp1</text>
<defs><linearGradient id="cb" x1="0" y1="0" x2="0" y2="1"><stop offset="0" stop-color="#fff"/><stop offset="0.022" stop-color="#fff"/><stop offset="0.05" stop-color="#eef3fb"/><stop offset="0.106" stop-color="#c9dbf3"/><stop offset="0.166" stop-color="#a2bfe6"/><stop offset="0.21" stop-color="#85abdc"/><stop offset="0.25" stop-color="#6593d0"/><stop offset="0.29" stop-color="#4b7bc2"/><stop offset="0.32" stop-color="#4070b9"/><stop offset="0.62" stop-color="#3f6eb8"/><stop offset="0.80" stop-color="#3e5dac"/><stop offset="1" stop-color="#3b54a6"/></linearGradient></defs>
<rect x="921.00" y="1341.50" width="39.20" height="372.00" fill="url(#cb)" />
<text x="916.00" y="1360.20" font-size="27.80" text-anchor="end" fill="#000" >0</text>
<text x="916.30" y="1712.50" font-size="27.80" text-anchor="end" fill="#000" >100</text>
<text x="906.00" y="1515.00" font-size="27.20" text-anchor="middle" fill="#000" transform="rotate(-90 906.00 1515.00)" >Methylation %</text>
<text x="999.00" y="970.00" font-size="64.00" text-anchor="start" fill="#000" >d</text>
<text x="1493.50" y="987.00" font-size="41.05" text-anchor="middle" fill="#000" >Correlation ACCA drift and 2 genes</text>
<text x="1498.50" y="1037.00" font-size="40.75" text-anchor="middle" fill="#000" >(DKK2 and SFRP1)</text>
<path d="M1208 1323L1777.5 1053L1777.5 1077L1208 1352z" fill="#f9f9f9"/>
<path d="M1208 1333.5L1777.5 1060L1777.5 1069.5L1208 1342.5z" fill="#c8c8c8"/>
<path d="M1207.7 1378.4h0M1261.6 1326.7h0M1272.6 1293.3h0M1280.7 1309.5h0M1281.7 1306.9h0M1303.7 1311.9h0M1338.2 1273.8h0M1341.0 1281.1h0M1342.8 1282.8h0M1360.3 1276.5h0M1363.3 1277.7h0M1376.1 1274.5h0M1385.4 1247.7h0M1353.6 1153.9h0M1403.0 1211.3h0M1417.6 1224.6h0M1420.4 1235.2h0M1427.1 1223.4h0M1427.9 1224.4h0M1435.2 1226.9h0M1442.5 1237.2h0M1444.9 1255.2h0M1453.8 1247.7h0M1453.8 1181.9h0M1455.0 1210.3h0M1479.1 1207.8h0M1492.0 1177.8h0M1500.9 1181.1h0M1498.7 1202.2h0M1512.9 1228.5h0M1517.7 1203.6h0M1516.9 1205.4h0M1521.4 1174.2h0M1523.4 1175.8h0M1530.3 1146.5h0M1532.5 1177.2h0M1539.2 1186.4h0M1542.1 1183.9h0M1542.3 1193.6h0M1548.1 1194.5h0M1557.0 1185.9h0M1558.7 1128.4h0M1559.9 1137.3h0M1566.2 1207.6h0M1574.9 1195.7h0M1578.1 1184.3h0M1581.7 1161.2h0M1586.4 1230.9h0M1586.6 1130.3h0M1592.7 1149.3h0M1599.0 1174.4h0M1600.0 1166.7h0M1612.1 1157.8h0M1614.6 1137.3h0M1615.2 1145.8h0M1617.4 1134.3h0M1621.8 1151.7h0M1624.1 1125.8h0M1629.1 1150.9h0M1633.2 1146.9h0M1637.2 1100.9h0M1644.7 1082.3h0M1651.8 1131.5h0M1655.1 1105.3h0M1670.3 1122.6h0M1677.3 1106.8h0M1677.9 1053.1h0M1690.7 1129.6h0M1692.7 1056.1h0M1698.0 1114.3h0M1704.9 1130.9h0M1712.0 1130.5h0M1728.8 1081.2h0M1749.0 1100.7h0M1778.8 1069.9h0" stroke="#5560ad" stroke-width="6.4" stroke-linecap="round" fill="none"/>
<path d="M1179.5 1036V1392.5H1807.5" stroke="#000" stroke-width="3.5" fill="none" stroke-linecap="square"/>
<rect x="1173.80" y="1036.20" width="4.20" height="2.60" fill="#111" />
<text x="1171.40" y="1043.90" font-size="27.60" text-anchor="end" fill="#111" >0.8</text>
<rect x="1173.80" y="1144.70" width="4.20" height="2.60" fill="#111" />
<text x="1171.40" y="1150.40" font-size="27.60" text-anchor="end" fill="#111" >0.6</text>
<rect x="1173.80" y="1252.30" width="4.20" height="2.60" fill="#111" />
<text x="1171.40" y="1258.90" font-size="27.60" text-anchor="end" fill="#111" >0.4</text>
<rect x="1173.80" y="1359.70" width="4.20" height="2.60" fill="#111" />
<text x="1171.40" y="1366.30" font-size="27.60" text-anchor="end" fill="#111" >0.2</text>
<rect x="1215.70" y="1394.00" width="2.60" height="3.40" fill="#111" />
<text x="1208.40" y="1421.30" font-size="27.60" text-anchor="start" fill="#111" >0.3</text>
<rect x="1365.30" y="1394.00" width="2.60" height="3.40" fill="#111" />
<text x="1358.00" y="1421.30" font-size="27.60" text-anchor="start" fill="#111" >0.4</text>
<rect x="1514.90" y="1394.00" width="2.60" height="3.40" fill="#111" />
<text x="1507.60" y="1421.30" font-size="27.60" text-anchor="start" fill="#111" >0.5</text>
<rect x="1664.50" y="1394.00" width="2.60" height="3.40" fill="#111" />
<text x="1657.20" y="1421.30" font-size="27.60" text-anchor="start" fill="#111" >0.6</text>
<text x="1328.00" y="1467.50" font-size="34.20" text-anchor="start" fill="#111" >DNAm ACCA drift genes</text>
<text x="1110.00" y="1200.00" font-size="33.80" text-anchor="middle" fill="#111" transform="rotate(-90 1110.00 1200.00)" >DNAm (2 genes)</text>
<text x="1200" y="1054.5" font-size="20" fill="#111"><tspan font-style="italic">R</tspan> = 0.99</text>
<text x="1196.3" y="1076.8" font-size="20" fill="#111"><tspan font-style="italic">R</tspan><tspan font-size="11" dy="-8" dx="-1">2</tspan><tspan dy="8" dx="4">= 0.86</tspan></text>
<text x="1493.50" y="1536.30" font-size="41.05" text-anchor="middle" fill="#000" >Correlation ACCA drift and 4 genes</text>
<text x="1497.80" y="1585.00" font-size="40.75" text-anchor="middle" fill="#000" >(DKK1/2, SFRP1/2)</text>
<path d="M1206.9 1916L1776.6 1638L1776.6 1662L1206.9 1945z" fill="#f9f9f9"/>
<path d="M1206.9 1926.4L1776.6 1645.6L1776.6 1655.2L1206.9 1935.6z" fill="#c8c8c8"/>
<path d="M1206.3 1959.8h0M1260.4 1848.2h0M1271.3 1908.7h0M1279.4 1890.9h0M1280.9 1903.9h0M1302.3 1839.7h0M1336.8 1890.9h0M1340.0 1878.4h0M1341.4 1918.3h0M1352.2 1816.2h0M1359.0 1845.5h0M1362.3 1849.6h0M1374.8 1864.6h0M1384.2 1822.1h0M1402.0 1871.7h0M1416.4 1830.4h0M1419.2 1819.0h0M1426.1 1803.2h0M1426.5 1838.5h0M1434.2 1792.7h0M1441.3 1817.6h0M1443.5 1807.1h0M1452.6 1800.6h0M1452.6 1835.4h0M1454.0 1813.1h0M1477.7 1787.4h0M1491.0 1776.5h0M1497.7 1786.2h0M1499.9 1795.1h0M1511.9 1814.2h0M1517.1 1817.8h0M1516.1 1788.2h0M1520.4 1735.4h0M1522.4 1740.4h0M1529.1 1766.2h0M1531.3 1775.1h0M1538.2 1760.7h0M1541.0 1748.9h0M1541.4 1750.6h0M1547.1 1770.6h0M1555.6 1773.0h0M1557.4 1770.6h0M1559.1 1760.5h0M1565.1 1783.2h0M1573.6 1805.2h0M1577.1 1767.0h0M1580.7 1813.1h0M1581.1 1737.0h0M1585.2 1752.4h0M1585.6 1704.4h0M1591.5 1740.4h0M1598.2 1799.2h0M1599.2 1733.5h0M1611.1 1699.7h0M1613.7 1711.1h0M1614.2 1755.4h0M1616.4 1799.0h0M1620.8 1717.3h0M1623.1 1703.6h0M1628.1 1707.4h0M1632.2 1735.0h0M1636.2 1715.1h0M1643.7 1708.6h0M1651.0 1701.5h0M1653.8 1684.7h0M1669.2 1681.1h0M1676.3 1673.8h0M1676.9 1713.5h0M1689.9 1691.4h0M1691.3 1635.7h0M1696.8 1699.5h0M1703.9 1709.4h0M1711.0 1694.7h0M1727.6 1668.5h0M1747.8 1666.7h0M1778.0 1633.9h0" stroke="#5560ad" stroke-width="6.4" stroke-linecap="round" fill="none"/>
<path d="M1179.5 1617V1974H1806.5" stroke="#000" stroke-width="3.5" fill="none" stroke-linecap="square"/>
<rect x="1173.80" y="1651.20" width="4.20" height="2.60" fill="#111" />
<text x="1171.40" y="1657.00" font-size="27.60" text-anchor="end" fill="#111" >0.7</text>
<rect x="1173.80" y="1714.20" width="4.20" height="2.60" fill="#111" />
<text x="1171.40" y="1720.00" font-size="27.60" text-anchor="end" fill="#111" >0.6</text>
<rect x="1173.80" y="1777.20" width="4.20" height="2.60" fill="#111" />
<text x="1171.40" y="1783.00" font-size="27.60" text-anchor="end" fill="#111" >0.5</text>
<rect x="1173.80" y="1840.20" width="4.20" height="2.60" fill="#111" />
<text x="1171.40" y="1846.00" font-size="27.60" text-anchor="end" fill="#111" >0.4</text>
<rect x="1173.80" y="1903.20" width="4.20" height="2.60" fill="#111" />
<text x="1171.40" y="1909.00" font-size="27.60" text-anchor="end" fill="#111" >0.3</text>
<rect x="1173.80" y="1966.20" width="4.20" height="2.60" fill="#111" />
<text x="1171.40" y="1972.00" font-size="27.60" text-anchor="end" fill="#111" >0.2</text>
<rect x="1215.00" y="1975.60" width="2.60" height="3.40" fill="#111" />
<text x="1207.70" y="2002.80" font-size="27.60" text-anchor="start" fill="#111" >0.3</text>
<rect x="1364.00" y="1975.60" width="2.60" height="3.40" fill="#111" />
<text x="1356.70" y="2002.80" font-size="27.60" text-anchor="start" fill="#111" >0.4</text>
<rect x="1513.00" y="1975.60" width="2.60" height="3.40" fill="#111" />
<text x="1505.70" y="2002.80" font-size="27.60" text-anchor="start" fill="#111" >0.5</text>
<rect x="1662.00" y="1975.60" width="2.60" height="3.40" fill="#111" />
<text x="1654.70" y="2002.80" font-size="27.60" text-anchor="start" fill="#111" >0.6</text>
<text x="1324.50" y="2048.40" font-size="34.20" text-anchor="start" fill="#111" >DNAm ACCA drift genes</text>
<text x="1110.00" y="1780.30" font-size="33.80" text-anchor="middle" fill="#111" transform="rotate(-90 1110.00 1780.30)" >DNAm (4 genes)</text>
<text x="1199.6" y="1633.9" font-size="20" fill="#111"><tspan font-style="italic">R</tspan> = 0.99</text>
<text x="1195.6" y="1658.1" font-size="20" fill="#111"><tspan font-style="italic">R</tspan><tspan font-size="11" dy="-8" dx="-1">2</tspan><tspan dy="8" dx="4">= 0.86</tspan></text>
<text x="-2.00" y="2121.30" font-size="64.00" text-anchor="start" fill="#000" >e</text>
<text x="977.30" y="2159.80" font-size="40.74" text-anchor="middle" fill="#000" >Permutation test (DKK &amp; SFRP)</text>
<line x1="213.75" y1="2200.60" x2="213.75" y2="2660.00" stroke="#231f20" stroke-width="1.40" />
<line x1="479.25" y1="2200.60" x2="479.25" y2="2660.00" stroke="#231f20" stroke-width="1.40" />
<line x1="744.75" y1="2200.60" x2="744.75" y2="2660.00" stroke="#231f20" stroke-width="1.40" />
<line x1="346.50" y1="2200.60" x2="346.50" y2="2660.00" stroke="#231f20" stroke-width="3.60" />
<line x1="612.00" y1="2200.60" x2="612.00" y2="2660.00" stroke="#231f20" stroke-width="3.60" />
<line x1="877.50" y1="2200.60" x2="877.50" y2="2660.00" stroke="#231f20" stroke-width="3.60" />
<rect x="162.4" y="2200.6" width="730.2" height="459.4" fill="none" stroke="#231f20" stroke-width="3.7"/>
<g fill="#4a7bcd" stroke="#2a4a9e" stroke-width="0.9"><circle cx="440.0" cy="2213.9" r="3.6"/><circle cx="436.6" cy="2218.3" r="3.6"/><circle cx="428.1" cy="2222.8" r="3.6"/><circle cx="428.1" cy="2227.2" r="3.6"/><circle cx="415.9" cy="2231.7" r="3.6"/><circle cx="407.4" cy="2236.2" r="3.6"/><circle cx="391.6" cy="2240.6" r="3.6"/><circle cx="388.4" cy="2245.1" r="3.6"/><circle cx="386.9" cy="2249.5" r="3.6"/><circle cx="384.0" cy="2254.0" r="3.6"/><circle cx="382.1" cy="2258.4" r="3.6"/><circle cx="381.4" cy="2262.8" r="3.6"/><circle cx="381.0" cy="2267.3" r="3.6"/><circle cx="380.6" cy="2271.8" r="3.6"/><circle cx="365.1" cy="2276.2" r="3.6"/><circle cx="362.8" cy="2280.7" r="3.6"/><circle cx="361.3" cy="2285.1" r="3.6"/><circle cx="360.3" cy="2289.6" r="3.6"/><circle cx="354.6" cy="2294.0" r="3.6"/><circle cx="353.7" cy="2298.5" r="3.6"/><circle cx="353.3" cy="2302.9" r="3.6"/><circle cx="352.7" cy="2307.3" r="3.6"/><circle cx="349.9" cy="2311.8" r="3.6"/><circle cx="345.1" cy="2316.2" r="3.6"/><circle cx="343.8" cy="2320.7" r="3.6"/><circle cx="342.6" cy="2325.2" r="3.6"/><circle cx="341.9" cy="2329.6" r="3.6"/><circle cx="341.3" cy="2334.1" r="3.6"/><circle cx="340.4" cy="2338.5" r="3.6"/><circle cx="337.5" cy="2343.0" r="3.6"/><circle cx="337.5" cy="2347.4" r="3.6"/><circle cx="337.0" cy="2351.8" r="3.6"/><circle cx="336.0" cy="2356.3" r="3.6"/><circle cx="335.6" cy="2360.8" r="3.6"/><circle cx="332.8" cy="2365.2" r="3.6"/><circle cx="332.4" cy="2369.7" r="3.6"/><circle cx="329.0" cy="2374.1" r="3.6"/><circle cx="328.6" cy="2378.6" r="3.6"/><circle cx="326.3" cy="2383.0" r="3.6"/><circle cx="325.2" cy="2387.5" r="3.6"/><circle cx="322.9" cy="2391.9" r="3.6"/><circle cx="322.0" cy="2396.3" r="3.6"/><circle cx="320.1" cy="2400.8" r="3.6"/><circle cx="319.1" cy="2405.2" r="3.6"/><circle cx="316.6" cy="2409.7" r="3.6"/><circle cx="316.1" cy="2414.2" r="3.6"/><circle cx="315.7" cy="2418.6" r="3.6"/><circle cx="313.8" cy="2423.1" r="3.6"/><circle cx="312.5" cy="2427.5" r="3.6"/><circle cx="309.4" cy="2432.0" r="3.6"/><circle cx="308.7" cy="2436.4" r="3.6"/><circle cx="308.7" cy="2440.8" r="3.6"/><circle cx="308.7" cy="2445.3" r="3.6"/><circle cx="302.8" cy="2449.8" r="3.6"/><circle cx="300.1" cy="2454.2" r="3.6"/><circle cx="300.1" cy="2458.7" r="3.6"/><circle cx="299.9" cy="2463.1" r="3.6"/><circle cx="294.8" cy="2467.6" r="3.6"/><circle cx="294.0" cy="2472.0" r="3.6"/><circle cx="288.7" cy="2476.5" r="3.6"/><circle cx="288.7" cy="2480.9" r="3.6"/><circle cx="288.2" cy="2485.3" r="3.6"/><circle cx="286.8" cy="2489.8" r="3.6"/><circle cx="284.5" cy="2494.2" r="3.6"/><circle cx="283.4" cy="2498.7" r="3.6"/><circle cx="280.0" cy="2503.2" r="3.6"/><circle cx="276.8" cy="2507.6" r="3.6"/><circle cx="276.2" cy="2512.1" r="3.6"/><circle cx="273.9" cy="2516.5" r="3.6"/><circle cx="273.5" cy="2521.0" r="3.6"/><circle cx="273.5" cy="2525.4" r="3.6"/><circle cx="273.3" cy="2529.8" r="3.6"/><circle cx="273.0" cy="2534.3" r="3.6"/><circle cx="271.1" cy="2538.8" r="3.6"/><circle cx="270.5" cy="2543.2" r="3.6"/><circle cx="266.7" cy="2547.7" r="3.6"/><circle cx="262.9" cy="2552.1" r="3.6"/><circle cx="258.7" cy="2556.6" r="3.6"/><circle cx="255.5" cy="2561.0" r="3.6"/><circle cx="254.6" cy="2565.5" r="3.6"/><circle cx="254.4" cy="2569.9" r="3.6"/><circle cx="254.4" cy="2574.3" r="3.6"/><circle cx="254.4" cy="2578.8" r="3.6"/><circle cx="254.0" cy="2583.2" r="3.6"/><circle cx="249.2" cy="2587.7" r="3.6"/><circle cx="244.9" cy="2592.2" r="3.6"/><circle cx="242.6" cy="2596.6" r="3.6"/><circle cx="241.6" cy="2601.1" r="3.6"/><circle cx="237.8" cy="2605.5" r="3.6"/><circle cx="232.7" cy="2610.0" r="3.6"/><circle cx="227.0" cy="2614.4" r="3.6"/><circle cx="220.8" cy="2618.8" r="3.6"/><circle cx="217.9" cy="2623.3" r="3.6"/><circle cx="216.0" cy="2627.8" r="3.6"/><circle cx="213.7" cy="2632.2" r="3.6"/><circle cx="211.3" cy="2636.7" r="3.6"/><circle cx="196.1" cy="2641.1" r="3.6"/><circle cx="189.8" cy="2645.6" r="3.6"/><circle cx="187.2" cy="2650.0" r="3.6"/><circle cx="184.1" cy="2654.5" r="3.6"/></g>
<circle cx="875.3" cy="2209" r="3.7" fill="#4a7bcd" stroke="#2a4a9e" stroke-width="0.9"/>
<text x="155.00" y="2209.60" font-size="20.00" text-anchor="end" fill="#111" >DKK2 &amp; SFRP1</text>
<line x1="150.20" y1="2213.00" x2="150.20" y2="2656.00" stroke="#231f20" stroke-width="1.70" />
<text x="345.50" y="2684.50" font-size="20.30" text-anchor="middle" fill="#111" >0.0</text>
<text x="610.30" y="2684.50" font-size="20.30" text-anchor="middle" fill="#111" >0.5</text>
<text x="875.50" y="2684.50" font-size="20.30" text-anchor="middle" fill="#111" >1.0</text>
<line x1="1162.15" y1="2200.60" x2="1162.15" y2="2660.00" stroke="#231f20" stroke-width="1.40" />
<line x1="1431.65" y1="2200.60" x2="1431.65" y2="2660.00" stroke="#231f20" stroke-width="1.40" />
<line x1="1701.15" y1="2200.60" x2="1701.15" y2="2660.00" stroke="#231f20" stroke-width="1.40" />
<line x1="1296.90" y1="2200.60" x2="1296.90" y2="2660.00" stroke="#231f20" stroke-width="3.60" />
<line x1="1566.40" y1="2200.60" x2="1566.40" y2="2660.00" stroke="#231f20" stroke-width="3.60" />
<line x1="1835.90" y1="2200.60" x2="1835.90" y2="2660.00" stroke="#231f20" stroke-width="3.60" />
<rect x="1114.3" y="2200.6" width="730.8" height="459.4" fill="none" stroke="#231f20" stroke-width="3.7"/>
<g fill="#4a7bcd" stroke="#2a4a9e" stroke-width="0.9"><circle cx="1417.0" cy="2213.6" r="3.6"/><circle cx="1376.4" cy="2218.0" r="3.6"/><circle cx="1353.7" cy="2222.5" r="3.6"/><circle cx="1342.3" cy="2226.9" r="3.6"/><circle cx="1334.9" cy="2231.4" r="3.6"/><circle cx="1328.8" cy="2235.8" r="3.6"/><circle cx="1325.9" cy="2240.2" r="3.6"/><circle cx="1322.1" cy="2244.7" r="3.6"/><circle cx="1321.8" cy="2249.2" r="3.6"/><circle cx="1318.3" cy="2253.6" r="3.6"/><circle cx="1315.5" cy="2258.1" r="3.6"/><circle cx="1310.4" cy="2262.5" r="3.6"/><circle cx="1310.4" cy="2267.0" r="3.6"/><circle cx="1310.0" cy="2271.4" r="3.6"/><circle cx="1309.8" cy="2275.9" r="3.6"/><circle cx="1307.3" cy="2280.3" r="3.6"/><circle cx="1306.9" cy="2284.8" r="3.6"/><circle cx="1306.0" cy="2289.2" r="3.6"/><circle cx="1304.3" cy="2293.7" r="3.6"/><circle cx="1303.9" cy="2298.1" r="3.6"/><circle cx="1303.2" cy="2302.6" r="3.6"/><circle cx="1295.6" cy="2307.0" r="3.6"/><circle cx="1290.4" cy="2311.5" r="3.6"/><circle cx="1285.5" cy="2315.9" r="3.6"/><circle cx="1281.3" cy="2320.4" r="3.6"/><circle cx="1280.4" cy="2324.8" r="3.6"/><circle cx="1274.7" cy="2329.2" r="3.6"/><circle cx="1273.7" cy="2333.7" r="3.6"/><circle cx="1269.4" cy="2338.2" r="3.6"/><circle cx="1269.0" cy="2342.6" r="3.6"/><circle cx="1268.6" cy="2347.1" r="3.6"/><circle cx="1264.8" cy="2351.5" r="3.6"/><circle cx="1263.3" cy="2356.0" r="3.6"/><circle cx="1261.0" cy="2360.4" r="3.6"/><circle cx="1258.0" cy="2364.9" r="3.6"/><circle cx="1257.6" cy="2369.3" r="3.6"/><circle cx="1257.6" cy="2373.8" r="3.6"/><circle cx="1255.7" cy="2378.2" r="3.6"/><circle cx="1252.8" cy="2382.7" r="3.6"/><circle cx="1252.5" cy="2387.1" r="3.6"/><circle cx="1252.3" cy="2391.6" r="3.6"/><circle cx="1251.5" cy="2396.0" r="3.6"/><circle cx="1250.9" cy="2400.5" r="3.6"/><circle cx="1250.4" cy="2404.9" r="3.6"/><circle cx="1249.6" cy="2409.4" r="3.6"/><circle cx="1249.2" cy="2413.8" r="3.6"/><circle cx="1248.9" cy="2418.2" r="3.6"/><circle cx="1248.5" cy="2422.7" r="3.6"/><circle cx="1248.1" cy="2427.2" r="3.6"/><circle cx="1247.7" cy="2431.6" r="3.6"/><circle cx="1247.1" cy="2436.1" r="3.6"/><circle cx="1245.2" cy="2440.5" r="3.6"/><circle cx="1244.9" cy="2445.0" r="3.6"/><circle cx="1244.7" cy="2449.4" r="3.6"/><circle cx="1243.9" cy="2453.9" r="3.6"/><circle cx="1243.5" cy="2458.3" r="3.6"/><circle cx="1243.2" cy="2462.8" r="3.6"/><circle cx="1240.9" cy="2467.2" r="3.6"/><circle cx="1238.6" cy="2471.7" r="3.6"/><circle cx="1237.6" cy="2476.1" r="3.6"/><circle cx="1237.1" cy="2480.6" r="3.6"/><circle cx="1236.7" cy="2485.0" r="3.6"/><circle cx="1235.9" cy="2489.5" r="3.6"/><circle cx="1234.8" cy="2493.9" r="3.6"/><circle cx="1232.9" cy="2498.4" r="3.6"/><circle cx="1231.0" cy="2502.8" r="3.6"/><circle cx="1230.2" cy="2507.2" r="3.6"/><circle cx="1229.1" cy="2511.7" r="3.6"/><circle cx="1228.5" cy="2516.2" r="3.6"/><circle cx="1228.2" cy="2520.6" r="3.6"/><circle cx="1226.8" cy="2525.1" r="3.6"/><circle cx="1224.0" cy="2529.5" r="3.6"/><circle cx="1224.0" cy="2534.0" r="3.6"/><circle cx="1222.5" cy="2538.4" r="3.6"/><circle cx="1219.6" cy="2542.9" r="3.6"/><circle cx="1217.0" cy="2547.3" r="3.6"/><circle cx="1216.6" cy="2551.8" r="3.6"/><circle cx="1215.8" cy="2556.2" r="3.6"/><circle cx="1212.8" cy="2560.7" r="3.6"/><circle cx="1212.4" cy="2565.1" r="3.6"/><circle cx="1212.0" cy="2569.6" r="3.6"/><circle cx="1210.9" cy="2574.0" r="3.6"/><circle cx="1208.8" cy="2578.5" r="3.6"/><circle cx="1205.6" cy="2582.9" r="3.6"/><circle cx="1205.0" cy="2587.4" r="3.6"/><circle cx="1203.5" cy="2591.8" r="3.6"/><circle cx="1200.6" cy="2596.2" r="3.6"/><circle cx="1195.9" cy="2600.7" r="3.6"/><circle cx="1191.5" cy="2605.2" r="3.6"/><circle cx="1187.3" cy="2609.6" r="3.6"/><circle cx="1183.5" cy="2614.1" r="3.6"/><circle cx="1183.5" cy="2618.5" r="3.6"/><circle cx="1175.9" cy="2623.0" r="3.6"/><circle cx="1175.6" cy="2627.4" r="3.6"/><circle cx="1173.1" cy="2631.9" r="3.6"/><circle cx="1171.2" cy="2636.3" r="3.6"/><circle cx="1162.3" cy="2640.8" r="3.6"/><circle cx="1157.5" cy="2645.2" r="3.6"/><circle cx="1155.1" cy="2649.7" r="3.6"/><circle cx="1139.9" cy="2654.1" r="3.6"/></g>
<circle cx="1830.3" cy="2209" r="3.7" fill="#4a7bcd" stroke="#2a4a9e" stroke-width="0.9"/>
<text x="1106.00" y="2209.60" font-size="20.25" text-anchor="end" fill="#111" >DKK1/2 &amp; SFRP1/2</text>
<line x1="1104.20" y1="2213.00" x2="1104.20" y2="2656.00" stroke="#231f20" stroke-width="1.70" />
<text x="1301.90" y="2684.50" font-size="20.30" text-anchor="middle" fill="#111" >0.0</text>
<text x="1568.40" y="2684.50" font-size="20.30" text-anchor="middle" fill="#111" >0.5</text>
<text x="1833.60" y="2684.50" font-size="20.30" text-anchor="middle" fill="#111" >1.0</text>
<text x="139.80" y="2417.70" font-size="27.00" text-anchor="middle" fill="#111" transform="rotate(-90 139.80 2417.70)" >Random groups (2 genes)</text>
<text x="1093.50" y="2417.70" font-size="27.00" text-anchor="middle" fill="#111" transform="rotate(-90 1093.50 2417.70)" >Random groups (4 genes)</text>
<text x="370" y="2710" font-size="27.06" fill="#111">Correlation coefficient (<tspan font-style="italic">R</tspan>)</text>
<text x="1333.8" y="2709.7" font-size="27.06" fill="#111">Correlation coefficient (<tspan font-style="italic">R</tspan>)</text>
<text x="864.30" y="2271.80" font-size="20.10" text-anchor="end" fill="#111" >DKK2 &amp; SFRP1</text>
<text x="1824.60" y="2272.20" font-size="20.30" text-anchor="end" fill="#111" >DKK1/2 &amp; SFRP1/2</text>
<line x1="839.10" y1="2251.60" x2="856.28" y2="2231.30" stroke="#231f20" stroke-width="1.70" />
<path d="M865.0 2221.0L859.7 2236.8L850.3 2228.8z" fill="#231f20"/>
<line x1="1793.00" y1="2251.60" x2="1809.46" y2="2231.45" stroke="#231f20" stroke-width="1.70" />
<path d="M1818.0 2221.0L1813.0 2236.9L1803.4 2229.1z" fill="#231f20"/>
</svg></body></html>
